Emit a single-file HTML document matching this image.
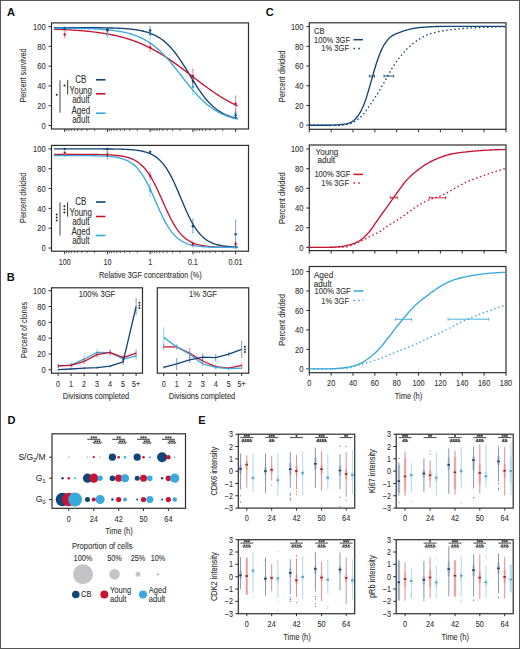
<!DOCTYPE html>
<html><head><meta charset="utf-8"><style>
html,body{margin:0;padding:0;background:#fff;}
svg{display:block;}
</style></head><body>
<svg width="520" height="649" viewBox="0 0 520 649" style="font-family:'Liberation Sans', sans-serif">
<rect width="520" height="649" fill="#fff"/>
<rect x="0.5" y="0.5" width="519" height="648" fill="none" stroke="#555" stroke-width="1"/>
<text transform="translate(11,15.8) scale(0.98,1)" font-size="11.3" text-anchor="middle" fill="#111" font-weight="bold">A</text>
<text transform="translate(10.8,281.2) scale(0.98,1)" font-size="11.3" text-anchor="middle" fill="#111" font-weight="bold">B</text>
<text transform="translate(269.7,15.9) scale(0.98,1)" font-size="11.3" text-anchor="middle" fill="#111" font-weight="bold">C</text>
<text transform="translate(11.4,423.8) scale(0.98,1)" font-size="11.3" text-anchor="middle" fill="#111" font-weight="bold">D</text>
<text transform="translate(202,423.8) scale(0.98,1)" font-size="11.3" text-anchor="middle" fill="#111" font-weight="bold">E</text>
<rect x="51.5" y="22.9" width="197" height="106.1" fill="none" stroke="#2e2e2e" stroke-width="1.2"/>
<line x1="48.5" y1="125.5" x2="51.5" y2="125.5" stroke="#2e2e2e" stroke-width="1" />
<text transform="translate(45.7,128.74) scale(0.84,1)" font-size="9" text-anchor="end" fill="#333333" font-weight="normal" stroke="#333333" stroke-width="0.1">0</text>
<line x1="48.5" y1="105.72" x2="51.5" y2="105.72" stroke="#2e2e2e" stroke-width="1" />
<text transform="translate(45.7,108.96) scale(0.84,1)" font-size="9" text-anchor="end" fill="#333333" font-weight="normal" stroke="#333333" stroke-width="0.1">20</text>
<line x1="48.5" y1="85.94" x2="51.5" y2="85.94" stroke="#2e2e2e" stroke-width="1" />
<text transform="translate(45.7,89.18) scale(0.84,1)" font-size="9" text-anchor="end" fill="#333333" font-weight="normal" stroke="#333333" stroke-width="0.1">40</text>
<line x1="48.5" y1="66.16" x2="51.5" y2="66.16" stroke="#2e2e2e" stroke-width="1" />
<text transform="translate(45.7,69.4) scale(0.84,1)" font-size="9" text-anchor="end" fill="#333333" font-weight="normal" stroke="#333333" stroke-width="0.1">60</text>
<line x1="48.5" y1="46.38" x2="51.5" y2="46.38" stroke="#2e2e2e" stroke-width="1" />
<text transform="translate(45.7,49.62) scale(0.84,1)" font-size="9" text-anchor="end" fill="#333333" font-weight="normal" stroke="#333333" stroke-width="0.1">80</text>
<line x1="48.5" y1="26.6" x2="51.5" y2="26.6" stroke="#2e2e2e" stroke-width="1" />
<text transform="translate(45.7,29.84) scale(0.84,1)" font-size="9" text-anchor="end" fill="#333333" font-weight="normal" stroke="#333333" stroke-width="0.1">100</text>
<line x1="64.7" y1="129" x2="64.7" y2="132" stroke="#2e2e2e" stroke-width="1" />
<line x1="94.56" y1="129" x2="94.56" y2="131" stroke="#2e2e2e" stroke-width="0.7" />
<line x1="87.04" y1="129" x2="87.04" y2="131" stroke="#2e2e2e" stroke-width="0.7" />
<line x1="81.7" y1="129" x2="81.7" y2="131" stroke="#2e2e2e" stroke-width="0.7" />
<line x1="77.56" y1="129" x2="77.56" y2="131" stroke="#2e2e2e" stroke-width="0.7" />
<line x1="74.18" y1="129" x2="74.18" y2="131" stroke="#2e2e2e" stroke-width="0.7" />
<line x1="71.32" y1="129" x2="71.32" y2="131" stroke="#2e2e2e" stroke-width="0.7" />
<line x1="68.84" y1="129" x2="68.84" y2="131" stroke="#2e2e2e" stroke-width="0.7" />
<line x1="66.65" y1="129" x2="66.65" y2="131" stroke="#2e2e2e" stroke-width="0.7" />
<line x1="107.42" y1="129" x2="107.42" y2="132" stroke="#2e2e2e" stroke-width="1" />
<line x1="137.28" y1="129" x2="137.28" y2="131" stroke="#2e2e2e" stroke-width="0.7" />
<line x1="129.76" y1="129" x2="129.76" y2="131" stroke="#2e2e2e" stroke-width="0.7" />
<line x1="124.42" y1="129" x2="124.42" y2="131" stroke="#2e2e2e" stroke-width="0.7" />
<line x1="120.28" y1="129" x2="120.28" y2="131" stroke="#2e2e2e" stroke-width="0.7" />
<line x1="116.9" y1="129" x2="116.9" y2="131" stroke="#2e2e2e" stroke-width="0.7" />
<line x1="114.04" y1="129" x2="114.04" y2="131" stroke="#2e2e2e" stroke-width="0.7" />
<line x1="111.56" y1="129" x2="111.56" y2="131" stroke="#2e2e2e" stroke-width="0.7" />
<line x1="109.37" y1="129" x2="109.37" y2="131" stroke="#2e2e2e" stroke-width="0.7" />
<line x1="150.14" y1="129" x2="150.14" y2="132" stroke="#2e2e2e" stroke-width="1" />
<line x1="180" y1="129" x2="180" y2="131" stroke="#2e2e2e" stroke-width="0.7" />
<line x1="172.48" y1="129" x2="172.48" y2="131" stroke="#2e2e2e" stroke-width="0.7" />
<line x1="167.14" y1="129" x2="167.14" y2="131" stroke="#2e2e2e" stroke-width="0.7" />
<line x1="163" y1="129" x2="163" y2="131" stroke="#2e2e2e" stroke-width="0.7" />
<line x1="159.62" y1="129" x2="159.62" y2="131" stroke="#2e2e2e" stroke-width="0.7" />
<line x1="156.76" y1="129" x2="156.76" y2="131" stroke="#2e2e2e" stroke-width="0.7" />
<line x1="154.28" y1="129" x2="154.28" y2="131" stroke="#2e2e2e" stroke-width="0.7" />
<line x1="152.09" y1="129" x2="152.09" y2="131" stroke="#2e2e2e" stroke-width="0.7" />
<line x1="192.86" y1="129" x2="192.86" y2="132" stroke="#2e2e2e" stroke-width="1" />
<line x1="222.72" y1="129" x2="222.72" y2="131" stroke="#2e2e2e" stroke-width="0.7" />
<line x1="215.2" y1="129" x2="215.2" y2="131" stroke="#2e2e2e" stroke-width="0.7" />
<line x1="209.86" y1="129" x2="209.86" y2="131" stroke="#2e2e2e" stroke-width="0.7" />
<line x1="205.72" y1="129" x2="205.72" y2="131" stroke="#2e2e2e" stroke-width="0.7" />
<line x1="202.34" y1="129" x2="202.34" y2="131" stroke="#2e2e2e" stroke-width="0.7" />
<line x1="199.48" y1="129" x2="199.48" y2="131" stroke="#2e2e2e" stroke-width="0.7" />
<line x1="197" y1="129" x2="197" y2="131" stroke="#2e2e2e" stroke-width="0.7" />
<line x1="194.81" y1="129" x2="194.81" y2="131" stroke="#2e2e2e" stroke-width="0.7" />
<line x1="235.58" y1="129" x2="235.58" y2="132" stroke="#2e2e2e" stroke-width="1" />
<text transform="translate(25.8,75.45) rotate(-90) scale(0.81,1)" font-size="9" text-anchor="middle" fill="#333333" font-weight="normal" stroke="#333333" stroke-width="0.1">Percent survived</text>
<path d="M54.02,27.6 L55.09,27.6 L56.16,27.6 L57.22,27.6 L58.29,27.6 L59.36,27.6 L60.43,27.6 L61.5,27.6 L62.56,27.6 L63.63,27.6 L64.7,27.6 L65.77,27.61 L66.84,27.61 L67.9,27.61 L68.97,27.61 L70.04,27.61 L71.11,27.61 L72.18,27.61 L73.24,27.62 L74.31,27.62 L75.38,27.62 L76.45,27.62 L77.52,27.63 L78.58,27.63 L79.65,27.63 L80.72,27.64 L81.79,27.64 L82.86,27.64 L83.92,27.65 L84.99,27.65 L86.06,27.66 L87.13,27.66 L88.2,27.67 L89.26,27.67 L90.33,27.68 L91.4,27.69 L92.47,27.69 L93.54,27.7 L94.6,27.71 L95.67,27.72 L96.74,27.73 L97.81,27.74 L98.88,27.75 L99.94,27.77 L101.01,27.78 L102.08,27.79 L103.15,27.81 L104.22,27.83 L105.28,27.85 L106.35,27.87 L107.42,27.89 L108.49,27.91 L109.56,27.94 L110.62,27.96 L111.69,27.99 L112.76,28.02 L113.83,28.06 L114.9,28.09 L115.96,28.13 L117.03,28.17 L118.1,28.22 L119.17,28.27 L120.24,28.32 L121.3,28.38 L122.37,28.44 L123.44,28.5 L124.51,28.57 L125.58,28.65 L126.64,28.73 L127.71,28.82 L128.78,28.91 L129.85,29.01 L130.92,29.12 L131.98,29.24 L133.05,29.36 L134.12,29.5 L135.19,29.64 L136.26,29.8 L137.32,29.96 L138.39,30.14 L139.46,30.34 L140.53,30.54 L141.6,30.77 L142.66,31 L143.73,31.26 L144.8,31.53 L145.87,31.82 L146.94,32.14 L148,32.47 L149.07,32.83 L150.14,33.21 L151.21,33.62 L152.28,34.06 L153.34,34.53 L154.41,35.02 L155.48,35.55 L156.55,36.11 L157.62,36.71 L158.68,37.35 L159.75,38.02 L160.82,38.73 L161.89,39.49 L162.96,40.29 L164.02,41.13 L165.09,42.03 L166.16,42.96 L167.23,43.95 L168.3,44.99 L169.36,46.07 L170.43,47.21 L171.5,48.4 L172.57,49.63 L173.64,50.92 L174.7,52.26 L175.77,53.64 L176.84,55.08 L177.91,56.55 L178.98,58.07 L180.04,59.63 L181.11,61.23 L182.18,62.87 L183.25,64.53 L184.32,66.22 L185.38,67.93 L186.45,69.66 L187.52,71.41 L188.59,73.16 L189.66,74.92 L190.72,76.67 L191.79,78.42 L192.86,80.16 L193.93,81.89 L195,83.59 L196.06,85.27 L197.13,86.92 L198.2,88.54 L199.27,90.13 L200.34,91.67 L201.4,93.18 L202.47,94.64 L203.54,96.05 L204.61,97.42 L205.68,98.73 L206.74,100 L207.81,101.22 L208.88,102.38 L209.95,103.5 L211.02,104.57 L212.08,105.58 L213.15,106.55 L214.22,107.47 L215.29,108.34 L216.36,109.17 L217.42,109.95 L218.49,110.69 L219.56,111.39 L220.63,112.05 L221.7,112.67 L222.76,113.25 L223.83,113.8 L224.9,114.31 L225.97,114.8 L227.04,115.25 L228.1,115.68 L229.17,116.08 L230.24,116.45 L231.31,116.8 L232.38,117.12 L233.44,117.43 L234.51,117.71 L235.58,117.98 L236.65,118.23 L237.72,118.46" fill="none" stroke="#114477" stroke-width="1.35" stroke-linejoin="round"/>
<path d="M54.02,29.19 L55.09,29.23 L56.16,29.26 L57.22,29.31 L58.29,29.35 L59.36,29.39 L60.43,29.44 L61.5,29.48 L62.56,29.53 L63.63,29.58 L64.7,29.63 L65.77,29.69 L66.84,29.74 L67.9,29.8 L68.97,29.86 L70.04,29.92 L71.11,29.98 L72.18,30.05 L73.24,30.12 L74.31,30.19 L75.38,30.26 L76.45,30.33 L77.52,30.41 L78.58,30.49 L79.65,30.57 L80.72,30.66 L81.79,30.75 L82.86,30.84 L83.92,30.93 L84.99,31.03 L86.06,31.13 L87.13,31.23 L88.2,31.34 L89.26,31.45 L90.33,31.56 L91.4,31.68 L92.47,31.8 L93.54,31.93 L94.6,32.06 L95.67,32.19 L96.74,32.33 L97.81,32.47 L98.88,32.62 L99.94,32.77 L101.01,32.93 L102.08,33.09 L103.15,33.25 L104.22,33.43 L105.28,33.6 L106.35,33.78 L107.42,33.97 L108.49,34.17 L109.56,34.37 L110.62,34.57 L111.69,34.78 L112.76,35 L113.83,35.23 L114.9,35.46 L115.96,35.7 L117.03,35.94 L118.1,36.2 L119.17,36.46 L120.24,36.72 L121.3,37 L122.37,37.28 L123.44,37.57 L124.51,37.87 L125.58,38.18 L126.64,38.5 L127.71,38.82 L128.78,39.15 L129.85,39.5 L130.92,39.85 L131.98,40.21 L133.05,40.58 L134.12,40.96 L135.19,41.35 L136.26,41.75 L137.32,42.16 L138.39,42.58 L139.46,43.01 L140.53,43.45 L141.6,43.9 L142.66,44.36 L143.73,44.83 L144.8,45.31 L145.87,45.81 L146.94,46.31 L148,46.82 L149.07,47.35 L150.14,47.89 L151.21,48.43 L152.28,48.99 L153.34,49.56 L154.41,50.14 L155.48,50.73 L156.55,51.34 L157.62,51.95 L158.68,52.57 L159.75,53.21 L160.82,53.85 L161.89,54.5 L162.96,55.17 L164.02,55.84 L165.09,56.53 L166.16,57.22 L167.23,57.93 L168.3,58.64 L169.36,59.36 L170.43,60.09 L171.5,60.83 L172.57,61.58 L173.64,62.33 L174.7,63.1 L175.77,63.87 L176.84,64.64 L177.91,65.42 L178.98,66.21 L180.04,67 L181.11,67.8 L182.18,68.61 L183.25,69.41 L184.32,70.22 L185.38,71.04 L186.45,71.86 L187.52,72.68 L188.59,73.5 L189.66,74.32 L190.72,75.14 L191.79,75.97 L192.86,76.79 L193.93,77.61 L195,78.44 L196.06,79.26 L197.13,80.08 L198.2,80.89 L199.27,81.71 L200.34,82.52 L201.4,83.32 L202.47,84.12 L203.54,84.92 L204.61,85.71 L205.68,86.5 L206.74,87.28 L207.81,88.05 L208.88,88.82 L209.95,89.57 L211.02,90.33 L212.08,91.07 L213.15,91.81 L214.22,92.53 L215.29,93.25 L216.36,93.96 L217.42,94.66 L218.49,95.35 L219.56,96.03 L220.63,96.7 L221.7,97.36 L222.76,98.01 L223.83,98.65 L224.9,99.28 L225.97,99.9 L227.04,100.51 L228.1,101.11 L229.17,101.7 L230.24,102.27 L231.31,102.84 L232.38,103.39 L233.44,103.94 L234.51,104.47 L235.58,104.99 L236.65,105.5 L237.72,106" fill="none" stroke="#c81432" stroke-width="1.35" stroke-linejoin="round"/>
<path d="M54.02,28.18 L55.09,28.19 L56.16,28.2 L57.22,28.2 L58.29,28.21 L59.36,28.22 L60.43,28.22 L61.5,28.23 L62.56,28.24 L63.63,28.25 L64.7,28.26 L65.77,28.27 L66.84,28.28 L67.9,28.29 L68.97,28.31 L70.04,28.32 L71.11,28.33 L72.18,28.35 L73.24,28.36 L74.31,28.38 L75.38,28.4 L76.45,28.42 L77.52,28.44 L78.58,28.46 L79.65,28.48 L80.72,28.5 L81.79,28.53 L82.86,28.55 L83.92,28.58 L84.99,28.61 L86.06,28.64 L87.13,28.68 L88.2,28.71 L89.26,28.75 L90.33,28.79 L91.4,28.83 L92.47,28.87 L93.54,28.92 L94.6,28.97 L95.67,29.02 L96.74,29.07 L97.81,29.13 L98.88,29.19 L99.94,29.26 L101.01,29.33 L102.08,29.4 L103.15,29.47 L104.22,29.56 L105.28,29.64 L106.35,29.73 L107.42,29.83 L108.49,29.93 L109.56,30.04 L110.62,30.15 L111.69,30.27 L112.76,30.4 L113.83,30.53 L114.9,30.67 L115.96,30.82 L117.03,30.98 L118.1,31.14 L119.17,31.32 L120.24,31.5 L121.3,31.7 L122.37,31.9 L123.44,32.12 L124.51,32.35 L125.58,32.59 L126.64,32.84 L127.71,33.11 L128.78,33.39 L129.85,33.69 L130.92,34 L131.98,34.33 L133.05,34.67 L134.12,35.03 L135.19,35.41 L136.26,35.81 L137.32,36.23 L138.39,36.67 L139.46,37.13 L140.53,37.61 L141.6,38.12 L142.66,38.65 L143.73,39.2 L144.8,39.78 L145.87,40.38 L146.94,41.01 L148,41.67 L149.07,42.35 L150.14,43.07 L151.21,43.81 L152.28,44.58 L153.34,45.38 L154.41,46.21 L155.48,47.07 L156.55,47.96 L157.62,48.88 L158.68,49.83 L159.75,50.81 L160.82,51.82 L161.89,52.87 L162.96,53.94 L164.02,55.04 L165.09,56.16 L166.16,57.32 L167.23,58.5 L168.3,59.7 L169.36,60.93 L170.43,62.18 L171.5,63.45 L172.57,64.74 L173.64,66.05 L174.7,67.38 L175.77,68.71 L176.84,70.06 L177.91,71.42 L178.98,72.79 L180.04,74.16 L181.11,75.53 L182.18,76.9 L183.25,78.27 L184.32,79.64 L185.38,81 L186.45,82.35 L187.52,83.7 L188.59,85.02 L189.66,86.34 L190.72,87.64 L191.79,88.92 L192.86,90.18 L193.93,91.41 L195,92.63 L196.06,93.82 L197.13,94.98 L198.2,96.12 L199.27,97.23 L200.34,98.31 L201.4,99.37 L202.47,100.39 L203.54,101.39 L204.61,102.35 L205.68,103.28 L206.74,104.18 L207.81,105.06 L208.88,105.9 L209.95,106.71 L211.02,107.49 L212.08,108.25 L213.15,108.97 L214.22,109.67 L215.29,110.34 L216.36,110.98 L217.42,111.59 L218.49,112.18 L219.56,112.74 L220.63,113.28 L221.7,113.79 L222.76,114.29 L223.83,114.75 L224.9,115.2 L225.97,115.63 L227.04,116.04 L228.1,116.42 L229.17,116.79 L230.24,117.14 L231.31,117.48 L232.38,117.8 L233.44,118.1 L234.51,118.39 L235.58,118.66 L236.65,118.92 L237.72,119.16" fill="none" stroke="#38aadd" stroke-width="1.35" stroke-linejoin="round"/>
<line x1="64.7" y1="26.6" x2="64.7" y2="30.56" stroke="#38aadd" stroke-width="1.0" opacity="0.5"/>
<line x1="63.9" y1="26.6" x2="65.5" y2="26.6" stroke="#38aadd" stroke-width="0.6" opacity="0.5"/>
<line x1="63.9" y1="30.56" x2="65.5" y2="30.56" stroke="#38aadd" stroke-width="0.6" opacity="0.5"/>
<circle cx="64.7" cy="28.58" r="1.2" fill="#38aadd"/>
<line x1="107.42" y1="31.55" x2="107.42" y2="37.48" stroke="#38aadd" stroke-width="1.0" opacity="0.5"/>
<line x1="106.62" y1="31.55" x2="108.22" y2="31.55" stroke="#38aadd" stroke-width="0.6" opacity="0.5"/>
<line x1="106.62" y1="37.48" x2="108.22" y2="37.48" stroke="#38aadd" stroke-width="0.6" opacity="0.5"/>
<circle cx="107.42" cy="34.51" r="1.2" fill="#38aadd"/>
<line x1="150.14" y1="29.57" x2="150.14" y2="39.46" stroke="#38aadd" stroke-width="1.0" opacity="0.5"/>
<line x1="149.34" y1="29.57" x2="150.94" y2="29.57" stroke="#38aadd" stroke-width="0.6" opacity="0.5"/>
<line x1="149.34" y1="39.46" x2="150.94" y2="39.46" stroke="#38aadd" stroke-width="0.6" opacity="0.5"/>
<circle cx="150.14" cy="34.51" r="1.2" fill="#38aadd"/>
<line x1="192.86" y1="79.02" x2="192.86" y2="94.84" stroke="#38aadd" stroke-width="1.0" opacity="0.5"/>
<line x1="192.06" y1="79.02" x2="193.66" y2="79.02" stroke="#38aadd" stroke-width="0.6" opacity="0.5"/>
<line x1="192.06" y1="94.84" x2="193.66" y2="94.84" stroke="#38aadd" stroke-width="0.6" opacity="0.5"/>
<circle cx="192.86" cy="86.93" r="1.2" fill="#38aadd"/>
<line x1="235.58" y1="109.68" x2="235.58" y2="117.59" stroke="#38aadd" stroke-width="1.0" opacity="0.5"/>
<line x1="234.78" y1="109.68" x2="236.38" y2="109.68" stroke="#38aadd" stroke-width="0.6" opacity="0.5"/>
<line x1="234.78" y1="117.59" x2="236.38" y2="117.59" stroke="#38aadd" stroke-width="0.6" opacity="0.5"/>
<circle cx="235.58" cy="113.63" r="1.2" fill="#38aadd"/>
<line x1="64.7" y1="31.55" x2="64.7" y2="37.48" stroke="#c81432" stroke-width="1.0" opacity="0.5"/>
<line x1="63.9" y1="31.55" x2="65.5" y2="31.55" stroke="#c81432" stroke-width="0.6" opacity="0.5"/>
<line x1="63.9" y1="37.48" x2="65.5" y2="37.48" stroke="#c81432" stroke-width="0.6" opacity="0.5"/>
<circle cx="64.7" cy="34.51" r="1.2" fill="#c81432"/>
<line x1="107.42" y1="28.58" x2="107.42" y2="32.53" stroke="#c81432" stroke-width="1.0" opacity="0.5"/>
<line x1="106.62" y1="28.58" x2="108.22" y2="28.58" stroke="#c81432" stroke-width="0.6" opacity="0.5"/>
<line x1="106.62" y1="32.53" x2="108.22" y2="32.53" stroke="#c81432" stroke-width="0.6" opacity="0.5"/>
<circle cx="107.42" cy="30.56" r="1.2" fill="#c81432"/>
<line x1="150.14" y1="43.41" x2="150.14" y2="51.33" stroke="#c81432" stroke-width="1.0" opacity="0.5"/>
<line x1="149.34" y1="43.41" x2="150.94" y2="43.41" stroke="#c81432" stroke-width="0.6" opacity="0.5"/>
<line x1="149.34" y1="51.33" x2="150.94" y2="51.33" stroke="#c81432" stroke-width="0.6" opacity="0.5"/>
<circle cx="150.14" cy="47.37" r="1.2" fill="#c81432"/>
<line x1="192.86" y1="69.13" x2="192.86" y2="82.97" stroke="#c81432" stroke-width="1.0" opacity="0.5"/>
<line x1="192.06" y1="69.13" x2="193.66" y2="69.13" stroke="#c81432" stroke-width="0.6" opacity="0.5"/>
<line x1="192.06" y1="82.97" x2="193.66" y2="82.97" stroke="#c81432" stroke-width="0.6" opacity="0.5"/>
<circle cx="192.86" cy="76.05" r="1.2" fill="#c81432"/>
<line x1="235.58" y1="95.83" x2="235.58" y2="111.65" stroke="#c81432" stroke-width="1.0" opacity="0.5"/>
<line x1="234.78" y1="95.83" x2="236.38" y2="95.83" stroke="#c81432" stroke-width="0.6" opacity="0.5"/>
<line x1="234.78" y1="111.65" x2="236.38" y2="111.65" stroke="#c81432" stroke-width="0.6" opacity="0.5"/>
<circle cx="235.58" cy="103.74" r="1.2" fill="#c81432"/>
<line x1="64.7" y1="27.59" x2="64.7" y2="29.57" stroke="#114477" stroke-width="1.0" opacity="0.5"/>
<line x1="63.9" y1="27.59" x2="65.5" y2="27.59" stroke="#114477" stroke-width="0.6" opacity="0.5"/>
<line x1="63.9" y1="29.57" x2="65.5" y2="29.57" stroke="#114477" stroke-width="0.6" opacity="0.5"/>
<circle cx="64.7" cy="28.58" r="1.2" fill="#114477"/>
<line x1="107.42" y1="28.58" x2="107.42" y2="30.56" stroke="#114477" stroke-width="1.0" opacity="0.5"/>
<line x1="106.62" y1="28.58" x2="108.22" y2="28.58" stroke="#114477" stroke-width="0.6" opacity="0.5"/>
<line x1="106.62" y1="30.56" x2="108.22" y2="30.56" stroke="#114477" stroke-width="0.6" opacity="0.5"/>
<circle cx="107.42" cy="29.57" r="1.2" fill="#114477"/>
<line x1="150.14" y1="26.6" x2="150.14" y2="34.51" stroke="#114477" stroke-width="1.0" opacity="0.5"/>
<line x1="149.34" y1="26.6" x2="150.94" y2="26.6" stroke="#114477" stroke-width="0.6" opacity="0.5"/>
<line x1="149.34" y1="34.51" x2="150.94" y2="34.51" stroke="#114477" stroke-width="0.6" opacity="0.5"/>
<circle cx="150.14" cy="30.56" r="1.2" fill="#114477"/>
<line x1="192.86" y1="76.05" x2="192.86" y2="85.94" stroke="#114477" stroke-width="1.0" opacity="0.5"/>
<line x1="192.06" y1="76.05" x2="193.66" y2="76.05" stroke="#114477" stroke-width="0.6" opacity="0.5"/>
<line x1="192.06" y1="85.94" x2="193.66" y2="85.94" stroke="#114477" stroke-width="0.6" opacity="0.5"/>
<circle cx="192.86" cy="81" r="1.2" fill="#114477"/>
<line x1="235.58" y1="112.64" x2="235.58" y2="118.58" stroke="#114477" stroke-width="1.0" opacity="0.5"/>
<line x1="234.78" y1="112.64" x2="236.38" y2="112.64" stroke="#114477" stroke-width="0.6" opacity="0.5"/>
<line x1="234.78" y1="118.58" x2="236.38" y2="118.58" stroke="#114477" stroke-width="0.6" opacity="0.5"/>
<circle cx="235.58" cy="115.61" r="1.2" fill="#114477"/>
<text transform="translate(80.8,82.9) scale(0.8,1)" font-size="10" text-anchor="middle" fill="#333333" font-weight="normal" stroke="#333333" stroke-width="0.1">CB</text>
<text transform="translate(80.8,93.9) scale(0.8,1)" font-size="10" text-anchor="middle" fill="#333333" font-weight="normal" stroke="#333333" stroke-width="0.1">Young</text>
<text transform="translate(80.8,102.9) scale(0.8,1)" font-size="10" text-anchor="middle" fill="#333333" font-weight="normal" stroke="#333333" stroke-width="0.1">adult</text>
<text transform="translate(80.8,113.9) scale(0.8,1)" font-size="10" text-anchor="middle" fill="#333333" font-weight="normal" stroke="#333333" stroke-width="0.1">Aged</text>
<text transform="translate(80.8,122.9) scale(0.8,1)" font-size="10" text-anchor="middle" fill="#333333" font-weight="normal" stroke="#333333" stroke-width="0.1">adult</text>
<line x1="96" y1="79.8" x2="105.5" y2="79.8" stroke="#114477" stroke-width="1.6" />
<line x1="96" y1="93.8" x2="105.5" y2="93.8" stroke="#c81432" stroke-width="1.6" />
<line x1="96" y1="113.2" x2="105.5" y2="113.2" stroke="#38aadd" stroke-width="1.6" />
<line x1="60" y1="80.2" x2="60" y2="112.7" stroke="#8a8a8a" stroke-width="1.6" />
<line x1="67.7" y1="80.2" x2="67.7" y2="94.4" stroke="#333" stroke-width="1.0" />
<circle cx="56.7" cy="94.7" r="1" fill="#222"/>
<circle cx="64.5" cy="85.4" r="1" fill="#222"/>
<rect x="51.5" y="145.4" width="197" height="105.8" fill="none" stroke="#2e2e2e" stroke-width="1.2"/>
<line x1="48.5" y1="248" x2="51.5" y2="248" stroke="#2e2e2e" stroke-width="1" />
<text transform="translate(45.7,251.24) scale(0.84,1)" font-size="9" text-anchor="end" fill="#333333" font-weight="normal" stroke="#333333" stroke-width="0.1">0</text>
<line x1="48.5" y1="228.18" x2="51.5" y2="228.18" stroke="#2e2e2e" stroke-width="1" />
<text transform="translate(45.7,231.42) scale(0.84,1)" font-size="9" text-anchor="end" fill="#333333" font-weight="normal" stroke="#333333" stroke-width="0.1">20</text>
<line x1="48.5" y1="208.36" x2="51.5" y2="208.36" stroke="#2e2e2e" stroke-width="1" />
<text transform="translate(45.7,211.6) scale(0.84,1)" font-size="9" text-anchor="end" fill="#333333" font-weight="normal" stroke="#333333" stroke-width="0.1">40</text>
<line x1="48.5" y1="188.54" x2="51.5" y2="188.54" stroke="#2e2e2e" stroke-width="1" />
<text transform="translate(45.7,191.78) scale(0.84,1)" font-size="9" text-anchor="end" fill="#333333" font-weight="normal" stroke="#333333" stroke-width="0.1">60</text>
<line x1="48.5" y1="168.72" x2="51.5" y2="168.72" stroke="#2e2e2e" stroke-width="1" />
<text transform="translate(45.7,171.96) scale(0.84,1)" font-size="9" text-anchor="end" fill="#333333" font-weight="normal" stroke="#333333" stroke-width="0.1">80</text>
<line x1="48.5" y1="148.9" x2="51.5" y2="148.9" stroke="#2e2e2e" stroke-width="1" />
<text transform="translate(45.7,152.14) scale(0.84,1)" font-size="9" text-anchor="end" fill="#333333" font-weight="normal" stroke="#333333" stroke-width="0.1">100</text>
<line x1="64.7" y1="251.2" x2="64.7" y2="254.2" stroke="#2e2e2e" stroke-width="1" />
<line x1="94.56" y1="251.2" x2="94.56" y2="253.2" stroke="#2e2e2e" stroke-width="0.7" />
<line x1="87.04" y1="251.2" x2="87.04" y2="253.2" stroke="#2e2e2e" stroke-width="0.7" />
<line x1="81.7" y1="251.2" x2="81.7" y2="253.2" stroke="#2e2e2e" stroke-width="0.7" />
<line x1="77.56" y1="251.2" x2="77.56" y2="253.2" stroke="#2e2e2e" stroke-width="0.7" />
<line x1="74.18" y1="251.2" x2="74.18" y2="253.2" stroke="#2e2e2e" stroke-width="0.7" />
<line x1="71.32" y1="251.2" x2="71.32" y2="253.2" stroke="#2e2e2e" stroke-width="0.7" />
<line x1="68.84" y1="251.2" x2="68.84" y2="253.2" stroke="#2e2e2e" stroke-width="0.7" />
<line x1="66.65" y1="251.2" x2="66.65" y2="253.2" stroke="#2e2e2e" stroke-width="0.7" />
<line x1="107.42" y1="251.2" x2="107.42" y2="254.2" stroke="#2e2e2e" stroke-width="1" />
<line x1="137.28" y1="251.2" x2="137.28" y2="253.2" stroke="#2e2e2e" stroke-width="0.7" />
<line x1="129.76" y1="251.2" x2="129.76" y2="253.2" stroke="#2e2e2e" stroke-width="0.7" />
<line x1="124.42" y1="251.2" x2="124.42" y2="253.2" stroke="#2e2e2e" stroke-width="0.7" />
<line x1="120.28" y1="251.2" x2="120.28" y2="253.2" stroke="#2e2e2e" stroke-width="0.7" />
<line x1="116.9" y1="251.2" x2="116.9" y2="253.2" stroke="#2e2e2e" stroke-width="0.7" />
<line x1="114.04" y1="251.2" x2="114.04" y2="253.2" stroke="#2e2e2e" stroke-width="0.7" />
<line x1="111.56" y1="251.2" x2="111.56" y2="253.2" stroke="#2e2e2e" stroke-width="0.7" />
<line x1="109.37" y1="251.2" x2="109.37" y2="253.2" stroke="#2e2e2e" stroke-width="0.7" />
<line x1="150.14" y1="251.2" x2="150.14" y2="254.2" stroke="#2e2e2e" stroke-width="1" />
<line x1="180" y1="251.2" x2="180" y2="253.2" stroke="#2e2e2e" stroke-width="0.7" />
<line x1="172.48" y1="251.2" x2="172.48" y2="253.2" stroke="#2e2e2e" stroke-width="0.7" />
<line x1="167.14" y1="251.2" x2="167.14" y2="253.2" stroke="#2e2e2e" stroke-width="0.7" />
<line x1="163" y1="251.2" x2="163" y2="253.2" stroke="#2e2e2e" stroke-width="0.7" />
<line x1="159.62" y1="251.2" x2="159.62" y2="253.2" stroke="#2e2e2e" stroke-width="0.7" />
<line x1="156.76" y1="251.2" x2="156.76" y2="253.2" stroke="#2e2e2e" stroke-width="0.7" />
<line x1="154.28" y1="251.2" x2="154.28" y2="253.2" stroke="#2e2e2e" stroke-width="0.7" />
<line x1="152.09" y1="251.2" x2="152.09" y2="253.2" stroke="#2e2e2e" stroke-width="0.7" />
<line x1="192.86" y1="251.2" x2="192.86" y2="254.2" stroke="#2e2e2e" stroke-width="1" />
<line x1="222.72" y1="251.2" x2="222.72" y2="253.2" stroke="#2e2e2e" stroke-width="0.7" />
<line x1="215.2" y1="251.2" x2="215.2" y2="253.2" stroke="#2e2e2e" stroke-width="0.7" />
<line x1="209.86" y1="251.2" x2="209.86" y2="253.2" stroke="#2e2e2e" stroke-width="0.7" />
<line x1="205.72" y1="251.2" x2="205.72" y2="253.2" stroke="#2e2e2e" stroke-width="0.7" />
<line x1="202.34" y1="251.2" x2="202.34" y2="253.2" stroke="#2e2e2e" stroke-width="0.7" />
<line x1="199.48" y1="251.2" x2="199.48" y2="253.2" stroke="#2e2e2e" stroke-width="0.7" />
<line x1="197" y1="251.2" x2="197" y2="253.2" stroke="#2e2e2e" stroke-width="0.7" />
<line x1="194.81" y1="251.2" x2="194.81" y2="253.2" stroke="#2e2e2e" stroke-width="0.7" />
<line x1="235.58" y1="251.2" x2="235.58" y2="254.2" stroke="#2e2e2e" stroke-width="1" />
<text transform="translate(25.8,197.8) rotate(-90) scale(0.81,1)" font-size="9" text-anchor="middle" fill="#333333" font-weight="normal" stroke="#333333" stroke-width="0.1">Percent divided</text>
<path d="M54.02,148.9 L55.09,148.9 L56.16,148.9 L57.22,148.9 L58.29,148.9 L59.36,148.9 L60.43,148.9 L61.5,148.9 L62.56,148.9 L63.63,148.9 L64.7,148.9 L65.77,148.9 L66.84,148.9 L67.9,148.9 L68.97,148.9 L70.04,148.9 L71.11,148.9 L72.18,148.9 L73.24,148.9 L74.31,148.9 L75.38,148.9 L76.45,148.9 L77.52,148.9 L78.58,148.9 L79.65,148.91 L80.72,148.91 L81.79,148.91 L82.86,148.91 L83.92,148.91 L84.99,148.91 L86.06,148.91 L87.13,148.91 L88.2,148.91 L89.26,148.91 L90.33,148.92 L91.4,148.92 L92.47,148.92 L93.54,148.92 L94.6,148.92 L95.67,148.93 L96.74,148.93 L97.81,148.93 L98.88,148.93 L99.94,148.94 L101.01,148.94 L102.08,148.95 L103.15,148.95 L104.22,148.96 L105.28,148.96 L106.35,148.97 L107.42,148.98 L108.49,148.99 L109.56,149 L110.62,149.01 L111.69,149.02 L112.76,149.03 L113.83,149.05 L114.9,149.06 L115.96,149.08 L117.03,149.1 L118.1,149.12 L119.17,149.15 L120.24,149.17 L121.3,149.2 L122.37,149.24 L123.44,149.27 L124.51,149.31 L125.58,149.36 L126.64,149.41 L127.71,149.46 L128.78,149.52 L129.85,149.59 L130.92,149.67 L131.98,149.75 L133.05,149.84 L134.12,149.94 L135.19,150.06 L136.26,150.18 L137.32,150.32 L138.39,150.47 L139.46,150.64 L140.53,150.82 L141.6,151.03 L142.66,151.26 L143.73,151.51 L144.8,151.78 L145.87,152.09 L146.94,152.42 L148,152.79 L149.07,153.2 L150.14,153.65 L151.21,154.14 L152.28,154.68 L153.34,155.27 L154.41,155.91 L155.48,156.62 L156.55,157.39 L157.62,158.23 L158.68,159.14 L159.75,160.13 L160.82,161.2 L161.89,162.36 L162.96,163.61 L164.02,164.96 L165.09,166.4 L166.16,167.94 L167.23,169.58 L168.3,171.33 L169.36,173.18 L170.43,175.12 L171.5,177.16 L172.57,179.3 L173.64,181.52 L174.7,183.82 L175.77,186.19 L176.84,188.62 L177.91,191.1 L178.98,193.62 L180.04,196.16 L181.11,198.71 L182.18,201.26 L183.25,203.8 L184.32,206.3 L185.38,208.76 L186.45,211.17 L187.52,213.52 L188.59,215.78 L189.66,217.97 L190.72,220.07 L191.79,222.07 L192.86,223.98 L193.93,225.79 L195,227.49 L196.06,229.09 L197.13,230.59 L198.2,232 L199.27,233.3 L200.34,234.52 L201.4,235.64 L202.47,236.68 L203.54,237.64 L204.61,238.52 L205.68,239.33 L206.74,240.08 L207.81,240.76 L208.88,241.38 L209.95,241.95 L211.02,242.47 L212.08,242.94 L213.15,243.37 L214.22,243.76 L215.29,244.12 L216.36,244.44 L217.42,244.73 L218.49,245 L219.56,245.24 L220.63,245.46 L221.7,245.66 L222.76,245.84 L223.83,246 L224.9,246.14 L225.97,246.28 L227.04,246.4 L228.1,246.5 L229.17,246.6 L230.24,246.69 L231.31,246.77 L232.38,246.84 L233.44,246.91 L234.51,246.96 L235.58,247.02 L236.65,247.07 L237.72,247.11" fill="none" stroke="#114477" stroke-width="1.35" stroke-linejoin="round"/>
<path d="M54.02,154.35 L55.09,154.35 L56.16,154.35 L57.22,154.35 L58.29,154.35 L59.36,154.35 L60.43,154.36 L61.5,154.36 L62.56,154.36 L63.63,154.36 L64.7,154.36 L65.77,154.36 L66.84,154.36 L67.9,154.36 L68.97,154.36 L70.04,154.36 L71.11,154.36 L72.18,154.37 L73.24,154.37 L74.31,154.37 L75.38,154.37 L76.45,154.37 L77.52,154.37 L78.58,154.38 L79.65,154.38 L80.72,154.38 L81.79,154.39 L82.86,154.39 L83.92,154.4 L84.99,154.4 L86.06,154.41 L87.13,154.41 L88.2,154.42 L89.26,154.43 L90.33,154.43 L91.4,154.44 L92.47,154.45 L93.54,154.47 L94.6,154.48 L95.67,154.49 L96.74,154.51 L97.81,154.52 L98.88,154.54 L99.94,154.56 L101.01,154.59 L102.08,154.61 L103.15,154.64 L104.22,154.67 L105.28,154.71 L106.35,154.75 L107.42,154.79 L108.49,154.84 L109.56,154.89 L110.62,154.95 L111.69,155.02 L112.76,155.09 L113.83,155.17 L114.9,155.26 L115.96,155.36 L117.03,155.46 L118.1,155.58 L119.17,155.72 L120.24,155.86 L121.3,156.03 L122.37,156.21 L123.44,156.4 L124.51,156.62 L125.58,156.86 L126.64,157.13 L127.71,157.42 L128.78,157.75 L129.85,158.1 L130.92,158.49 L131.98,158.92 L133.05,159.4 L134.12,159.92 L135.19,160.48 L136.26,161.1 L137.32,161.78 L138.39,162.52 L139.46,163.33 L140.53,164.21 L141.6,165.16 L142.66,166.19 L143.73,167.3 L144.8,168.5 L145.87,169.79 L146.94,171.17 L148,172.64 L149.07,174.21 L150.14,175.88 L151.21,177.64 L152.28,179.5 L153.34,181.45 L154.41,183.48 L155.48,185.59 L156.55,187.78 L157.62,190.03 L158.68,192.34 L159.75,194.69 L160.82,197.08 L161.89,199.48 L162.96,201.89 L164.02,204.3 L165.09,206.69 L166.16,209.05 L167.23,211.36 L168.3,213.63 L169.36,215.83 L170.43,217.96 L171.5,220.01 L172.57,221.97 L173.64,223.85 L174.7,225.63 L175.77,227.32 L176.84,228.91 L177.91,230.4 L178.98,231.8 L180.04,233.11 L181.11,234.32 L182.18,235.45 L183.25,236.5 L184.32,237.47 L185.38,238.36 L186.45,239.18 L187.52,239.93 L188.59,240.62 L189.66,241.25 L190.72,241.83 L191.79,242.36 L192.86,242.84 L193.93,243.28 L195,243.68 L196.06,244.04 L197.13,244.37 L198.2,244.67 L199.27,244.94 L200.34,245.19 L201.4,245.41 L202.47,245.61 L203.54,245.79 L204.61,245.96 L205.68,246.11 L206.74,246.24 L207.81,246.37 L208.88,246.48 L209.95,246.58 L211.02,246.67 L212.08,246.75 L213.15,246.82 L214.22,246.89 L215.29,246.95 L216.36,247 L217.42,247.05 L218.49,247.1 L219.56,247.14 L220.63,247.17 L221.7,247.21 L222.76,247.24 L223.83,247.26 L224.9,247.29 L225.97,247.31 L227.04,247.33 L228.1,247.34 L229.17,247.36 L230.24,247.37 L231.31,247.39 L232.38,247.4 L233.44,247.41 L234.51,247.42 L235.58,247.43 L236.65,247.43 L237.72,247.44" fill="none" stroke="#c81432" stroke-width="1.35" stroke-linejoin="round"/>
<path d="M54.02,155.54 L55.09,155.54 L56.16,155.54 L57.22,155.54 L58.29,155.55 L59.36,155.55 L60.43,155.55 L61.5,155.55 L62.56,155.55 L63.63,155.55 L64.7,155.55 L65.77,155.55 L66.84,155.55 L67.9,155.55 L68.97,155.56 L70.04,155.56 L71.11,155.56 L72.18,155.56 L73.24,155.56 L74.31,155.57 L75.38,155.57 L76.45,155.57 L77.52,155.58 L78.58,155.58 L79.65,155.59 L80.72,155.59 L81.79,155.6 L82.86,155.6 L83.92,155.61 L84.99,155.62 L86.06,155.63 L87.13,155.64 L88.2,155.65 L89.26,155.66 L90.33,155.68 L91.4,155.69 L92.47,155.71 L93.54,155.73 L94.6,155.75 L95.67,155.77 L96.74,155.8 L97.81,155.83 L98.88,155.86 L99.94,155.89 L101.01,155.93 L102.08,155.98 L103.15,156.02 L104.22,156.08 L105.28,156.14 L106.35,156.21 L107.42,156.28 L108.49,156.36 L109.56,156.45 L110.62,156.56 L111.69,156.67 L112.76,156.79 L113.83,156.93 L114.9,157.09 L115.96,157.26 L117.03,157.45 L118.1,157.66 L119.17,157.89 L120.24,158.14 L121.3,158.43 L122.37,158.74 L123.44,159.09 L124.51,159.47 L125.58,159.89 L126.64,160.35 L127.71,160.86 L128.78,161.42 L129.85,162.03 L130.92,162.71 L131.98,163.44 L133.05,164.25 L134.12,165.12 L135.19,166.08 L136.26,167.11 L137.32,168.23 L138.39,169.44 L139.46,170.75 L140.53,172.15 L141.6,173.65 L142.66,175.25 L143.73,176.95 L144.8,178.74 L145.87,180.64 L146.94,182.63 L148,184.71 L149.07,186.87 L150.14,189.11 L151.21,191.41 L152.28,193.76 L153.34,196.16 L154.41,198.59 L155.48,201.03 L156.55,203.48 L157.62,205.92 L158.68,208.33 L159.75,210.7 L160.82,213.03 L161.89,215.29 L162.96,217.48 L164.02,219.59 L165.09,221.62 L166.16,223.55 L167.23,225.39 L168.3,227.13 L169.36,228.77 L170.43,230.31 L171.5,231.75 L172.57,233.09 L173.64,234.34 L174.7,235.49 L175.77,236.56 L176.84,237.55 L177.91,238.45 L178.98,239.29 L180.04,240.05 L181.11,240.75 L182.18,241.38 L183.25,241.97 L184.32,242.49 L185.38,242.98 L186.45,243.41 L187.52,243.81 L188.59,244.17 L189.66,244.5 L190.72,244.79 L191.79,245.06 L192.86,245.3 L193.93,245.52 L195,245.71 L196.06,245.89 L197.13,246.05 L198.2,246.2 L199.27,246.33 L200.34,246.44 L201.4,246.55 L202.47,246.65 L203.54,246.73 L204.61,246.81 L205.68,246.88 L206.74,246.94 L207.81,247 L208.88,247.05 L209.95,247.1 L211.02,247.14 L212.08,247.17 L213.15,247.21 L214.22,247.24 L215.29,247.26 L216.36,247.29 L217.42,247.31 L218.49,247.33 L219.56,247.35 L220.63,247.36 L221.7,247.38 L222.76,247.39 L223.83,247.4 L224.9,247.41 L225.97,247.42 L227.04,247.43 L228.1,247.44 L229.17,247.44 L230.24,247.45 L231.31,247.46 L232.38,247.46 L233.44,247.47 L234.51,247.47 L235.58,247.47 L236.65,247.48 L237.72,247.48" fill="none" stroke="#38aadd" stroke-width="1.35" stroke-linejoin="round"/>
<line x1="64.7" y1="152.86" x2="64.7" y2="156.83" stroke="#38aadd" stroke-width="1.0" opacity="0.5"/>
<line x1="63.9" y1="152.86" x2="65.5" y2="152.86" stroke="#38aadd" stroke-width="0.6" opacity="0.5"/>
<line x1="63.9" y1="156.83" x2="65.5" y2="156.83" stroke="#38aadd" stroke-width="0.6" opacity="0.5"/>
<circle cx="64.7" cy="154.85" r="1.2" fill="#38aadd"/>
<line x1="107.42" y1="150.88" x2="107.42" y2="156.83" stroke="#38aadd" stroke-width="1.0" opacity="0.5"/>
<line x1="106.62" y1="150.88" x2="108.22" y2="150.88" stroke="#38aadd" stroke-width="0.6" opacity="0.5"/>
<line x1="106.62" y1="156.83" x2="108.22" y2="156.83" stroke="#38aadd" stroke-width="0.6" opacity="0.5"/>
<circle cx="107.42" cy="153.86" r="1.2" fill="#38aadd"/>
<line x1="150.14" y1="184.58" x2="150.14" y2="196.47" stroke="#38aadd" stroke-width="1.0" opacity="0.5"/>
<line x1="149.34" y1="184.58" x2="150.94" y2="184.58" stroke="#38aadd" stroke-width="0.6" opacity="0.5"/>
<line x1="149.34" y1="196.47" x2="150.94" y2="196.47" stroke="#38aadd" stroke-width="0.6" opacity="0.5"/>
<circle cx="150.14" cy="190.52" r="1.2" fill="#38aadd"/>
<line x1="192.86" y1="243.04" x2="192.86" y2="247.01" stroke="#38aadd" stroke-width="1.0" opacity="0.5"/>
<line x1="192.06" y1="243.04" x2="193.66" y2="243.04" stroke="#38aadd" stroke-width="0.6" opacity="0.5"/>
<line x1="192.06" y1="247.01" x2="193.66" y2="247.01" stroke="#38aadd" stroke-width="0.6" opacity="0.5"/>
<circle cx="192.86" cy="245.03" r="1.2" fill="#38aadd"/>
<line x1="235.58" y1="246.02" x2="235.58" y2="248" stroke="#38aadd" stroke-width="1.0" opacity="0.5"/>
<line x1="234.78" y1="246.02" x2="236.38" y2="246.02" stroke="#38aadd" stroke-width="0.6" opacity="0.5"/>
<line x1="234.78" y1="248" x2="236.38" y2="248" stroke="#38aadd" stroke-width="0.6" opacity="0.5"/>
<circle cx="235.58" cy="247.01" r="1.2" fill="#38aadd"/>
<line x1="64.7" y1="150.88" x2="64.7" y2="154.85" stroke="#c81432" stroke-width="1.0" opacity="0.5"/>
<line x1="63.9" y1="150.88" x2="65.5" y2="150.88" stroke="#c81432" stroke-width="0.6" opacity="0.5"/>
<line x1="63.9" y1="154.85" x2="65.5" y2="154.85" stroke="#c81432" stroke-width="0.6" opacity="0.5"/>
<circle cx="64.7" cy="152.86" r="1.2" fill="#c81432"/>
<line x1="107.42" y1="150.88" x2="107.42" y2="158.81" stroke="#c81432" stroke-width="1.0" opacity="0.5"/>
<line x1="106.62" y1="150.88" x2="108.22" y2="150.88" stroke="#c81432" stroke-width="0.6" opacity="0.5"/>
<line x1="106.62" y1="158.81" x2="108.22" y2="158.81" stroke="#c81432" stroke-width="0.6" opacity="0.5"/>
<circle cx="107.42" cy="154.85" r="1.2" fill="#c81432"/>
<line x1="150.14" y1="171.69" x2="150.14" y2="179.62" stroke="#c81432" stroke-width="1.0" opacity="0.5"/>
<line x1="149.34" y1="171.69" x2="150.94" y2="171.69" stroke="#c81432" stroke-width="0.6" opacity="0.5"/>
<line x1="149.34" y1="179.62" x2="150.94" y2="179.62" stroke="#c81432" stroke-width="0.6" opacity="0.5"/>
<circle cx="150.14" cy="175.66" r="1.2" fill="#c81432"/>
<line x1="192.86" y1="242.05" x2="192.86" y2="246.02" stroke="#c81432" stroke-width="1.0" opacity="0.5"/>
<line x1="192.06" y1="242.05" x2="193.66" y2="242.05" stroke="#c81432" stroke-width="0.6" opacity="0.5"/>
<line x1="192.06" y1="246.02" x2="193.66" y2="246.02" stroke="#c81432" stroke-width="0.6" opacity="0.5"/>
<circle cx="192.86" cy="244.04" r="1.2" fill="#c81432"/>
<line x1="235.58" y1="242.05" x2="235.58" y2="246.02" stroke="#c81432" stroke-width="1.0" opacity="0.5"/>
<line x1="234.78" y1="242.05" x2="236.38" y2="242.05" stroke="#c81432" stroke-width="0.6" opacity="0.5"/>
<line x1="234.78" y1="246.02" x2="236.38" y2="246.02" stroke="#c81432" stroke-width="0.6" opacity="0.5"/>
<circle cx="235.58" cy="244.04" r="1.2" fill="#c81432"/>
<line x1="64.7" y1="148.4" x2="64.7" y2="149.4" stroke="#114477" stroke-width="1.0" opacity="0.5"/>
<line x1="63.9" y1="148.4" x2="65.5" y2="148.4" stroke="#114477" stroke-width="0.6" opacity="0.5"/>
<line x1="63.9" y1="149.4" x2="65.5" y2="149.4" stroke="#114477" stroke-width="0.6" opacity="0.5"/>
<circle cx="64.7" cy="148.9" r="1.2" fill="#114477"/>
<line x1="107.42" y1="148.4" x2="107.42" y2="149.4" stroke="#114477" stroke-width="1.0" opacity="0.5"/>
<line x1="106.62" y1="148.4" x2="108.22" y2="148.4" stroke="#114477" stroke-width="0.6" opacity="0.5"/>
<line x1="106.62" y1="149.4" x2="108.22" y2="149.4" stroke="#114477" stroke-width="0.6" opacity="0.5"/>
<circle cx="107.42" cy="148.9" r="1.2" fill="#114477"/>
<line x1="150.14" y1="150.88" x2="150.14" y2="152.86" stroke="#114477" stroke-width="1.0" opacity="0.5"/>
<line x1="149.34" y1="150.88" x2="150.94" y2="150.88" stroke="#114477" stroke-width="0.6" opacity="0.5"/>
<line x1="149.34" y1="152.86" x2="150.94" y2="152.86" stroke="#114477" stroke-width="0.6" opacity="0.5"/>
<circle cx="150.14" cy="151.87" r="1.2" fill="#114477"/>
<line x1="192.86" y1="219.26" x2="192.86" y2="233.13" stroke="#114477" stroke-width="1.0" opacity="0.5"/>
<line x1="192.06" y1="219.26" x2="193.66" y2="219.26" stroke="#114477" stroke-width="0.6" opacity="0.5"/>
<line x1="192.06" y1="233.13" x2="193.66" y2="233.13" stroke="#114477" stroke-width="0.6" opacity="0.5"/>
<circle cx="192.86" cy="226.2" r="1.2" fill="#114477"/>
<line x1="235.58" y1="220.25" x2="235.58" y2="248" stroke="#114477" stroke-width="1.0" opacity="0.5"/>
<line x1="234.78" y1="220.25" x2="236.38" y2="220.25" stroke="#114477" stroke-width="0.6" opacity="0.5"/>
<line x1="234.78" y1="248" x2="236.38" y2="248" stroke="#114477" stroke-width="0.6" opacity="0.5"/>
<circle cx="235.58" cy="234.13" r="1.2" fill="#114477"/>
<text transform="translate(80.8,204.9) scale(0.8,1)" font-size="10" text-anchor="middle" fill="#333333" font-weight="normal" stroke="#333333" stroke-width="0.1">CB</text>
<text transform="translate(80.8,216.1) scale(0.8,1)" font-size="10" text-anchor="middle" fill="#333333" font-weight="normal" stroke="#333333" stroke-width="0.1">Young</text>
<text transform="translate(80.8,225.1) scale(0.8,1)" font-size="10" text-anchor="middle" fill="#333333" font-weight="normal" stroke="#333333" stroke-width="0.1">adult</text>
<text transform="translate(80.8,235.4) scale(0.8,1)" font-size="10" text-anchor="middle" fill="#333333" font-weight="normal" stroke="#333333" stroke-width="0.1">Aged</text>
<text transform="translate(80.8,244.4) scale(0.8,1)" font-size="10" text-anchor="middle" fill="#333333" font-weight="normal" stroke="#333333" stroke-width="0.1">adult</text>
<line x1="96" y1="202" x2="105.5" y2="202" stroke="#114477" stroke-width="1.6" />
<line x1="96" y1="216.5" x2="105.5" y2="216.5" stroke="#c81432" stroke-width="1.6" />
<line x1="96" y1="235.5" x2="105.5" y2="235.5" stroke="#38aadd" stroke-width="1.6" />
<line x1="60" y1="202.3" x2="60" y2="235.4" stroke="#8a8a8a" stroke-width="1.6" />
<line x1="67.6" y1="202.3" x2="67.6" y2="216.7" stroke="#333" stroke-width="1.0" />
<circle cx="56.7" cy="214.5" r="0.95" fill="#222"/>
<circle cx="56.7" cy="217.5" r="0.95" fill="#222"/>
<circle cx="56.7" cy="220.5" r="0.95" fill="#222"/>
<circle cx="64.4" cy="206.3" r="0.95" fill="#222"/>
<circle cx="64.4" cy="209.4" r="0.95" fill="#222"/>
<circle cx="64.4" cy="212.5" r="0.95" fill="#222"/>
<text transform="translate(64.7,265) scale(0.8,1)" font-size="9" text-anchor="middle" fill="#333333" font-weight="normal" stroke="#333333" stroke-width="0.1">100</text>
<text transform="translate(107.42,265) scale(0.8,1)" font-size="9" text-anchor="middle" fill="#333333" font-weight="normal" stroke="#333333" stroke-width="0.1">10</text>
<text transform="translate(150.14,265) scale(0.8,1)" font-size="9" text-anchor="middle" fill="#333333" font-weight="normal" stroke="#333333" stroke-width="0.1">1</text>
<text transform="translate(192.86,265) scale(0.8,1)" font-size="9" text-anchor="middle" fill="#333333" font-weight="normal" stroke="#333333" stroke-width="0.1">0.1</text>
<text transform="translate(235.58,265) scale(0.8,1)" font-size="9" text-anchor="middle" fill="#333333" font-weight="normal" stroke="#333333" stroke-width="0.1">0.01</text>
<text transform="translate(150.4,277.8) scale(0.82,1)" font-size="9" text-anchor="middle" fill="#333333" font-weight="normal" stroke="#333333" stroke-width="0.1">Relative 3GF concentration (%)</text>
<rect x="51.5" y="287.8" width="91" height="85.4" fill="none" stroke="#2e2e2e" stroke-width="1.2"/>
<line x1="48.5" y1="369.8" x2="51.5" y2="369.8" stroke="#2e2e2e" stroke-width="1" />
<text transform="translate(45.7,373.04) scale(0.84,1)" font-size="9" text-anchor="end" fill="#333333" font-weight="normal" stroke="#333333" stroke-width="0.1">0</text>
<line x1="48.5" y1="353.98" x2="51.5" y2="353.98" stroke="#2e2e2e" stroke-width="1" />
<text transform="translate(45.7,357.22) scale(0.84,1)" font-size="9" text-anchor="end" fill="#333333" font-weight="normal" stroke="#333333" stroke-width="0.1">20</text>
<line x1="48.5" y1="338.16" x2="51.5" y2="338.16" stroke="#2e2e2e" stroke-width="1" />
<text transform="translate(45.7,341.4) scale(0.84,1)" font-size="9" text-anchor="end" fill="#333333" font-weight="normal" stroke="#333333" stroke-width="0.1">40</text>
<line x1="48.5" y1="322.34" x2="51.5" y2="322.34" stroke="#2e2e2e" stroke-width="1" />
<text transform="translate(45.7,325.58) scale(0.84,1)" font-size="9" text-anchor="end" fill="#333333" font-weight="normal" stroke="#333333" stroke-width="0.1">60</text>
<line x1="48.5" y1="306.52" x2="51.5" y2="306.52" stroke="#2e2e2e" stroke-width="1" />
<text transform="translate(45.7,309.76) scale(0.84,1)" font-size="9" text-anchor="end" fill="#333333" font-weight="normal" stroke="#333333" stroke-width="0.1">80</text>
<line x1="48.5" y1="290.7" x2="51.5" y2="290.7" stroke="#2e2e2e" stroke-width="1" />
<text transform="translate(45.7,293.94) scale(0.84,1)" font-size="9" text-anchor="end" fill="#333333" font-weight="normal" stroke="#333333" stroke-width="0.1">100</text>
<text transform="translate(27,330) rotate(-90) scale(0.81,1)" font-size="9" text-anchor="middle" fill="#333333" font-weight="normal" stroke="#333333" stroke-width="0.1">Percent of clones</text>
<line x1="58.1" y1="373.2" x2="58.1" y2="376" stroke="#2e2e2e" stroke-width="1" />
<text transform="translate(58.1,386.5) scale(0.8,1)" font-size="9" text-anchor="middle" fill="#333333" font-weight="normal" stroke="#333333" stroke-width="0.1">0</text>
<line x1="71.1" y1="373.2" x2="71.1" y2="376" stroke="#2e2e2e" stroke-width="1" />
<text transform="translate(71.1,386.5) scale(0.8,1)" font-size="9" text-anchor="middle" fill="#333333" font-weight="normal" stroke="#333333" stroke-width="0.1">1</text>
<line x1="84.1" y1="373.2" x2="84.1" y2="376" stroke="#2e2e2e" stroke-width="1" />
<text transform="translate(84.1,386.5) scale(0.8,1)" font-size="9" text-anchor="middle" fill="#333333" font-weight="normal" stroke="#333333" stroke-width="0.1">2</text>
<line x1="97.1" y1="373.2" x2="97.1" y2="376" stroke="#2e2e2e" stroke-width="1" />
<text transform="translate(97.1,386.5) scale(0.8,1)" font-size="9" text-anchor="middle" fill="#333333" font-weight="normal" stroke="#333333" stroke-width="0.1">3</text>
<line x1="110.1" y1="373.2" x2="110.1" y2="376" stroke="#2e2e2e" stroke-width="1" />
<text transform="translate(110.1,386.5) scale(0.8,1)" font-size="9" text-anchor="middle" fill="#333333" font-weight="normal" stroke="#333333" stroke-width="0.1">4</text>
<line x1="123.1" y1="373.2" x2="123.1" y2="376" stroke="#2e2e2e" stroke-width="1" />
<text transform="translate(123.1,386.5) scale(0.8,1)" font-size="9" text-anchor="middle" fill="#333333" font-weight="normal" stroke="#333333" stroke-width="0.1">5</text>
<line x1="136.1" y1="373.2" x2="136.1" y2="376" stroke="#2e2e2e" stroke-width="1" />
<text transform="translate(136.1,386.5) scale(0.8,1)" font-size="9" text-anchor="middle" fill="#333333" font-weight="normal" stroke="#333333" stroke-width="0.1">5+</text>
<text transform="translate(96,399) scale(0.83,1)" font-size="9" text-anchor="middle" fill="#333333" font-weight="normal" stroke="#333333" stroke-width="0.1">Divisions completed</text>
<text transform="translate(97,297) scale(0.85,1)" font-size="9" text-anchor="middle" fill="#333333" font-weight="normal" stroke="#333333" stroke-width="0.1">100% 3GF</text>
<path d="M58.1,366.16 L71.1,364.82 L84.1,359.04 L97.1,352.4 L110.1,352.71 L123.1,359.04 L136.1,355.8" fill="none" stroke="#38aadd" stroke-width="1.3" stroke-linejoin="round"/>
<line x1="58.1" y1="364.58" x2="58.1" y2="367.74" stroke="#38aadd" stroke-width="1.0" opacity="0.5"/>
<line x1="57.3" y1="364.58" x2="58.9" y2="364.58" stroke="#38aadd" stroke-width="0.6" opacity="0.5"/>
<line x1="57.3" y1="367.74" x2="58.9" y2="367.74" stroke="#38aadd" stroke-width="0.6" opacity="0.5"/>
<line x1="71.1" y1="363.23" x2="71.1" y2="366.4" stroke="#38aadd" stroke-width="1.0" opacity="0.5"/>
<line x1="70.3" y1="363.23" x2="71.9" y2="363.23" stroke="#38aadd" stroke-width="0.6" opacity="0.5"/>
<line x1="70.3" y1="366.4" x2="71.9" y2="366.4" stroke="#38aadd" stroke-width="0.6" opacity="0.5"/>
<line x1="84.1" y1="356.67" x2="84.1" y2="361.42" stroke="#38aadd" stroke-width="1.0" opacity="0.5"/>
<line x1="83.3" y1="356.67" x2="84.9" y2="356.67" stroke="#38aadd" stroke-width="0.6" opacity="0.5"/>
<line x1="83.3" y1="361.42" x2="84.9" y2="361.42" stroke="#38aadd" stroke-width="0.6" opacity="0.5"/>
<line x1="97.1" y1="349.23" x2="97.1" y2="355.56" stroke="#38aadd" stroke-width="1.0" opacity="0.5"/>
<line x1="96.3" y1="349.23" x2="97.9" y2="349.23" stroke="#38aadd" stroke-width="0.6" opacity="0.5"/>
<line x1="96.3" y1="355.56" x2="97.9" y2="355.56" stroke="#38aadd" stroke-width="0.6" opacity="0.5"/>
<line x1="110.1" y1="350.34" x2="110.1" y2="355.09" stroke="#38aadd" stroke-width="1.0" opacity="0.5"/>
<line x1="109.3" y1="350.34" x2="110.9" y2="350.34" stroke="#38aadd" stroke-width="0.6" opacity="0.5"/>
<line x1="109.3" y1="355.09" x2="110.9" y2="355.09" stroke="#38aadd" stroke-width="0.6" opacity="0.5"/>
<line x1="123.1" y1="356.67" x2="123.1" y2="361.42" stroke="#38aadd" stroke-width="1.0" opacity="0.5"/>
<line x1="122.3" y1="356.67" x2="123.9" y2="356.67" stroke="#38aadd" stroke-width="0.6" opacity="0.5"/>
<line x1="122.3" y1="361.42" x2="123.9" y2="361.42" stroke="#38aadd" stroke-width="0.6" opacity="0.5"/>
<line x1="136.1" y1="352.64" x2="136.1" y2="358.96" stroke="#38aadd" stroke-width="1.0" opacity="0.5"/>
<line x1="135.3" y1="352.64" x2="136.9" y2="352.64" stroke="#38aadd" stroke-width="0.6" opacity="0.5"/>
<line x1="135.3" y1="358.96" x2="136.9" y2="358.96" stroke="#38aadd" stroke-width="0.6" opacity="0.5"/>
<path d="M58.1,365.85 L71.1,365.37 L84.1,361.34 L97.1,354.61 L110.1,352.4 L123.1,357.7 L136.1,353.19" fill="none" stroke="#c81432" stroke-width="1.3" stroke-linejoin="round"/>
<line x1="58.1" y1="364.26" x2="58.1" y2="367.43" stroke="#c81432" stroke-width="1.0" opacity="0.5"/>
<line x1="57.3" y1="364.26" x2="58.9" y2="364.26" stroke="#c81432" stroke-width="0.6" opacity="0.5"/>
<line x1="57.3" y1="367.43" x2="58.9" y2="367.43" stroke="#c81432" stroke-width="0.6" opacity="0.5"/>
<line x1="71.1" y1="363.79" x2="71.1" y2="366.95" stroke="#c81432" stroke-width="1.0" opacity="0.5"/>
<line x1="70.3" y1="363.79" x2="71.9" y2="363.79" stroke="#c81432" stroke-width="0.6" opacity="0.5"/>
<line x1="70.3" y1="366.95" x2="71.9" y2="366.95" stroke="#c81432" stroke-width="0.6" opacity="0.5"/>
<line x1="84.1" y1="358.96" x2="84.1" y2="363.71" stroke="#c81432" stroke-width="1.0" opacity="0.5"/>
<line x1="83.3" y1="358.96" x2="84.9" y2="358.96" stroke="#c81432" stroke-width="0.6" opacity="0.5"/>
<line x1="83.3" y1="363.71" x2="84.9" y2="363.71" stroke="#c81432" stroke-width="0.6" opacity="0.5"/>
<line x1="97.1" y1="352.24" x2="97.1" y2="356.99" stroke="#c81432" stroke-width="1.0" opacity="0.5"/>
<line x1="96.3" y1="352.24" x2="97.9" y2="352.24" stroke="#c81432" stroke-width="0.6" opacity="0.5"/>
<line x1="96.3" y1="356.99" x2="97.9" y2="356.99" stroke="#c81432" stroke-width="0.6" opacity="0.5"/>
<line x1="110.1" y1="350.03" x2="110.1" y2="354.77" stroke="#c81432" stroke-width="1.0" opacity="0.5"/>
<line x1="109.3" y1="350.03" x2="110.9" y2="350.03" stroke="#c81432" stroke-width="0.6" opacity="0.5"/>
<line x1="109.3" y1="354.77" x2="110.9" y2="354.77" stroke="#c81432" stroke-width="0.6" opacity="0.5"/>
<line x1="123.1" y1="355.32" x2="123.1" y2="360.07" stroke="#c81432" stroke-width="1.0" opacity="0.5"/>
<line x1="122.3" y1="355.32" x2="123.9" y2="355.32" stroke="#c81432" stroke-width="0.6" opacity="0.5"/>
<line x1="122.3" y1="360.07" x2="123.9" y2="360.07" stroke="#c81432" stroke-width="0.6" opacity="0.5"/>
<line x1="136.1" y1="350.03" x2="136.1" y2="356.35" stroke="#c81432" stroke-width="1.0" opacity="0.5"/>
<line x1="135.3" y1="350.03" x2="136.9" y2="350.03" stroke="#c81432" stroke-width="0.6" opacity="0.5"/>
<line x1="135.3" y1="356.35" x2="136.9" y2="356.35" stroke="#c81432" stroke-width="0.6" opacity="0.5"/>
<path d="M58.1,369.64 L71.1,369.01 L84.1,368.22 L97.1,367.66 L110.1,366.16 L123.1,361.89 L136.1,306.52" fill="none" stroke="#114477" stroke-width="1.3" stroke-linejoin="round"/>
<line x1="58.1" y1="369.25" x2="58.1" y2="370.04" stroke="#114477" stroke-width="1.0" opacity="0.5"/>
<line x1="57.3" y1="369.25" x2="58.9" y2="369.25" stroke="#114477" stroke-width="0.6" opacity="0.5"/>
<line x1="57.3" y1="370.04" x2="58.9" y2="370.04" stroke="#114477" stroke-width="0.6" opacity="0.5"/>
<line x1="71.1" y1="368.61" x2="71.1" y2="369.4" stroke="#114477" stroke-width="1.0" opacity="0.5"/>
<line x1="70.3" y1="368.61" x2="71.9" y2="368.61" stroke="#114477" stroke-width="0.6" opacity="0.5"/>
<line x1="70.3" y1="369.4" x2="71.9" y2="369.4" stroke="#114477" stroke-width="0.6" opacity="0.5"/>
<line x1="84.1" y1="367.43" x2="84.1" y2="369.01" stroke="#114477" stroke-width="1.0" opacity="0.5"/>
<line x1="83.3" y1="367.43" x2="84.9" y2="367.43" stroke="#114477" stroke-width="0.6" opacity="0.5"/>
<line x1="83.3" y1="369.01" x2="84.9" y2="369.01" stroke="#114477" stroke-width="0.6" opacity="0.5"/>
<line x1="97.1" y1="366.87" x2="97.1" y2="368.46" stroke="#114477" stroke-width="1.0" opacity="0.5"/>
<line x1="96.3" y1="366.87" x2="97.9" y2="366.87" stroke="#114477" stroke-width="0.6" opacity="0.5"/>
<line x1="96.3" y1="368.46" x2="97.9" y2="368.46" stroke="#114477" stroke-width="0.6" opacity="0.5"/>
<line x1="110.1" y1="365.37" x2="110.1" y2="366.95" stroke="#114477" stroke-width="1.0" opacity="0.5"/>
<line x1="109.3" y1="365.37" x2="110.9" y2="365.37" stroke="#114477" stroke-width="0.6" opacity="0.5"/>
<line x1="109.3" y1="366.95" x2="110.9" y2="366.95" stroke="#114477" stroke-width="0.6" opacity="0.5"/>
<line x1="123.1" y1="359.52" x2="123.1" y2="364.26" stroke="#114477" stroke-width="1.0" opacity="0.5"/>
<line x1="122.3" y1="359.52" x2="123.9" y2="359.52" stroke="#114477" stroke-width="0.6" opacity="0.5"/>
<line x1="122.3" y1="364.26" x2="123.9" y2="364.26" stroke="#114477" stroke-width="0.6" opacity="0.5"/>
<line x1="136.1" y1="298.61" x2="136.1" y2="314.43" stroke="#114477" stroke-width="1.0" opacity="0.5"/>
<line x1="135.3" y1="298.61" x2="136.9" y2="298.61" stroke="#114477" stroke-width="0.6" opacity="0.5"/>
<line x1="135.3" y1="314.43" x2="136.9" y2="314.43" stroke="#114477" stroke-width="0.6" opacity="0.5"/>
<circle cx="139.4" cy="302.8" r="0.95" fill="#222"/>
<circle cx="139.4" cy="305.4" r="0.95" fill="#222"/>
<circle cx="139.4" cy="308" r="0.95" fill="#222"/>
<rect x="157.3" y="287.8" width="91.4" height="85.4" fill="none" stroke="#2e2e2e" stroke-width="1.2"/>
<line x1="163.7" y1="373.2" x2="163.7" y2="376" stroke="#2e2e2e" stroke-width="1" />
<text transform="translate(163.7,386.5) scale(0.8,1)" font-size="9" text-anchor="middle" fill="#333333" font-weight="normal" stroke="#333333" stroke-width="0.1">0</text>
<line x1="176.7" y1="373.2" x2="176.7" y2="376" stroke="#2e2e2e" stroke-width="1" />
<text transform="translate(176.7,386.5) scale(0.8,1)" font-size="9" text-anchor="middle" fill="#333333" font-weight="normal" stroke="#333333" stroke-width="0.1">1</text>
<line x1="189.7" y1="373.2" x2="189.7" y2="376" stroke="#2e2e2e" stroke-width="1" />
<text transform="translate(189.7,386.5) scale(0.8,1)" font-size="9" text-anchor="middle" fill="#333333" font-weight="normal" stroke="#333333" stroke-width="0.1">2</text>
<line x1="202.7" y1="373.2" x2="202.7" y2="376" stroke="#2e2e2e" stroke-width="1" />
<text transform="translate(202.7,386.5) scale(0.8,1)" font-size="9" text-anchor="middle" fill="#333333" font-weight="normal" stroke="#333333" stroke-width="0.1">3</text>
<line x1="215.7" y1="373.2" x2="215.7" y2="376" stroke="#2e2e2e" stroke-width="1" />
<text transform="translate(215.7,386.5) scale(0.8,1)" font-size="9" text-anchor="middle" fill="#333333" font-weight="normal" stroke="#333333" stroke-width="0.1">4</text>
<line x1="228.7" y1="373.2" x2="228.7" y2="376" stroke="#2e2e2e" stroke-width="1" />
<text transform="translate(228.7,386.5) scale(0.8,1)" font-size="9" text-anchor="middle" fill="#333333" font-weight="normal" stroke="#333333" stroke-width="0.1">5</text>
<line x1="241.7" y1="373.2" x2="241.7" y2="376" stroke="#2e2e2e" stroke-width="1" />
<text transform="translate(241.7,386.5) scale(0.8,1)" font-size="9" text-anchor="middle" fill="#333333" font-weight="normal" stroke="#333333" stroke-width="0.1">5+</text>
<text transform="translate(202,399) scale(0.83,1)" font-size="9" text-anchor="middle" fill="#333333" font-weight="normal" stroke="#333333" stroke-width="0.1">Divisions completed</text>
<text transform="translate(203,297) scale(0.85,1)" font-size="9" text-anchor="middle" fill="#333333" font-weight="normal" stroke="#333333" stroke-width="0.1">1% 3GF</text>
<path d="M163.7,346.94 L176.7,346.94 L189.7,353.35 L202.7,361.02 L215.7,366.72 L228.7,368.06 L241.7,365.37" fill="none" stroke="#c81432" stroke-width="1.3" stroke-linejoin="round"/>
<line x1="163.7" y1="344.57" x2="163.7" y2="349.31" stroke="#c81432" stroke-width="1.0" opacity="0.5"/>
<line x1="162.9" y1="344.57" x2="164.5" y2="344.57" stroke="#c81432" stroke-width="0.6" opacity="0.5"/>
<line x1="162.9" y1="349.31" x2="164.5" y2="349.31" stroke="#c81432" stroke-width="0.6" opacity="0.5"/>
<line x1="176.7" y1="345.36" x2="176.7" y2="348.52" stroke="#c81432" stroke-width="1.0" opacity="0.5"/>
<line x1="175.9" y1="345.36" x2="177.5" y2="345.36" stroke="#c81432" stroke-width="0.6" opacity="0.5"/>
<line x1="175.9" y1="348.52" x2="177.5" y2="348.52" stroke="#c81432" stroke-width="0.6" opacity="0.5"/>
<line x1="189.7" y1="348.6" x2="189.7" y2="358.09" stroke="#c81432" stroke-width="1.0" opacity="0.5"/>
<line x1="188.9" y1="348.6" x2="190.5" y2="348.6" stroke="#c81432" stroke-width="0.6" opacity="0.5"/>
<line x1="188.9" y1="358.09" x2="190.5" y2="358.09" stroke="#c81432" stroke-width="0.6" opacity="0.5"/>
<line x1="202.7" y1="358.65" x2="202.7" y2="363.39" stroke="#c81432" stroke-width="1.0" opacity="0.5"/>
<line x1="201.9" y1="358.65" x2="203.5" y2="358.65" stroke="#c81432" stroke-width="0.6" opacity="0.5"/>
<line x1="201.9" y1="363.39" x2="203.5" y2="363.39" stroke="#c81432" stroke-width="0.6" opacity="0.5"/>
<line x1="215.7" y1="365.13" x2="215.7" y2="368.3" stroke="#c81432" stroke-width="1.0" opacity="0.5"/>
<line x1="214.9" y1="365.13" x2="216.5" y2="365.13" stroke="#c81432" stroke-width="0.6" opacity="0.5"/>
<line x1="214.9" y1="368.3" x2="216.5" y2="368.3" stroke="#c81432" stroke-width="0.6" opacity="0.5"/>
<line x1="228.7" y1="367.27" x2="228.7" y2="368.85" stroke="#c81432" stroke-width="1.0" opacity="0.5"/>
<line x1="227.9" y1="367.27" x2="229.5" y2="367.27" stroke="#c81432" stroke-width="0.6" opacity="0.5"/>
<line x1="227.9" y1="368.85" x2="229.5" y2="368.85" stroke="#c81432" stroke-width="0.6" opacity="0.5"/>
<line x1="241.7" y1="363.79" x2="241.7" y2="366.95" stroke="#c81432" stroke-width="1.0" opacity="0.5"/>
<line x1="240.9" y1="363.79" x2="242.5" y2="363.79" stroke="#c81432" stroke-width="0.6" opacity="0.5"/>
<line x1="240.9" y1="366.95" x2="242.5" y2="366.95" stroke="#c81432" stroke-width="0.6" opacity="0.5"/>
<path d="M163.7,337.37 L176.7,346.94 L189.7,354.22 L202.7,363.87 L215.7,367.35 L228.7,368.61 L241.7,368.22" fill="none" stroke="#38aadd" stroke-width="1.3" stroke-linejoin="round"/>
<line x1="163.7" y1="327.88" x2="163.7" y2="346.86" stroke="#38aadd" stroke-width="1.0" opacity="0.5"/>
<line x1="162.9" y1="327.88" x2="164.5" y2="327.88" stroke="#38aadd" stroke-width="0.6" opacity="0.5"/>
<line x1="162.9" y1="346.86" x2="164.5" y2="346.86" stroke="#38aadd" stroke-width="0.6" opacity="0.5"/>
<line x1="176.7" y1="344.57" x2="176.7" y2="349.31" stroke="#38aadd" stroke-width="1.0" opacity="0.5"/>
<line x1="175.9" y1="344.57" x2="177.5" y2="344.57" stroke="#38aadd" stroke-width="0.6" opacity="0.5"/>
<line x1="175.9" y1="349.31" x2="177.5" y2="349.31" stroke="#38aadd" stroke-width="0.6" opacity="0.5"/>
<line x1="189.7" y1="351.05" x2="189.7" y2="357.38" stroke="#38aadd" stroke-width="1.0" opacity="0.5"/>
<line x1="188.9" y1="351.05" x2="190.5" y2="351.05" stroke="#38aadd" stroke-width="0.6" opacity="0.5"/>
<line x1="188.9" y1="357.38" x2="190.5" y2="357.38" stroke="#38aadd" stroke-width="0.6" opacity="0.5"/>
<line x1="202.7" y1="361.49" x2="202.7" y2="366.24" stroke="#38aadd" stroke-width="1.0" opacity="0.5"/>
<line x1="201.9" y1="361.49" x2="203.5" y2="361.49" stroke="#38aadd" stroke-width="0.6" opacity="0.5"/>
<line x1="201.9" y1="366.24" x2="203.5" y2="366.24" stroke="#38aadd" stroke-width="0.6" opacity="0.5"/>
<line x1="215.7" y1="365.77" x2="215.7" y2="368.93" stroke="#38aadd" stroke-width="1.0" opacity="0.5"/>
<line x1="214.9" y1="365.77" x2="216.5" y2="365.77" stroke="#38aadd" stroke-width="0.6" opacity="0.5"/>
<line x1="214.9" y1="368.93" x2="216.5" y2="368.93" stroke="#38aadd" stroke-width="0.6" opacity="0.5"/>
<line x1="228.7" y1="367.82" x2="228.7" y2="369.4" stroke="#38aadd" stroke-width="1.0" opacity="0.5"/>
<line x1="227.9" y1="367.82" x2="229.5" y2="367.82" stroke="#38aadd" stroke-width="0.6" opacity="0.5"/>
<line x1="227.9" y1="369.4" x2="229.5" y2="369.4" stroke="#38aadd" stroke-width="0.6" opacity="0.5"/>
<line x1="241.7" y1="367.43" x2="241.7" y2="369.01" stroke="#38aadd" stroke-width="1.0" opacity="0.5"/>
<line x1="240.9" y1="367.43" x2="242.5" y2="367.43" stroke="#38aadd" stroke-width="0.6" opacity="0.5"/>
<line x1="240.9" y1="369.01" x2="242.5" y2="369.01" stroke="#38aadd" stroke-width="0.6" opacity="0.5"/>
<path d="M163.7,367.35 L176.7,363.87 L189.7,359.99 L202.7,357.14 L215.7,357.7 L228.7,354.22 L241.7,349.39" fill="none" stroke="#114477" stroke-width="1.3" stroke-linejoin="round"/>
<line x1="163.7" y1="366.56" x2="163.7" y2="368.14" stroke="#114477" stroke-width="1.0" opacity="0.5"/>
<line x1="162.9" y1="366.56" x2="164.5" y2="366.56" stroke="#114477" stroke-width="0.6" opacity="0.5"/>
<line x1="162.9" y1="368.14" x2="164.5" y2="368.14" stroke="#114477" stroke-width="0.6" opacity="0.5"/>
<line x1="176.7" y1="358.33" x2="176.7" y2="369.4" stroke="#114477" stroke-width="1.0" opacity="0.5"/>
<line x1="175.9" y1="358.33" x2="177.5" y2="358.33" stroke="#114477" stroke-width="0.6" opacity="0.5"/>
<line x1="175.9" y1="369.4" x2="177.5" y2="369.4" stroke="#114477" stroke-width="0.6" opacity="0.5"/>
<line x1="189.7" y1="357.62" x2="189.7" y2="362.36" stroke="#114477" stroke-width="1.0" opacity="0.5"/>
<line x1="188.9" y1="357.62" x2="190.5" y2="357.62" stroke="#114477" stroke-width="0.6" opacity="0.5"/>
<line x1="188.9" y1="362.36" x2="190.5" y2="362.36" stroke="#114477" stroke-width="0.6" opacity="0.5"/>
<line x1="202.7" y1="353.98" x2="202.7" y2="360.31" stroke="#114477" stroke-width="1.0" opacity="0.5"/>
<line x1="201.9" y1="353.98" x2="203.5" y2="353.98" stroke="#114477" stroke-width="0.6" opacity="0.5"/>
<line x1="201.9" y1="360.31" x2="203.5" y2="360.31" stroke="#114477" stroke-width="0.6" opacity="0.5"/>
<line x1="215.7" y1="354.53" x2="215.7" y2="360.86" stroke="#114477" stroke-width="1.0" opacity="0.5"/>
<line x1="214.9" y1="354.53" x2="216.5" y2="354.53" stroke="#114477" stroke-width="0.6" opacity="0.5"/>
<line x1="214.9" y1="360.86" x2="216.5" y2="360.86" stroke="#114477" stroke-width="0.6" opacity="0.5"/>
<line x1="228.7" y1="352.64" x2="228.7" y2="355.8" stroke="#114477" stroke-width="1.0" opacity="0.5"/>
<line x1="227.9" y1="352.64" x2="229.5" y2="352.64" stroke="#114477" stroke-width="0.6" opacity="0.5"/>
<line x1="227.9" y1="355.8" x2="229.5" y2="355.8" stroke="#114477" stroke-width="0.6" opacity="0.5"/>
<line x1="241.7" y1="341.48" x2="241.7" y2="357.3" stroke="#114477" stroke-width="1.0" opacity="0.5"/>
<line x1="240.9" y1="341.48" x2="242.5" y2="341.48" stroke="#114477" stroke-width="0.6" opacity="0.5"/>
<line x1="240.9" y1="357.3" x2="242.5" y2="357.3" stroke="#114477" stroke-width="0.6" opacity="0.5"/>
<circle cx="244.9" cy="346.8" r="0.95" fill="#222"/>
<circle cx="244.9" cy="349.4" r="0.95" fill="#222"/>
<circle cx="244.9" cy="352" r="0.95" fill="#222"/>
<rect x="309.3" y="22.8" width="196.7" height="106.5" fill="none" stroke="#2e2e2e" stroke-width="1.2"/>
<line x1="306.3" y1="125.2" x2="309.3" y2="125.2" stroke="#2e2e2e" stroke-width="1" />
<text transform="translate(303.5,128.44) scale(0.84,1)" font-size="9" text-anchor="end" fill="#333333" font-weight="normal" stroke="#333333" stroke-width="0.1">0</text>
<line x1="306.3" y1="105.48" x2="309.3" y2="105.48" stroke="#2e2e2e" stroke-width="1" />
<text transform="translate(303.5,108.72) scale(0.84,1)" font-size="9" text-anchor="end" fill="#333333" font-weight="normal" stroke="#333333" stroke-width="0.1">20</text>
<line x1="306.3" y1="85.76" x2="309.3" y2="85.76" stroke="#2e2e2e" stroke-width="1" />
<text transform="translate(303.5,89) scale(0.84,1)" font-size="9" text-anchor="end" fill="#333333" font-weight="normal" stroke="#333333" stroke-width="0.1">40</text>
<line x1="306.3" y1="66.04" x2="309.3" y2="66.04" stroke="#2e2e2e" stroke-width="1" />
<text transform="translate(303.5,69.28) scale(0.84,1)" font-size="9" text-anchor="end" fill="#333333" font-weight="normal" stroke="#333333" stroke-width="0.1">60</text>
<line x1="306.3" y1="46.32" x2="309.3" y2="46.32" stroke="#2e2e2e" stroke-width="1" />
<text transform="translate(303.5,49.56) scale(0.84,1)" font-size="9" text-anchor="end" fill="#333333" font-weight="normal" stroke="#333333" stroke-width="0.1">80</text>
<line x1="306.3" y1="26.6" x2="309.3" y2="26.6" stroke="#2e2e2e" stroke-width="1" />
<text transform="translate(303.5,29.84) scale(0.84,1)" font-size="9" text-anchor="end" fill="#333333" font-weight="normal" stroke="#333333" stroke-width="0.1">100</text>
<line x1="309.3" y1="129.3" x2="309.3" y2="132.3" stroke="#2e2e2e" stroke-width="1" />
<line x1="331.15" y1="129.3" x2="331.15" y2="132.3" stroke="#2e2e2e" stroke-width="1" />
<line x1="353" y1="129.3" x2="353" y2="132.3" stroke="#2e2e2e" stroke-width="1" />
<line x1="374.85" y1="129.3" x2="374.85" y2="132.3" stroke="#2e2e2e" stroke-width="1" />
<line x1="396.7" y1="129.3" x2="396.7" y2="132.3" stroke="#2e2e2e" stroke-width="1" />
<line x1="418.55" y1="129.3" x2="418.55" y2="132.3" stroke="#2e2e2e" stroke-width="1" />
<line x1="440.4" y1="129.3" x2="440.4" y2="132.3" stroke="#2e2e2e" stroke-width="1" />
<line x1="462.25" y1="129.3" x2="462.25" y2="132.3" stroke="#2e2e2e" stroke-width="1" />
<line x1="484.1" y1="129.3" x2="484.1" y2="132.3" stroke="#2e2e2e" stroke-width="1" />
<line x1="505.95" y1="129.3" x2="505.95" y2="132.3" stroke="#2e2e2e" stroke-width="1" />
<text transform="translate(284.8,76.35) rotate(-90) scale(0.79,1)" font-size="9.5" text-anchor="middle" fill="#333333" font-weight="normal" stroke="#333333" stroke-width="0.1">Percent divided</text>
<path d="M309.3,125.2 L310.3,125.2 L311.3,125.2 L312.3,125.2 L313.3,125.2 L314.3,125.2 L315.3,125.2 L316.3,125.2 L317.3,125.2 L318.3,125.2 L319.3,125.2 L320.3,125.2 L321.3,125.2 L322.3,125.2 L323.3,125.2 L324.3,125.2 L325.3,125.2 L326.3,125.2 L327.3,125.2 L328.3,125.2 L329.3,125.2 L330.3,125.2 L331.3,125.19 L332.3,125.17 L333.3,125.13 L334.3,125.08 L335.3,125.03 L336.3,124.96 L337.3,124.89 L338.3,124.8 L339.3,124.72 L340.3,124.62 L341.3,124.52 L342.3,124.41 L343.3,124.3 L344.3,124.17 L345.3,124 L346.3,123.79 L347.3,123.55 L348.3,123.26 L349.3,122.94 L350.3,122.58 L351.3,122.1 L352.3,121.47 L353.3,120.74 L354.3,119.92 L355.3,119.02 L356.3,117.97 L357.3,116.74 L358.3,115.35 L359.3,113.83 L360.3,112.19 L361.3,110.32 L362.3,108.22 L363.3,105.92 L364.3,103.45 L365.3,100.82 L366.3,97.87 L367.3,94.65 L368.3,91.3 L369.3,87.92 L370.3,84.42 L371.3,80.81 L372.3,77.25 L373.3,73.75 L374.3,70.25 L375.3,66.89 L376.3,63.75 L377.3,60.69 L378.3,57.78 L379.3,55.08 L380.3,52.66 L381.3,50.38 L382.3,48.24 L383.3,46.27 L384.3,44.52 L385.3,43.02 L386.3,41.63 L387.3,40.33 L388.3,39.12 L389.3,38.04 L390.3,37.09 L391.3,36.3 L392.3,35.66 L393.3,35.09 L394.3,34.59 L395.3,34.13 L396.3,33.71 L397.3,33.31 L398.3,32.94 L399.3,32.56 L400.3,32.19 L401.3,31.81 L402.3,31.43 L403.3,31.07 L404.3,30.72 L405.3,30.39 L406.3,30.08 L407.3,29.8 L408.3,29.55 L409.3,29.32 L410.3,29.1 L411.3,28.89 L412.3,28.69 L413.3,28.5 L414.3,28.31 L415.3,28.14 L416.3,27.98 L417.3,27.83 L418.3,27.7 L419.3,27.58 L420.3,27.48 L421.3,27.39 L422.3,27.32 L423.3,27.24 L424.3,27.17 L425.3,27.1 L426.3,27.03 L427.3,26.96 L428.3,26.9 L429.3,26.84 L430.3,26.78 L431.3,26.73 L432.3,26.68 L433.3,26.63 L434.3,26.59 L435.3,26.55 L436.3,26.51 L437.3,26.48 L438.3,26.46 L439.3,26.43 L440.3,26.42 L441.3,26.41 L442.3,26.4 L443.3,26.4 L444.3,26.39 L445.3,26.39 L446.3,26.39 L447.3,26.38 L448.3,26.38 L449.3,26.38 L450.3,26.37 L451.3,26.37 L452.3,26.37 L453.3,26.36 L454.3,26.36 L455.3,26.36 L456.3,26.36 L457.3,26.35 L458.3,26.35 L459.3,26.35 L460.3,26.35 L461.3,26.34 L462.3,26.34 L463.3,26.34 L464.3,26.34 L465.3,26.34 L466.3,26.33 L467.3,26.33 L468.3,26.33 L469.3,26.33 L470.3,26.33 L471.3,26.33 L472.3,26.32 L473.3,26.32 L474.3,26.32 L475.3,26.32 L476.3,26.32 L477.3,26.32 L478.3,26.32 L479.3,26.31 L480.3,26.31 L481.3,26.31 L482.3,26.31 L483.3,26.31 L484.3,26.31 L485.3,26.31 L486.3,26.31 L487.3,26.31 L488.3,26.31 L489.3,26.31 L490.3,26.3 L491.3,26.3 L492.3,26.3 L493.3,26.3 L494.3,26.3 L495.3,26.3 L496.3,26.3 L497.3,26.3 L498.3,26.3 L499.3,26.3 L500.3,26.3 L501.3,26.3 L502.3,26.3 L503.3,26.3 L504.3,26.3 L505.3,26.3" fill="none" stroke="#114477" stroke-width="1.35" stroke-linejoin="round"/>
<path d="M309.3,125.2 L310.3,125.2 L311.3,125.2 L312.3,125.2 L313.3,125.2 L314.3,125.2 L315.3,125.2 L316.3,125.2 L317.3,125.2 L318.3,125.2 L319.3,125.2 L320.3,125.2 L321.3,125.2 L322.3,125.2 L323.3,125.2 L324.3,125.2 L325.3,125.2 L326.3,125.2 L327.3,125.2 L328.3,125.2 L329.3,125.2 L330.3,125.2 L331.3,125.2 L332.3,125.2 L333.3,125.2 L334.3,125.2 L335.3,125.2 L336.3,125.2 L337.3,125.2 L338.3,125.2 L339.3,125.2 L340.3,125.2 L341.3,125.17 L342.3,125.11 L343.3,125.03 L344.3,124.92 L345.3,124.79 L346.3,124.64 L347.3,124.47 L348.3,124.3 L349.3,124.07 L350.3,123.73 L351.3,123.31 L352.3,122.81 L353.3,122.25 L354.3,121.66 L355.3,121.03 L356.3,120.39 L357.3,119.73 L358.3,118.99 L359.3,118.18 L360.3,117.3 L361.3,116.35 L362.3,115.35 L363.3,114.3 L364.3,113.15 L365.3,111.86 L366.3,110.47 L367.3,109.03 L368.3,107.55 L369.3,106.07 L370.3,104.63 L371.3,103.18 L372.3,101.72 L373.3,100.25 L374.3,98.75 L375.3,97.22 L376.3,95.67 L377.3,94.09 L378.3,92.46 L379.3,90.8 L380.3,89.12 L381.3,87.41 L382.3,85.69 L383.3,83.92 L384.3,82.14 L385.3,80.34 L386.3,78.54 L387.3,76.73 L388.3,74.89 L389.3,73.04 L390.3,71.23 L391.3,69.5 L392.3,67.87 L393.3,66.31 L394.3,64.81 L395.3,63.35 L396.3,61.92 L397.3,60.53 L398.3,59.18 L399.3,57.87 L400.3,56.63 L401.3,55.41 L402.3,54.2 L403.3,53.01 L404.3,51.85 L405.3,50.73 L406.3,49.66 L407.3,48.64 L408.3,47.68 L409.3,46.78 L410.3,45.9 L411.3,45.03 L412.3,44.19 L413.3,43.38 L414.3,42.59 L415.3,41.82 L416.3,41.09 L417.3,40.39 L418.3,39.73 L419.3,39.09 L420.3,38.5 L421.3,37.95 L422.3,37.41 L423.3,36.89 L424.3,36.39 L425.3,35.9 L426.3,35.43 L427.3,34.98 L428.3,34.55 L429.3,34.15 L430.3,33.77 L431.3,33.43 L432.3,33.11 L433.3,32.83 L434.3,32.58 L435.3,32.34 L436.3,32.11 L437.3,31.9 L438.3,31.69 L439.3,31.49 L440.3,31.3 L441.3,31.12 L442.3,30.95 L443.3,30.78 L444.3,30.62 L445.3,30.47 L446.3,30.32 L447.3,30.18 L448.3,30.05 L449.3,29.92 L450.3,29.8 L451.3,29.68 L452.3,29.57 L453.3,29.46 L454.3,29.35 L455.3,29.24 L456.3,29.14 L457.3,29.04 L458.3,28.94 L459.3,28.85 L460.3,28.76 L461.3,28.67 L462.3,28.58 L463.3,28.5 L464.3,28.42 L465.3,28.34 L466.3,28.26 L467.3,28.19 L468.3,28.12 L469.3,28.06 L470.3,28 L471.3,27.94 L472.3,27.88 L473.3,27.83 L474.3,27.79 L475.3,27.74 L476.3,27.69 L477.3,27.65 L478.3,27.6 L479.3,27.56 L480.3,27.51 L481.3,27.47 L482.3,27.42 L483.3,27.38 L484.3,27.34 L485.3,27.3 L486.3,27.26 L487.3,27.22 L488.3,27.18 L489.3,27.15 L490.3,27.11 L491.3,27.08 L492.3,27.04 L493.3,27.01 L494.3,26.98 L495.3,26.96 L496.3,26.93 L497.3,26.91 L498.3,26.89 L499.3,26.87 L500.3,26.85 L501.3,26.84 L502.3,26.82 L503.3,26.81 L504.3,26.81 L505.3,26.8" fill="none" stroke="#114477" stroke-width="1.35" stroke-dasharray="1.5,2.6" stroke-linejoin="round"/>
<line x1="369.4" y1="76.1" x2="374.6" y2="76.1" stroke="#114477" stroke-width="0.9" />
<line x1="369.4" y1="74.6" x2="369.4" y2="77.6" stroke="#114477" stroke-width="0.8" />
<line x1="374.6" y1="74.6" x2="374.6" y2="77.6" stroke="#114477" stroke-width="0.8" />
<line x1="384" y1="76.1" x2="393.7" y2="76.1" stroke="#114477" stroke-width="0.9" />
<line x1="384" y1="74.6" x2="384" y2="77.6" stroke="#114477" stroke-width="0.8" />
<line x1="393.7" y1="74.6" x2="393.7" y2="77.6" stroke="#114477" stroke-width="0.8" />
<text transform="translate(314,33.5) scale(0.84,1)" font-size="9" text-anchor="start" fill="#333333" font-weight="normal" stroke="#333333" stroke-width="0.1">CB</text>
<text transform="translate(314,42.5) scale(0.84,1)" font-size="9" text-anchor="start" fill="#333333" font-weight="normal" stroke="#333333" stroke-width="0.1">100% 3GF</text>
<text transform="translate(349,51.3) scale(0.84,1)" font-size="9" text-anchor="end" fill="#333333" font-weight="normal" stroke="#333333" stroke-width="0.1">1% 3GF</text>
<line x1="353.5" y1="39.7" x2="363" y2="39.7" stroke="#114477" stroke-width="1.5" />
<line x1="353.5" y1="48.5" x2="363" y2="48.5" stroke="#114477" stroke-width="1.5" stroke-dasharray="1.6,3.1"/>
<rect x="309.3" y="145" width="196.7" height="105.6" fill="none" stroke="#2e2e2e" stroke-width="1.2"/>
<line x1="306.3" y1="247.4" x2="309.3" y2="247.4" stroke="#2e2e2e" stroke-width="1" />
<text transform="translate(303.5,250.64) scale(0.84,1)" font-size="9" text-anchor="end" fill="#333333" font-weight="normal" stroke="#333333" stroke-width="0.1">0</text>
<line x1="306.3" y1="227.72" x2="309.3" y2="227.72" stroke="#2e2e2e" stroke-width="1" />
<text transform="translate(303.5,230.96) scale(0.84,1)" font-size="9" text-anchor="end" fill="#333333" font-weight="normal" stroke="#333333" stroke-width="0.1">20</text>
<line x1="306.3" y1="208.04" x2="309.3" y2="208.04" stroke="#2e2e2e" stroke-width="1" />
<text transform="translate(303.5,211.28) scale(0.84,1)" font-size="9" text-anchor="end" fill="#333333" font-weight="normal" stroke="#333333" stroke-width="0.1">40</text>
<line x1="306.3" y1="188.36" x2="309.3" y2="188.36" stroke="#2e2e2e" stroke-width="1" />
<text transform="translate(303.5,191.6) scale(0.84,1)" font-size="9" text-anchor="end" fill="#333333" font-weight="normal" stroke="#333333" stroke-width="0.1">60</text>
<line x1="306.3" y1="168.68" x2="309.3" y2="168.68" stroke="#2e2e2e" stroke-width="1" />
<text transform="translate(303.5,171.92) scale(0.84,1)" font-size="9" text-anchor="end" fill="#333333" font-weight="normal" stroke="#333333" stroke-width="0.1">80</text>
<line x1="306.3" y1="149" x2="309.3" y2="149" stroke="#2e2e2e" stroke-width="1" />
<text transform="translate(303.5,152.24) scale(0.84,1)" font-size="9" text-anchor="end" fill="#333333" font-weight="normal" stroke="#333333" stroke-width="0.1">100</text>
<line x1="309.3" y1="250.6" x2="309.3" y2="253.6" stroke="#2e2e2e" stroke-width="1" />
<line x1="331.15" y1="250.6" x2="331.15" y2="253.6" stroke="#2e2e2e" stroke-width="1" />
<line x1="353" y1="250.6" x2="353" y2="253.6" stroke="#2e2e2e" stroke-width="1" />
<line x1="374.85" y1="250.6" x2="374.85" y2="253.6" stroke="#2e2e2e" stroke-width="1" />
<line x1="396.7" y1="250.6" x2="396.7" y2="253.6" stroke="#2e2e2e" stroke-width="1" />
<line x1="418.55" y1="250.6" x2="418.55" y2="253.6" stroke="#2e2e2e" stroke-width="1" />
<line x1="440.4" y1="250.6" x2="440.4" y2="253.6" stroke="#2e2e2e" stroke-width="1" />
<line x1="462.25" y1="250.6" x2="462.25" y2="253.6" stroke="#2e2e2e" stroke-width="1" />
<line x1="484.1" y1="250.6" x2="484.1" y2="253.6" stroke="#2e2e2e" stroke-width="1" />
<line x1="505.95" y1="250.6" x2="505.95" y2="253.6" stroke="#2e2e2e" stroke-width="1" />
<text transform="translate(284.8,198.1) rotate(-90) scale(0.79,1)" font-size="9.5" text-anchor="middle" fill="#333333" font-weight="normal" stroke="#333333" stroke-width="0.1">Percent divided</text>
<path d="M309.3,247.4 L310.3,247.4 L311.3,247.4 L312.3,247.4 L313.3,247.4 L314.3,247.39 L315.3,247.39 L316.3,247.39 L317.3,247.39 L318.3,247.38 L319.3,247.38 L320.3,247.37 L321.3,247.37 L322.3,247.36 L323.3,247.36 L324.3,247.35 L325.3,247.34 L326.3,247.33 L327.3,247.32 L328.3,247.32 L329.3,247.31 L330.3,247.3 L331.3,247.28 L332.3,247.24 L333.3,247.2 L334.3,247.15 L335.3,247.08 L336.3,247.01 L337.3,246.94 L338.3,246.85 L339.3,246.76 L340.3,246.67 L341.3,246.56 L342.3,246.41 L343.3,246.25 L344.3,246.06 L345.3,245.85 L346.3,245.63 L347.3,245.39 L348.3,245.14 L349.3,244.88 L350.3,244.61 L351.3,244.32 L352.3,244 L353.3,243.66 L354.3,243.28 L355.3,242.88 L356.3,242.45 L357.3,241.98 L358.3,241.48 L359.3,240.94 L360.3,240.33 L361.3,239.62 L362.3,238.82 L363.3,237.95 L364.3,237.02 L365.3,236.03 L366.3,235 L367.3,233.93 L368.3,232.85 L369.3,231.74 L370.3,230.53 L371.3,229.23 L372.3,227.85 L373.3,226.42 L374.3,224.95 L375.3,223.46 L376.3,221.98 L377.3,220.51 L378.3,219.08 L379.3,217.69 L380.3,216.29 L381.3,214.9 L382.3,213.5 L383.3,212.11 L384.3,210.71 L385.3,209.32 L386.3,207.92 L387.3,206.52 L388.3,205.12 L389.3,203.71 L390.3,202.29 L391.3,200.87 L392.3,199.44 L393.3,198.02 L394.3,196.61 L395.3,195.2 L396.3,193.81 L397.3,192.44 L398.3,191.08 L399.3,189.71 L400.3,188.32 L401.3,186.94 L402.3,185.57 L403.3,184.23 L404.3,182.93 L405.3,181.69 L406.3,180.5 L407.3,179.4 L408.3,178.36 L409.3,177.37 L410.3,176.41 L411.3,175.49 L412.3,174.6 L413.3,173.74 L414.3,172.9 L415.3,172.08 L416.3,171.28 L417.3,170.48 L418.3,169.7 L419.3,168.93 L420.3,168.18 L421.3,167.44 L422.3,166.72 L423.3,166.03 L424.3,165.36 L425.3,164.72 L426.3,164.12 L427.3,163.54 L428.3,162.98 L429.3,162.43 L430.3,161.89 L431.3,161.37 L432.3,160.87 L433.3,160.38 L434.3,159.92 L435.3,159.46 L436.3,159.03 L437.3,158.61 L438.3,158.22 L439.3,157.83 L440.3,157.45 L441.3,157.08 L442.3,156.71 L443.3,156.36 L444.3,156.01 L445.3,155.67 L446.3,155.35 L447.3,155.05 L448.3,154.76 L449.3,154.49 L450.3,154.24 L451.3,154.02 L452.3,153.82 L453.3,153.64 L454.3,153.46 L455.3,153.3 L456.3,153.14 L457.3,152.98 L458.3,152.84 L459.3,152.7 L460.3,152.56 L461.3,152.43 L462.3,152.31 L463.3,152.19 L464.3,152.07 L465.3,151.96 L466.3,151.85 L467.3,151.75 L468.3,151.65 L469.3,151.55 L470.3,151.46 L471.3,151.36 L472.3,151.27 L473.3,151.18 L474.3,151.09 L475.3,151.01 L476.3,150.92 L477.3,150.84 L478.3,150.76 L479.3,150.68 L480.3,150.6 L481.3,150.53 L482.3,150.46 L483.3,150.39 L484.3,150.33 L485.3,150.26 L486.3,150.2 L487.3,150.15 L488.3,150.09 L489.3,150.05 L490.3,150 L491.3,149.96 L492.3,149.91 L493.3,149.87 L494.3,149.83 L495.3,149.79 L496.3,149.76 L497.3,149.72 L498.3,149.69 L499.3,149.65 L500.3,149.62 L501.3,149.6 L502.3,149.57 L503.3,149.55 L504.3,149.53 L505.3,149.51" fill="none" stroke="#c81432" stroke-width="1.35" stroke-linejoin="round"/>
<path d="M309.3,247.4 L310.3,247.4 L311.3,247.4 L312.3,247.4 L313.3,247.4 L314.3,247.39 L315.3,247.39 L316.3,247.39 L317.3,247.38 L318.3,247.38 L319.3,247.37 L320.3,247.37 L321.3,247.36 L322.3,247.36 L323.3,247.35 L324.3,247.34 L325.3,247.33 L326.3,247.32 L327.3,247.31 L328.3,247.3 L329.3,247.29 L330.3,247.28 L331.3,247.26 L332.3,247.25 L333.3,247.23 L334.3,247.22 L335.3,247.2 L336.3,247.18 L337.3,247.17 L338.3,247.15 L339.3,247.13 L340.3,247.11 L341.3,247.09 L342.3,247.06 L343.3,247.04 L344.3,247.02 L345.3,246.99 L346.3,246.9 L347.3,246.73 L348.3,246.5 L349.3,246.21 L350.3,245.87 L351.3,245.49 L352.3,245.07 L353.3,244.63 L354.3,244.16 L355.3,243.69 L356.3,243.22 L357.3,242.75 L358.3,242.29 L359.3,241.86 L360.3,241.42 L361.3,240.95 L362.3,240.46 L363.3,239.95 L364.3,239.43 L365.3,238.91 L366.3,238.38 L367.3,237.86 L368.3,237.35 L369.3,236.85 L370.3,236.37 L371.3,235.9 L372.3,235.43 L373.3,234.96 L374.3,234.49 L375.3,234 L376.3,233.5 L377.3,232.97 L378.3,232.42 L379.3,231.82 L380.3,231.17 L381.3,230.48 L382.3,229.77 L383.3,229.03 L384.3,228.29 L385.3,227.55 L386.3,226.83 L387.3,226.13 L388.3,225.47 L389.3,224.84 L390.3,224.23 L391.3,223.64 L392.3,223.05 L393.3,222.47 L394.3,221.88 L395.3,221.29 L396.3,220.68 L397.3,220.06 L398.3,219.41 L399.3,218.74 L400.3,218.06 L401.3,217.36 L402.3,216.66 L403.3,215.95 L404.3,215.23 L405.3,214.52 L406.3,213.81 L407.3,213.1 L408.3,212.39 L409.3,211.66 L410.3,210.92 L411.3,210.17 L412.3,209.43 L413.3,208.71 L414.3,208 L415.3,207.32 L416.3,206.67 L417.3,206.06 L418.3,205.46 L419.3,204.88 L420.3,204.31 L421.3,203.75 L422.3,203.2 L423.3,202.67 L424.3,202.15 L425.3,201.65 L426.3,201.16 L427.3,200.69 L428.3,200.23 L429.3,199.79 L430.3,199.38 L431.3,198.99 L432.3,198.63 L433.3,198.29 L434.3,197.96 L435.3,197.64 L436.3,197.32 L437.3,196.99 L438.3,196.64 L439.3,196.28 L440.3,195.88 L441.3,195.45 L442.3,195 L443.3,194.53 L444.3,194.05 L445.3,193.55 L446.3,193.05 L447.3,192.55 L448.3,192.04 L449.3,191.5 L450.3,190.96 L451.3,190.4 L452.3,189.83 L453.3,189.25 L454.3,188.67 L455.3,188.09 L456.3,187.5 L457.3,186.93 L458.3,186.35 L459.3,185.79 L460.3,185.24 L461.3,184.7 L462.3,184.18 L463.3,183.67 L464.3,183.19 L465.3,182.73 L466.3,182.28 L467.3,181.84 L468.3,181.4 L469.3,180.98 L470.3,180.56 L471.3,180.15 L472.3,179.74 L473.3,179.35 L474.3,178.95 L475.3,178.57 L476.3,178.19 L477.3,177.81 L478.3,177.44 L479.3,177.07 L480.3,176.71 L481.3,176.34 L482.3,175.99 L483.3,175.63 L484.3,175.28 L485.3,174.92 L486.3,174.58 L487.3,174.23 L488.3,173.89 L489.3,173.55 L490.3,173.21 L491.3,172.88 L492.3,172.55 L493.3,172.22 L494.3,171.9 L495.3,171.58 L496.3,171.26 L497.3,170.95 L498.3,170.64 L499.3,170.33 L500.3,170.03 L501.3,169.74 L502.3,169.44 L503.3,169.16 L504.3,168.87 L505.3,168.59" fill="none" stroke="#c81432" stroke-width="1.35" stroke-dasharray="1.5,2.6" stroke-linejoin="round"/>
<line x1="390.4" y1="197.7" x2="397.3" y2="197.7" stroke="#c81432" stroke-width="0.9" />
<line x1="390.4" y1="196.2" x2="390.4" y2="199.2" stroke="#c81432" stroke-width="0.8" />
<line x1="397.3" y1="196.2" x2="397.3" y2="199.2" stroke="#c81432" stroke-width="0.8" />
<line x1="429.4" y1="197.8" x2="445.5" y2="197.8" stroke="#c81432" stroke-width="0.9" />
<line x1="429.4" y1="196.3" x2="429.4" y2="199.3" stroke="#c81432" stroke-width="0.8" />
<line x1="445.5" y1="196.3" x2="445.5" y2="199.3" stroke="#c81432" stroke-width="0.8" />
<text transform="translate(315.5,155) scale(0.86,1)" font-size="9.5" text-anchor="start" fill="#333333" font-weight="normal" stroke="#333333" stroke-width="0.1">Young</text>
<text transform="translate(326.3,163) scale(0.86,1)" font-size="9.5" text-anchor="middle" fill="#333333" font-weight="normal" stroke="#333333" stroke-width="0.1">adult</text>
<text transform="translate(314.4,177.3) scale(0.84,1)" font-size="9" text-anchor="start" fill="#333333" font-weight="normal" stroke="#333333" stroke-width="0.1">100% 3GF</text>
<text transform="translate(349,186) scale(0.84,1)" font-size="9" text-anchor="end" fill="#333333" font-weight="normal" stroke="#333333" stroke-width="0.1">1% 3GF</text>
<line x1="353.5" y1="174.4" x2="363" y2="174.4" stroke="#c81432" stroke-width="1.5" />
<line x1="353.5" y1="183" x2="363" y2="183" stroke="#c81432" stroke-width="1.5" stroke-dasharray="1.6,3.1"/>
<rect x="309.3" y="266.5" width="196.7" height="106.2" fill="none" stroke="#2e2e2e" stroke-width="1.2"/>
<line x1="306.3" y1="368.8" x2="309.3" y2="368.8" stroke="#2e2e2e" stroke-width="1" />
<text transform="translate(303.5,372.04) scale(0.84,1)" font-size="9" text-anchor="end" fill="#333333" font-weight="normal" stroke="#333333" stroke-width="0.1">0</text>
<line x1="306.3" y1="349.36" x2="309.3" y2="349.36" stroke="#2e2e2e" stroke-width="1" />
<text transform="translate(303.5,352.6) scale(0.84,1)" font-size="9" text-anchor="end" fill="#333333" font-weight="normal" stroke="#333333" stroke-width="0.1">20</text>
<line x1="306.3" y1="329.92" x2="309.3" y2="329.92" stroke="#2e2e2e" stroke-width="1" />
<text transform="translate(303.5,333.16) scale(0.84,1)" font-size="9" text-anchor="end" fill="#333333" font-weight="normal" stroke="#333333" stroke-width="0.1">40</text>
<line x1="306.3" y1="310.48" x2="309.3" y2="310.48" stroke="#2e2e2e" stroke-width="1" />
<text transform="translate(303.5,313.72) scale(0.84,1)" font-size="9" text-anchor="end" fill="#333333" font-weight="normal" stroke="#333333" stroke-width="0.1">60</text>
<line x1="306.3" y1="291.04" x2="309.3" y2="291.04" stroke="#2e2e2e" stroke-width="1" />
<text transform="translate(303.5,294.28) scale(0.84,1)" font-size="9" text-anchor="end" fill="#333333" font-weight="normal" stroke="#333333" stroke-width="0.1">80</text>
<line x1="306.3" y1="271.6" x2="309.3" y2="271.6" stroke="#2e2e2e" stroke-width="1" />
<text transform="translate(303.5,274.84) scale(0.84,1)" font-size="9" text-anchor="end" fill="#333333" font-weight="normal" stroke="#333333" stroke-width="0.1">100</text>
<line x1="309.3" y1="372.7" x2="309.3" y2="375.7" stroke="#2e2e2e" stroke-width="1" />
<text transform="translate(309.3,385.8) scale(0.82,1)" font-size="9" text-anchor="middle" fill="#333333" font-weight="normal" stroke="#333333" stroke-width="0.1">0</text>
<line x1="331.15" y1="372.7" x2="331.15" y2="375.7" stroke="#2e2e2e" stroke-width="1" />
<text transform="translate(331.15,385.8) scale(0.82,1)" font-size="9" text-anchor="middle" fill="#333333" font-weight="normal" stroke="#333333" stroke-width="0.1">20</text>
<line x1="353" y1="372.7" x2="353" y2="375.7" stroke="#2e2e2e" stroke-width="1" />
<text transform="translate(353,385.8) scale(0.82,1)" font-size="9" text-anchor="middle" fill="#333333" font-weight="normal" stroke="#333333" stroke-width="0.1">40</text>
<line x1="374.85" y1="372.7" x2="374.85" y2="375.7" stroke="#2e2e2e" stroke-width="1" />
<text transform="translate(374.85,385.8) scale(0.82,1)" font-size="9" text-anchor="middle" fill="#333333" font-weight="normal" stroke="#333333" stroke-width="0.1">60</text>
<line x1="396.7" y1="372.7" x2="396.7" y2="375.7" stroke="#2e2e2e" stroke-width="1" />
<text transform="translate(396.7,385.8) scale(0.82,1)" font-size="9" text-anchor="middle" fill="#333333" font-weight="normal" stroke="#333333" stroke-width="0.1">80</text>
<line x1="418.55" y1="372.7" x2="418.55" y2="375.7" stroke="#2e2e2e" stroke-width="1" />
<text transform="translate(418.55,385.8) scale(0.82,1)" font-size="9" text-anchor="middle" fill="#333333" font-weight="normal" stroke="#333333" stroke-width="0.1">100</text>
<line x1="440.4" y1="372.7" x2="440.4" y2="375.7" stroke="#2e2e2e" stroke-width="1" />
<text transform="translate(440.4,385.8) scale(0.82,1)" font-size="9" text-anchor="middle" fill="#333333" font-weight="normal" stroke="#333333" stroke-width="0.1">120</text>
<line x1="462.25" y1="372.7" x2="462.25" y2="375.7" stroke="#2e2e2e" stroke-width="1" />
<text transform="translate(462.25,385.8) scale(0.82,1)" font-size="9" text-anchor="middle" fill="#333333" font-weight="normal" stroke="#333333" stroke-width="0.1">140</text>
<line x1="484.1" y1="372.7" x2="484.1" y2="375.7" stroke="#2e2e2e" stroke-width="1" />
<text transform="translate(484.1,385.8) scale(0.82,1)" font-size="9" text-anchor="middle" fill="#333333" font-weight="normal" stroke="#333333" stroke-width="0.1">160</text>
<line x1="505.95" y1="372.7" x2="505.95" y2="375.7" stroke="#2e2e2e" stroke-width="1" />
<text transform="translate(505.95,385.8) scale(0.82,1)" font-size="9" text-anchor="middle" fill="#333333" font-weight="normal" stroke="#333333" stroke-width="0.1">180</text>
<text transform="translate(284.8,319.9) rotate(-90) scale(0.79,1)" font-size="9.5" text-anchor="middle" fill="#333333" font-weight="normal" stroke="#333333" stroke-width="0.1">Percent divided</text>
<path d="M309.3,368.8 L310.3,368.8 L311.3,368.8 L312.3,368.8 L313.3,368.8 L314.3,368.8 L315.3,368.8 L316.3,368.8 L317.3,368.8 L318.3,368.8 L319.3,368.8 L320.3,368.8 L321.3,368.8 L322.3,368.8 L323.3,368.8 L324.3,368.8 L325.3,368.8 L326.3,368.8 L327.3,368.8 L328.3,368.8 L329.3,368.8 L330.3,368.8 L331.3,368.78 L332.3,368.75 L333.3,368.71 L334.3,368.65 L335.3,368.59 L336.3,368.51 L337.3,368.43 L338.3,368.35 L339.3,368.26 L340.3,368.17 L341.3,368.08 L342.3,367.97 L343.3,367.84 L344.3,367.71 L345.3,367.56 L346.3,367.4 L347.3,367.23 L348.3,367.05 L349.3,366.86 L350.3,366.66 L351.3,366.43 L352.3,366.19 L353.3,365.92 L354.3,365.62 L355.3,365.31 L356.3,364.98 L357.3,364.63 L358.3,364.25 L359.3,363.86 L360.3,363.43 L361.3,362.94 L362.3,362.42 L363.3,361.85 L364.3,361.24 L365.3,360.61 L366.3,359.94 L367.3,359.26 L368.3,358.56 L369.3,357.84 L370.3,357.08 L371.3,356.27 L372.3,355.43 L373.3,354.54 L374.3,353.63 L375.3,352.68 L376.3,351.71 L377.3,350.72 L378.3,349.7 L379.3,348.66 L380.3,347.56 L381.3,346.42 L382.3,345.23 L383.3,344.02 L384.3,342.78 L385.3,341.52 L386.3,340.26 L387.3,339 L388.3,337.75 L389.3,336.48 L390.3,335.19 L391.3,333.88 L392.3,332.55 L393.3,331.23 L394.3,329.9 L395.3,328.58 L396.3,327.28 L397.3,326 L398.3,324.75 L399.3,323.5 L400.3,322.25 L401.3,321.02 L402.3,319.79 L403.3,318.58 L404.3,317.38 L405.3,316.2 L406.3,315.04 L407.3,313.9 L408.3,312.78 L409.3,311.66 L410.3,310.54 L411.3,309.45 L412.3,308.37 L413.3,307.32 L414.3,306.29 L415.3,305.3 L416.3,304.35 L417.3,303.44 L418.3,302.57 L419.3,301.73 L420.3,300.92 L421.3,300.13 L422.3,299.36 L423.3,298.6 L424.3,297.85 L425.3,297.1 L426.3,296.35 L427.3,295.59 L428.3,294.84 L429.3,294.08 L430.3,293.33 L431.3,292.58 L432.3,291.84 L433.3,291.1 L434.3,290.39 L435.3,289.68 L436.3,289 L437.3,288.33 L438.3,287.69 L439.3,287.07 L440.3,286.45 L441.3,285.86 L442.3,285.27 L443.3,284.71 L444.3,284.16 L445.3,283.63 L446.3,283.13 L447.3,282.65 L448.3,282.19 L449.3,281.73 L450.3,281.29 L451.3,280.87 L452.3,280.46 L453.3,280.07 L454.3,279.71 L455.3,279.38 L456.3,279.08 L457.3,278.8 L458.3,278.52 L459.3,278.26 L460.3,278 L461.3,277.75 L462.3,277.51 L463.3,277.28 L464.3,277.06 L465.3,276.84 L466.3,276.64 L467.3,276.44 L468.3,276.24 L469.3,276.06 L470.3,275.87 L471.3,275.7 L472.3,275.53 L473.3,275.37 L474.3,275.21 L475.3,275.05 L476.3,274.89 L477.3,274.74 L478.3,274.59 L479.3,274.45 L480.3,274.31 L481.3,274.17 L482.3,274.04 L483.3,273.92 L484.3,273.8 L485.3,273.68 L486.3,273.57 L487.3,273.47 L488.3,273.37 L489.3,273.28 L490.3,273.2 L491.3,273.12 L492.3,273.05 L493.3,272.97 L494.3,272.9 L495.3,272.83 L496.3,272.76 L497.3,272.69 L498.3,272.63 L499.3,272.57 L500.3,272.52 L501.3,272.47 L502.3,272.43 L503.3,272.38 L504.3,272.35 L505.3,272.32" fill="none" stroke="#38aadd" stroke-width="1.35" stroke-linejoin="round"/>
<path d="M309.3,368.8 L310.3,368.8 L311.3,368.8 L312.3,368.8 L313.3,368.8 L314.3,368.8 L315.3,368.79 L316.3,368.79 L317.3,368.79 L318.3,368.78 L319.3,368.78 L320.3,368.78 L321.3,368.77 L322.3,368.77 L323.3,368.76 L324.3,368.75 L325.3,368.75 L326.3,368.74 L327.3,368.73 L328.3,368.72 L329.3,368.72 L330.3,368.71 L331.3,368.7 L332.3,368.69 L333.3,368.67 L334.3,368.66 L335.3,368.65 L336.3,368.64 L337.3,368.62 L338.3,368.61 L339.3,368.6 L340.3,368.58 L341.3,368.56 L342.3,368.55 L343.3,368.53 L344.3,368.51 L345.3,368.49 L346.3,368.42 L347.3,368.3 L348.3,368.13 L349.3,367.92 L350.3,367.67 L351.3,367.4 L352.3,367.1 L353.3,366.78 L354.3,366.45 L355.3,366.12 L356.3,365.79 L357.3,365.47 L358.3,365.16 L359.3,364.87 L360.3,364.59 L361.3,364.3 L362.3,364 L363.3,363.69 L364.3,363.39 L365.3,363.08 L366.3,362.77 L367.3,362.46 L368.3,362.15 L369.3,361.85 L370.3,361.56 L371.3,361.27 L372.3,360.99 L373.3,360.7 L374.3,360.41 L375.3,360.12 L376.3,359.81 L377.3,359.5 L378.3,359.17 L379.3,358.82 L380.3,358.45 L381.3,358.07 L382.3,357.68 L383.3,357.27 L384.3,356.86 L385.3,356.45 L386.3,356.03 L387.3,355.62 L388.3,355.22 L389.3,354.82 L390.3,354.41 L391.3,354 L392.3,353.6 L393.3,353.19 L394.3,352.78 L395.3,352.37 L396.3,351.96 L397.3,351.56 L398.3,351.16 L399.3,350.76 L400.3,350.37 L401.3,349.97 L402.3,349.58 L403.3,349.19 L404.3,348.79 L405.3,348.4 L406.3,348 L407.3,347.6 L408.3,347.2 L409.3,346.81 L410.3,346.42 L411.3,346.02 L412.3,345.63 L413.3,345.23 L414.3,344.82 L415.3,344.4 L416.3,343.97 L417.3,343.52 L418.3,343.05 L419.3,342.56 L420.3,342.05 L421.3,341.54 L422.3,341.02 L423.3,340.5 L424.3,339.99 L425.3,339.48 L426.3,339 L427.3,338.52 L428.3,338.06 L429.3,337.61 L430.3,337.16 L431.3,336.72 L432.3,336.28 L433.3,335.84 L434.3,335.4 L435.3,334.96 L436.3,334.52 L437.3,334.08 L438.3,333.63 L439.3,333.17 L440.3,332.7 L441.3,332.22 L442.3,331.74 L443.3,331.26 L444.3,330.76 L445.3,330.27 L446.3,329.77 L447.3,329.27 L448.3,328.76 L449.3,328.26 L450.3,327.75 L451.3,327.25 L452.3,326.75 L453.3,326.25 L454.3,325.74 L455.3,325.22 L456.3,324.71 L457.3,324.19 L458.3,323.67 L459.3,323.16 L460.3,322.65 L461.3,322.15 L462.3,321.65 L463.3,321.17 L464.3,320.69 L465.3,320.23 L466.3,319.77 L467.3,319.32 L468.3,318.87 L469.3,318.43 L470.3,318 L471.3,317.57 L472.3,317.14 L473.3,316.73 L474.3,316.32 L475.3,315.91 L476.3,315.52 L477.3,315.13 L478.3,314.75 L479.3,314.38 L480.3,314.02 L481.3,313.67 L482.3,313.31 L483.3,312.97 L484.3,312.62 L485.3,312.27 L486.3,311.92 L487.3,311.57 L488.3,311.21 L489.3,310.84 L490.3,310.47 L491.3,310.09 L492.3,309.7 L493.3,309.31 L494.3,308.92 L495.3,308.53 L496.3,308.15 L497.3,307.77 L498.3,307.4 L499.3,307.04 L500.3,306.69 L501.3,306.35 L502.3,306.03 L503.3,305.73 L504.3,305.45 L505.3,305.18" fill="none" stroke="#38aadd" stroke-width="1.35" stroke-dasharray="1.5,2.6" stroke-linejoin="round"/>
<line x1="395.4" y1="319.3" x2="411.5" y2="319.3" stroke="#38aadd" stroke-width="0.9" />
<line x1="395.4" y1="317.8" x2="395.4" y2="320.8" stroke="#38aadd" stroke-width="0.8" />
<line x1="411.5" y1="317.8" x2="411.5" y2="320.8" stroke="#38aadd" stroke-width="0.8" />
<line x1="448.1" y1="319.2" x2="488.6" y2="319.2" stroke="#38aadd" stroke-width="0.9" />
<line x1="448.1" y1="317.7" x2="448.1" y2="320.7" stroke="#38aadd" stroke-width="0.8" />
<line x1="488.6" y1="317.7" x2="488.6" y2="320.7" stroke="#38aadd" stroke-width="0.8" />
<text transform="translate(313.8,277.5) scale(0.88,1)" font-size="9.5" text-anchor="start" fill="#333333" font-weight="normal" stroke="#333333" stroke-width="0.1">Aged</text>
<text transform="translate(313.8,286.7) scale(0.86,1)" font-size="9.5" text-anchor="start" fill="#333333" font-weight="normal" stroke="#333333" stroke-width="0.1">adult</text>
<text transform="translate(314.6,294.4) scale(0.84,1)" font-size="9" text-anchor="start" fill="#333333" font-weight="normal" stroke="#333333" stroke-width="0.1">100% 3GF</text>
<text transform="translate(349,303.5) scale(0.84,1)" font-size="9" text-anchor="end" fill="#333333" font-weight="normal" stroke="#333333" stroke-width="0.1">1% 3GF</text>
<line x1="353.5" y1="291" x2="363.5" y2="291" stroke="#38aadd" stroke-width="1.5" />
<line x1="353.5" y1="300.4" x2="363.5" y2="300.4" stroke="#38aadd" stroke-width="1.5" stroke-dasharray="1.6,3.1"/>
<text transform="translate(408.5,399.2) scale(0.83,1)" font-size="9" text-anchor="middle" fill="#333333" font-weight="normal" stroke="#333333" stroke-width="0.1">Time (h)</text>
<rect x="52" y="433.8" width="133.5" height="74.5" fill="none" stroke="#2e2e2e" stroke-width="1.2"/>
<line x1="49" y1="457.2" x2="52" y2="457.2" stroke="#2e2e2e" stroke-width="1" />
<line x1="49" y1="478.2" x2="52" y2="478.2" stroke="#2e2e2e" stroke-width="1" />
<line x1="49" y1="499.5" x2="52" y2="499.5" stroke="#2e2e2e" stroke-width="1" />
<text transform="translate(45.6,460) scale(0.9,1)" font-size="9.5" text-anchor="end" fill="#333333" font-weight="normal" stroke="#333333" stroke-width="0.1">S/G<tspan font-size="6" dy="1.8">2</tspan><tspan dy="-1.8">/M</tspan></text>
<text transform="translate(45.4,481) scale(0.9,1)" font-size="9.5" text-anchor="end" fill="#333333" font-weight="normal" stroke="#333333" stroke-width="0.1">G<tspan font-size="6" dy="1.8">1</tspan></text>
<text transform="translate(45.4,502) scale(0.9,1)" font-size="9.5" text-anchor="end" fill="#333333" font-weight="normal" stroke="#333333" stroke-width="0.1">G<tspan font-size="6" dy="1.8">0</tspan></text>
<line x1="68.8" y1="508.3" x2="68.8" y2="511" stroke="#2e2e2e" stroke-width="1" />
<text transform="translate(68.8,521.7) scale(0.82,1)" font-size="9" text-anchor="middle" fill="#333333" font-weight="normal" stroke="#333333" stroke-width="0.1">0</text>
<line x1="93.8" y1="508.3" x2="93.8" y2="511" stroke="#2e2e2e" stroke-width="1" />
<text transform="translate(93.8,521.7) scale(0.82,1)" font-size="9" text-anchor="middle" fill="#333333" font-weight="normal" stroke="#333333" stroke-width="0.1">24</text>
<line x1="118.7" y1="508.3" x2="118.7" y2="511" stroke="#2e2e2e" stroke-width="1" />
<text transform="translate(118.7,521.7) scale(0.82,1)" font-size="9" text-anchor="middle" fill="#333333" font-weight="normal" stroke="#333333" stroke-width="0.1">42</text>
<line x1="143.5" y1="508.3" x2="143.5" y2="511" stroke="#2e2e2e" stroke-width="1" />
<text transform="translate(143.5,521.7) scale(0.82,1)" font-size="9" text-anchor="middle" fill="#333333" font-weight="normal" stroke="#333333" stroke-width="0.1">50</text>
<line x1="168.4" y1="508.3" x2="168.4" y2="511" stroke="#2e2e2e" stroke-width="1" />
<text transform="translate(168.4,521.7) scale(0.82,1)" font-size="9" text-anchor="middle" fill="#333333" font-weight="normal" stroke="#333333" stroke-width="0.1">64</text>
<text transform="translate(119,534.2) scale(0.83,1)" font-size="9" text-anchor="middle" fill="#333333" font-weight="normal" stroke="#333333" stroke-width="0.1">Time (h)</text>
<circle cx="68.8" cy="457.2" r="1" fill="#c8c8cc"/>
<circle cx="62.5" cy="478.2" r="1.2" fill="#114477"/>
<circle cx="68.8" cy="478.2" r="1.3" fill="#c81432"/>
<circle cx="75.1" cy="478.2" r="1" fill="#38aadd"/>
<circle cx="62.5" cy="499.5" r="6.8" fill="#114477"/>
<circle cx="68.8" cy="499.5" r="6.8" fill="#c81432"/>
<circle cx="75.1" cy="499.5" r="6.9" fill="#38aadd"/>
<circle cx="87.5" cy="457.2" r="0.9" fill="#c8c8cc"/>
<circle cx="93.8" cy="457.2" r="1.1" fill="#c81432"/>
<circle cx="100.1" cy="457.2" r="0.9" fill="#c8c8cc"/>
<circle cx="87.5" cy="478.2" r="4.6" fill="#114477"/>
<circle cx="93.8" cy="478.2" r="4.6" fill="#c81432"/>
<circle cx="100.1" cy="478.2" r="2.6" fill="#38aadd"/>
<circle cx="87.5" cy="499.5" r="2.5" fill="#114477"/>
<circle cx="93.8" cy="499.5" r="2.1" fill="#c81432"/>
<circle cx="100.1" cy="499.5" r="4.5" fill="#38aadd"/>
<circle cx="112.4" cy="457.2" r="3.6" fill="#114477"/>
<circle cx="118.7" cy="457.2" r="1.3" fill="#c81432"/>
<circle cx="125" cy="457.2" r="1.3" fill="#38aadd"/>
<circle cx="112.4" cy="478.2" r="2.8" fill="#114477"/>
<circle cx="118.7" cy="478.2" r="3.6" fill="#c81432"/>
<circle cx="125" cy="478.2" r="4" fill="#38aadd"/>
<circle cx="112.4" cy="499.5" r="1.2" fill="#114477"/>
<circle cx="118.7" cy="499.5" r="2.6" fill="#c81432"/>
<circle cx="125" cy="499.5" r="2" fill="#38aadd"/>
<circle cx="137.2" cy="457.2" r="3.6" fill="#114477"/>
<circle cx="143.5" cy="457.2" r="1.3" fill="#c81432"/>
<circle cx="149.8" cy="457.2" r="1" fill="#38aadd"/>
<circle cx="137.2" cy="478.2" r="2.5" fill="#114477"/>
<circle cx="143.5" cy="478.2" r="3.5" fill="#c81432"/>
<circle cx="149.8" cy="478.2" r="2.8" fill="#38aadd"/>
<circle cx="137.2" cy="499.5" r="1" fill="#114477"/>
<circle cx="143.5" cy="499.5" r="2.6" fill="#c81432"/>
<circle cx="149.8" cy="499.5" r="3.5" fill="#38aadd"/>
<circle cx="162.1" cy="457.2" r="5" fill="#114477"/>
<circle cx="168.4" cy="457.2" r="2.2" fill="#c81432"/>
<circle cx="174.7" cy="457.2" r="0.8" fill="#38aadd"/>
<circle cx="162.1" cy="478.2" r="1.2" fill="#114477"/>
<circle cx="168.4" cy="478.2" r="2.8" fill="#c81432"/>
<circle cx="174.7" cy="478.2" r="4.6" fill="#38aadd"/>
<circle cx="162.1" cy="499.5" r="1" fill="#114477"/>
<circle cx="168.4" cy="499.5" r="2.6" fill="#c81432"/>
<circle cx="174.7" cy="499.5" r="2.3" fill="#38aadd"/>
<path d="M91.6,436.3 V438.5 M90.6,436.85 L92.6,437.95 M90.6,437.95 L92.6,436.85" stroke="#2a2a2a" stroke-width="0.7" fill="none"/>
<path d="M93.8,436.3 V438.5 M92.8,436.85 L94.8,437.95 M92.8,437.95 L94.8,436.85" stroke="#2a2a2a" stroke-width="0.7" fill="none"/>
<path d="M96,436.3 V438.5 M95,436.85 L97,437.95 M95,437.95 L97,436.85" stroke="#2a2a2a" stroke-width="0.7" fill="none"/>
<line x1="87.3" y1="439.3" x2="100.3" y2="439.3" stroke="#2a2a2a" stroke-width="0.9" />
<path d="M95.1,440.3 V442.5 M94.1,440.85 L96.1,441.95 M94.1,441.95 L96.1,440.85" stroke="#2a2a2a" stroke-width="0.7" fill="none"/>
<path d="M97.3,440.3 V442.5 M96.3,440.85 L98.3,441.95 M96.3,441.95 L98.3,440.85" stroke="#2a2a2a" stroke-width="0.7" fill="none"/>
<path d="M99.5,440.3 V442.5 M98.5,440.85 L100.5,441.95 M98.5,441.95 L100.5,440.85" stroke="#2a2a2a" stroke-width="0.7" fill="none"/>
<path d="M93.5,442 V443.2 H101.1 V442" stroke="#2a2a2a" stroke-width="0.8" fill="none"/>
<path d="M117.6,436.3 V438.5 M116.6,436.85 L118.6,437.95 M116.6,437.95 L118.6,436.85" stroke="#2a2a2a" stroke-width="0.7" fill="none"/>
<path d="M119.8,436.3 V438.5 M118.8,436.85 L120.8,437.95 M118.8,437.95 L120.8,436.85" stroke="#2a2a2a" stroke-width="0.7" fill="none"/>
<line x1="112.2" y1="439.3" x2="125.2" y2="439.3" stroke="#2a2a2a" stroke-width="0.9" />
<path d="M120,440.3 V442.5 M119,440.85 L121,441.95 M119,441.95 L121,440.85" stroke="#2a2a2a" stroke-width="0.7" fill="none"/>
<path d="M122.2,440.3 V442.5 M121.2,440.85 L123.2,441.95 M121.2,441.95 L123.2,440.85" stroke="#2a2a2a" stroke-width="0.7" fill="none"/>
<path d="M124.4,440.3 V442.5 M123.4,440.85 L125.4,441.95 M123.4,441.95 L125.4,440.85" stroke="#2a2a2a" stroke-width="0.7" fill="none"/>
<path d="M118.4,442 V443.2 H126 V442" stroke="#2a2a2a" stroke-width="0.8" fill="none"/>
<path d="M141.3,436.3 V438.5 M140.3,436.85 L142.3,437.95 M140.3,437.95 L142.3,436.85" stroke="#2a2a2a" stroke-width="0.7" fill="none"/>
<path d="M143.5,436.3 V438.5 M142.5,436.85 L144.5,437.95 M142.5,437.95 L144.5,436.85" stroke="#2a2a2a" stroke-width="0.7" fill="none"/>
<path d="M145.7,436.3 V438.5 M144.7,436.85 L146.7,437.95 M144.7,437.95 L146.7,436.85" stroke="#2a2a2a" stroke-width="0.7" fill="none"/>
<line x1="137" y1="439.3" x2="150" y2="439.3" stroke="#2a2a2a" stroke-width="0.9" />
<path d="M144.8,440.3 V442.5 M143.8,440.85 L145.8,441.95 M143.8,441.95 L145.8,440.85" stroke="#2a2a2a" stroke-width="0.7" fill="none"/>
<path d="M147,440.3 V442.5 M146,440.85 L148,441.95 M146,441.95 L148,440.85" stroke="#2a2a2a" stroke-width="0.7" fill="none"/>
<path d="M149.2,440.3 V442.5 M148.2,440.85 L150.2,441.95 M148.2,441.95 L150.2,440.85" stroke="#2a2a2a" stroke-width="0.7" fill="none"/>
<path d="M143.2,442 V443.2 H150.8 V442" stroke="#2a2a2a" stroke-width="0.8" fill="none"/>
<path d="M166.2,436.3 V438.5 M165.2,436.85 L167.2,437.95 M165.2,437.95 L167.2,436.85" stroke="#2a2a2a" stroke-width="0.7" fill="none"/>
<path d="M168.4,436.3 V438.5 M167.4,436.85 L169.4,437.95 M167.4,437.95 L169.4,436.85" stroke="#2a2a2a" stroke-width="0.7" fill="none"/>
<path d="M170.6,436.3 V438.5 M169.6,436.85 L171.6,437.95 M169.6,437.95 L171.6,436.85" stroke="#2a2a2a" stroke-width="0.7" fill="none"/>
<line x1="161.9" y1="439.3" x2="174.9" y2="439.3" stroke="#2a2a2a" stroke-width="0.9" />
<path d="M169.7,440.3 V442.5 M168.7,440.85 L170.7,441.95 M168.7,441.95 L170.7,440.85" stroke="#2a2a2a" stroke-width="0.7" fill="none"/>
<path d="M171.9,440.3 V442.5 M170.9,440.85 L172.9,441.95 M170.9,441.95 L172.9,440.85" stroke="#2a2a2a" stroke-width="0.7" fill="none"/>
<path d="M174.1,440.3 V442.5 M173.1,440.85 L175.1,441.95 M173.1,441.95 L175.1,440.85" stroke="#2a2a2a" stroke-width="0.7" fill="none"/>
<path d="M168.1,442 V443.2 H175.7 V442" stroke="#2a2a2a" stroke-width="0.8" fill="none"/>
<text transform="translate(72,548.5) scale(0.84,1)" font-size="9" text-anchor="start" fill="#333333" font-weight="normal" stroke="#333333" stroke-width="0.1">Proportion of cells</text>
<text transform="translate(83,561) scale(0.82,1)" font-size="9" text-anchor="middle" fill="#333333" font-weight="normal" stroke="#333333" stroke-width="0.1">100%</text>
<circle cx="83" cy="574.3" r="10" fill="#c4c4c8"/>
<text transform="translate(114.5,561) scale(0.82,1)" font-size="9" text-anchor="middle" fill="#333333" font-weight="normal" stroke="#333333" stroke-width="0.1">50%</text>
<circle cx="114.5" cy="574.3" r="5.3" fill="#c4c4c8"/>
<text transform="translate(138,561) scale(0.82,1)" font-size="9" text-anchor="middle" fill="#333333" font-weight="normal" stroke="#333333" stroke-width="0.1">25%</text>
<circle cx="138" cy="574.3" r="2.5" fill="#c4c4c8"/>
<text transform="translate(158,561) scale(0.82,1)" font-size="9" text-anchor="middle" fill="#333333" font-weight="normal" stroke="#333333" stroke-width="0.1">10%</text>
<circle cx="158" cy="574.3" r="1.2" fill="#c4c4c8"/>
<circle cx="75.8" cy="594.5" r="3.8" fill="#114477"/>
<text transform="translate(81,597.3) scale(0.84,1)" font-size="9" text-anchor="start" fill="#333333" font-weight="normal" stroke="#333333" stroke-width="0.1">CB</text>
<circle cx="104.3" cy="594.5" r="4" fill="#c81432"/>
<text transform="translate(110,592.8) scale(0.84,1)" font-size="9" text-anchor="start" fill="#333333" font-weight="normal" stroke="#333333" stroke-width="0.1">Young</text>
<text transform="translate(110,602) scale(0.84,1)" font-size="9" text-anchor="start" fill="#333333" font-weight="normal" stroke="#333333" stroke-width="0.1">adult</text>
<circle cx="143" cy="594.5" r="4" fill="#38aadd"/>
<text transform="translate(148.8,592.8) scale(0.84,1)" font-size="9" text-anchor="start" fill="#333333" font-weight="normal" stroke="#333333" stroke-width="0.1">Aged</text>
<text transform="translate(148.8,602) scale(0.84,1)" font-size="9" text-anchor="start" fill="#333333" font-weight="normal" stroke="#333333" stroke-width="0.1">adult</text>
<rect x="238.3" y="434.2" width="116.4" height="73.9" fill="none" stroke="#2e2e2e" stroke-width="1.2"/>
<line x1="235.3" y1="434.2" x2="238.3" y2="434.2" stroke="#2e2e2e" stroke-width="1" />
<text transform="translate(233,437.26) scale(0.85,1)" font-size="8.5" text-anchor="end" fill="#333333" font-weight="normal" stroke="#333333" stroke-width="0.1">3</text>
<line x1="235.3" y1="446.52" x2="238.3" y2="446.52" stroke="#2e2e2e" stroke-width="1" />
<text transform="translate(233,449.58) scale(0.85,1)" font-size="8.5" text-anchor="end" fill="#333333" font-weight="normal" stroke="#333333" stroke-width="0.1">2</text>
<line x1="235.3" y1="458.83" x2="238.3" y2="458.83" stroke="#2e2e2e" stroke-width="1" />
<text transform="translate(233,461.89) scale(0.85,1)" font-size="8.5" text-anchor="end" fill="#333333" font-weight="normal" stroke="#333333" stroke-width="0.1">1</text>
<line x1="235.3" y1="471.15" x2="238.3" y2="471.15" stroke="#2e2e2e" stroke-width="1" />
<text transform="translate(233,474.21) scale(0.85,1)" font-size="8.5" text-anchor="end" fill="#333333" font-weight="normal" stroke="#333333" stroke-width="0.1">0</text>
<line x1="235.3" y1="483.47" x2="238.3" y2="483.47" stroke="#2e2e2e" stroke-width="1" />
<text transform="translate(233,486.53) scale(0.85,1)" font-size="8.5" text-anchor="end" fill="#333333" font-weight="normal" stroke="#333333" stroke-width="0.1">−1</text>
<line x1="235.3" y1="495.78" x2="238.3" y2="495.78" stroke="#2e2e2e" stroke-width="1" />
<text transform="translate(233,498.84) scale(0.85,1)" font-size="8.5" text-anchor="end" fill="#333333" font-weight="normal" stroke="#333333" stroke-width="0.1">−2</text>
<line x1="235.3" y1="508.1" x2="238.3" y2="508.1" stroke="#2e2e2e" stroke-width="1" />
<text transform="translate(233,511.16) scale(0.85,1)" font-size="8.5" text-anchor="end" fill="#333333" font-weight="normal" stroke="#333333" stroke-width="0.1">−3</text>
<text transform="translate(216.7,471.15) rotate(-90) scale(0.82,1)" font-size="9" text-anchor="middle" fill="#333333" font-weight="normal" stroke="#333333" stroke-width="0.1">CDK6 intensity</text>
<line x1="246.8" y1="508.1" x2="246.8" y2="510.6" stroke="#2e2e2e" stroke-width="1" />
<text transform="translate(246.8,521.3) scale(0.82,1)" font-size="9" text-anchor="middle" fill="#333333" font-weight="normal" stroke="#333333" stroke-width="0.1">0</text>
<line x1="271.7" y1="508.1" x2="271.7" y2="510.6" stroke="#2e2e2e" stroke-width="1" />
<text transform="translate(271.7,521.3) scale(0.82,1)" font-size="9" text-anchor="middle" fill="#333333" font-weight="normal" stroke="#333333" stroke-width="0.1">24</text>
<line x1="296.5" y1="508.1" x2="296.5" y2="510.6" stroke="#2e2e2e" stroke-width="1" />
<text transform="translate(296.5,521.3) scale(0.82,1)" font-size="9" text-anchor="middle" fill="#333333" font-weight="normal" stroke="#333333" stroke-width="0.1">42</text>
<line x1="321.6" y1="508.1" x2="321.6" y2="510.6" stroke="#2e2e2e" stroke-width="1" />
<text transform="translate(321.6,521.3) scale(0.82,1)" font-size="9" text-anchor="middle" fill="#333333" font-weight="normal" stroke="#333333" stroke-width="0.1">50</text>
<line x1="346.2" y1="508.1" x2="346.2" y2="510.6" stroke="#2e2e2e" stroke-width="1" />
<text transform="translate(346.2,521.3) scale(0.82,1)" font-size="9" text-anchor="middle" fill="#333333" font-weight="normal" stroke="#333333" stroke-width="0.1">64</text>
<path d="M240.6,464.13 L241.9,465.33 L241.9,473.03 L240.6,474.23 L239.3,473.03 L239.3,465.33 Z" fill="#c9d0e4"/>
<line x1="240.6" y1="453.41" x2="240.6" y2="489.62" stroke="#61769a" stroke-width="0.75" />
<rect x="239.2" y="468.03" width="2.6" height="1.6" fill="#1d3b66"/>
<circle cx="240.6" cy="495.78" r="0.65" fill="#61769a"/>
<circle cx="240.6" cy="501.94" r="0.65" fill="#61769a"/>
<path d="M246.8,460.31 L248.1,461.51 L248.1,469.33 L246.8,470.53 L245.5,469.33 L245.5,461.51 Z" fill="#f8cfc2"/>
<line x1="246.8" y1="455.26" x2="246.8" y2="487.53" stroke="#cc6a74" stroke-width="0.75" />
<rect x="245.4" y="463.85" width="2.6" height="1.6" fill="#9c1f2c"/>
<path d="M253,474.84 L254.3,476.04 L254.3,479.8 L253,481 L251.7,479.8 L251.7,476.04 Z" fill="#d2eaf6"/>
<line x1="253" y1="454.03" x2="253" y2="491.97" stroke="#92cdea" stroke-width="0.75" />
<rect x="251.6" y="477.15" width="2.6" height="1.6" fill="#4f9cc8"/>
<path d="M265.5,466.1 L266.8,467.3 L266.8,474.26 L265.5,475.46 L264.2,474.26 L264.2,467.3 Z" fill="#c9d0e4"/>
<line x1="265.5" y1="453.41" x2="265.5" y2="493.2" stroke="#61769a" stroke-width="0.75" />
<rect x="264.1" y="470.25" width="2.6" height="1.6" fill="#1d3b66"/>
<path d="M271.7,466.22 L273,467.42 L273,472.41 L271.7,473.61 L270.4,472.41 L270.4,467.42 Z" fill="#f8cfc2"/>
<line x1="271.7" y1="455.88" x2="271.7" y2="480.51" stroke="#cc6a74" stroke-width="0.75" />
<rect x="270.3" y="469.02" width="2.6" height="1.6" fill="#9c1f2c"/>
<circle cx="271.7" cy="484.94" r="0.65" fill="#cc6a74"/>
<path d="M277.9,476.08 L279.2,477.28 L279.2,483.5 L277.9,484.7 L276.6,483.5 L276.6,477.28 Z" fill="#d2eaf6"/>
<line x1="277.9" y1="453.41" x2="277.9" y2="495.66" stroke="#92cdea" stroke-width="0.75" />
<rect x="276.5" y="479.36" width="2.6" height="1.6" fill="#4f9cc8"/>
<path d="M290.3,462.28 L291.6,463.48 L291.6,474.51 L290.3,475.71 L289,474.51 L289,463.48 Z" fill="#c9d0e4"/>
<line x1="290.3" y1="451.57" x2="290.3" y2="487.9" stroke="#61769a" stroke-width="0.75" />
<rect x="288.9" y="468.4" width="2.6" height="1.6" fill="#1d3b66"/>
<circle cx="290.3" cy="493.32" r="0.65" fill="#61769a"/>
<circle cx="290.3" cy="495.17" r="0.65" fill="#61769a"/>
<circle cx="290.3" cy="498.25" r="0.65" fill="#61769a"/>
<circle cx="290.3" cy="500.09" r="0.65" fill="#61769a"/>
<path d="M296.5,466.35 L297.8,467.55 L297.8,474.51 L296.5,475.71 L295.2,474.51 L295.2,467.55 Z" fill="#f8cfc2"/>
<line x1="296.5" y1="454.89" x2="296.5" y2="489.26" stroke="#cc6a74" stroke-width="0.75" />
<rect x="295.1" y="470.25" width="2.6" height="1.6" fill="#9c1f2c"/>
<circle cx="296.5" cy="491.97" r="0.65" fill="#cc6a74"/>
<circle cx="296.5" cy="494.55" r="0.65" fill="#cc6a74"/>
<path d="M302.7,469.92 L304,471.12 L304,474.88 L302.7,476.08 L301.4,474.88 L301.4,471.12 Z" fill="#d2eaf6"/>
<line x1="302.7" y1="451.57" x2="302.7" y2="495.29" stroke="#92cdea" stroke-width="0.75" />
<rect x="301.3" y="472.22" width="2.6" height="1.6" fill="#4f9cc8"/>
<path d="M315.4,456.99 L316.7,458.19 L316.7,469.21 L315.4,470.41 L314.1,469.21 L314.1,458.19 Z" fill="#c9d0e4"/>
<line x1="315.4" y1="447.5" x2="315.4" y2="487.9" stroke="#61769a" stroke-width="0.75" />
<rect x="314" y="462.98" width="2.6" height="1.6" fill="#1d3b66"/>
<path d="M321.6,464.38 L322.9,465.58 L322.9,473.28 L321.6,474.48 L320.3,473.28 L320.3,465.58 Z" fill="#f8cfc2"/>
<line x1="321.6" y1="450.95" x2="321.6" y2="490.61" stroke="#cc6a74" stroke-width="0.75" />
<rect x="320.2" y="468.4" width="2.6" height="1.6" fill="#9c1f2c"/>
<path d="M327.8,474.23 L329.1,475.43 L329.1,479.8 L327.8,481 L326.5,479.8 L326.5,475.43 Z" fill="#d2eaf6"/>
<line x1="327.8" y1="454.28" x2="327.8" y2="489.26" stroke="#92cdea" stroke-width="0.75" />
<rect x="326.4" y="476.9" width="2.6" height="1.6" fill="#4f9cc8"/>
<path d="M340,464.99 L341.3,466.19 L341.3,474.88 L340,476.08 L338.7,474.88 L338.7,466.19 Z" fill="#c9d0e4"/>
<line x1="340" y1="454.28" x2="340" y2="489.26" stroke="#61769a" stroke-width="0.75" />
<rect x="338.6" y="469.76" width="2.6" height="1.6" fill="#1d3b66"/>
<circle cx="340" cy="446.15" r="0.65" fill="#61769a"/>
<circle cx="340" cy="497.26" r="0.65" fill="#61769a"/>
<circle cx="340" cy="506.62" r="0.65" fill="#61769a"/>
<path d="M346.2,468.69 L347.5,469.89 L347.5,478.57 L346.2,479.77 L344.9,478.57 L344.9,469.89 Z" fill="#f8cfc2"/>
<line x1="346.2" y1="452.31" x2="346.2" y2="496.65" stroke="#cc6a74" stroke-width="0.75" />
<rect x="344.8" y="473.21" width="2.6" height="1.6" fill="#9c1f2c"/>
<circle cx="346.2" cy="446.76" r="0.65" fill="#cc6a74"/>
<circle cx="346.2" cy="500.09" r="0.65" fill="#cc6a74"/>
<path d="M352.4,471.15 L353.7,472.35 L353.7,477.34 L352.4,478.54 L351.1,477.34 L351.1,472.35 Z" fill="#d2eaf6"/>
<line x1="352.4" y1="450.21" x2="352.4" y2="494.55" stroke="#92cdea" stroke-width="0.75" />
<rect x="351" y="474.19" width="2.6" height="1.6" fill="#4f9cc8"/>
<line x1="240.3" y1="437.6" x2="253.3" y2="437.6" stroke="#333" stroke-width="0.9" />
<path d="M244.7,434.7 V436.9 M243.7,435.25 L245.7,436.35 M243.7,436.35 L245.7,435.25" stroke="#2a2a2a" stroke-width="0.7" fill="none"/>
<path d="M246.8,434.7 V436.9 M245.8,435.25 L247.8,436.35 M245.8,436.35 L247.8,435.25" stroke="#2a2a2a" stroke-width="0.7" fill="none"/>
<path d="M248.9,434.7 V436.9 M247.9,435.25 L249.9,436.35 M247.9,436.35 L249.9,435.25" stroke="#2a2a2a" stroke-width="0.7" fill="none"/>
<path d="M243.2,438.9 V441.1 M242.2,439.45 L244.2,440.55 M242.2,440.55 L244.2,439.45" stroke="#2a2a2a" stroke-width="0.7" fill="none"/>
<path d="M245.6,438.9 V441.1 M244.6,439.45 L246.6,440.55 M244.6,440.55 L246.6,439.45" stroke="#2a2a2a" stroke-width="0.7" fill="none"/>
<path d="M248,438.9 V441.1 M247,439.45 L249,440.55 M247,440.55 L249,439.45" stroke="#2a2a2a" stroke-width="0.7" fill="none"/>
<path d="M250.4,438.9 V441.1 M249.4,439.45 L251.4,440.55 M249.4,440.55 L251.4,439.45" stroke="#2a2a2a" stroke-width="0.7" fill="none"/>
<path d="M241.8,440.4 V441.6 H251.8 V440.4" stroke="#2a2a2a" stroke-width="0.8" fill="none"/>
<line x1="265.2" y1="437.6" x2="278.2" y2="437.6" stroke="#333" stroke-width="0.9" />
<path d="M269.6,434.7 V436.9 M268.6,435.25 L270.6,436.35 M268.6,436.35 L270.6,435.25" stroke="#2a2a2a" stroke-width="0.7" fill="none"/>
<path d="M271.7,434.7 V436.9 M270.7,435.25 L272.7,436.35 M270.7,436.35 L272.7,435.25" stroke="#2a2a2a" stroke-width="0.7" fill="none"/>
<path d="M273.8,434.7 V436.9 M272.8,435.25 L274.8,436.35 M272.8,436.35 L274.8,435.25" stroke="#2a2a2a" stroke-width="0.7" fill="none"/>
<path d="M270.5,438.9 V441.1 M269.5,439.45 L271.5,440.55 M269.5,440.55 L271.5,439.45" stroke="#2a2a2a" stroke-width="0.7" fill="none"/>
<path d="M272.9,438.9 V441.1 M271.9,439.45 L273.9,440.55 M271.9,440.55 L273.9,439.45" stroke="#2a2a2a" stroke-width="0.7" fill="none"/>
<path d="M269.2,440.4 V441.6 H274.2 V440.4" stroke="#2a2a2a" stroke-width="0.8" fill="none"/>
<line x1="290" y1="437.6" x2="303" y2="437.6" stroke="#333" stroke-width="0.9" />
<path d="M296.5,434.7 V436.9 M295.5,435.25 L297.5,436.35 M295.5,436.35 L297.5,435.25" stroke="#2a2a2a" stroke-width="0.7" fill="none"/>
<line x1="315.1" y1="437.6" x2="328.1" y2="437.6" stroke="#333" stroke-width="0.9" />
<path d="M319.5,434.7 V436.9 M318.5,435.25 L320.5,436.35 M318.5,436.35 L320.5,435.25" stroke="#2a2a2a" stroke-width="0.7" fill="none"/>
<path d="M321.6,434.7 V436.9 M320.6,435.25 L322.6,436.35 M320.6,436.35 L322.6,435.25" stroke="#2a2a2a" stroke-width="0.7" fill="none"/>
<path d="M323.7,434.7 V436.9 M322.7,435.25 L324.7,436.35 M322.7,436.35 L324.7,435.25" stroke="#2a2a2a" stroke-width="0.7" fill="none"/>
<path d="M318,438.9 V441.1 M317,439.45 L319,440.55 M317,440.55 L319,439.45" stroke="#2a2a2a" stroke-width="0.7" fill="none"/>
<path d="M320.4,438.9 V441.1 M319.4,439.45 L321.4,440.55 M319.4,440.55 L321.4,439.45" stroke="#2a2a2a" stroke-width="0.7" fill="none"/>
<path d="M322.8,438.9 V441.1 M321.8,439.45 L323.8,440.55 M321.8,440.55 L323.8,439.45" stroke="#2a2a2a" stroke-width="0.7" fill="none"/>
<path d="M325.2,438.9 V441.1 M324.2,439.45 L326.2,440.55 M324.2,440.55 L326.2,439.45" stroke="#2a2a2a" stroke-width="0.7" fill="none"/>
<path d="M316.6,440.4 V441.6 H326.6 V440.4" stroke="#2a2a2a" stroke-width="0.8" fill="none"/>
<line x1="339.7" y1="437.6" x2="352.7" y2="437.6" stroke="#333" stroke-width="0.9" />
<path d="M345.15,434.7 V436.9 M344.15,435.25 L346.15,436.35 M344.15,436.35 L346.15,435.25" stroke="#2a2a2a" stroke-width="0.7" fill="none"/>
<path d="M347.25,434.7 V436.9 M346.25,435.25 L348.25,436.35 M346.25,436.35 L348.25,435.25" stroke="#2a2a2a" stroke-width="0.7" fill="none"/>
<rect x="396.2" y="434.2" width="117" height="73.9" fill="none" stroke="#2e2e2e" stroke-width="1.2"/>
<line x1="393.2" y1="434.2" x2="396.2" y2="434.2" stroke="#2e2e2e" stroke-width="1" />
<text transform="translate(390.9,437.26) scale(0.85,1)" font-size="8.5" text-anchor="end" fill="#333333" font-weight="normal" stroke="#333333" stroke-width="0.1">3</text>
<line x1="393.2" y1="446.52" x2="396.2" y2="446.52" stroke="#2e2e2e" stroke-width="1" />
<text transform="translate(390.9,449.58) scale(0.85,1)" font-size="8.5" text-anchor="end" fill="#333333" font-weight="normal" stroke="#333333" stroke-width="0.1">2</text>
<line x1="393.2" y1="458.83" x2="396.2" y2="458.83" stroke="#2e2e2e" stroke-width="1" />
<text transform="translate(390.9,461.89) scale(0.85,1)" font-size="8.5" text-anchor="end" fill="#333333" font-weight="normal" stroke="#333333" stroke-width="0.1">1</text>
<line x1="393.2" y1="471.15" x2="396.2" y2="471.15" stroke="#2e2e2e" stroke-width="1" />
<text transform="translate(390.9,474.21) scale(0.85,1)" font-size="8.5" text-anchor="end" fill="#333333" font-weight="normal" stroke="#333333" stroke-width="0.1">0</text>
<line x1="393.2" y1="483.47" x2="396.2" y2="483.47" stroke="#2e2e2e" stroke-width="1" />
<text transform="translate(390.9,486.53) scale(0.85,1)" font-size="8.5" text-anchor="end" fill="#333333" font-weight="normal" stroke="#333333" stroke-width="0.1">−1</text>
<line x1="393.2" y1="495.78" x2="396.2" y2="495.78" stroke="#2e2e2e" stroke-width="1" />
<text transform="translate(390.9,498.84) scale(0.85,1)" font-size="8.5" text-anchor="end" fill="#333333" font-weight="normal" stroke="#333333" stroke-width="0.1">−2</text>
<line x1="393.2" y1="508.1" x2="396.2" y2="508.1" stroke="#2e2e2e" stroke-width="1" />
<text transform="translate(390.9,511.16) scale(0.85,1)" font-size="8.5" text-anchor="end" fill="#333333" font-weight="normal" stroke="#333333" stroke-width="0.1">−3</text>
<text transform="translate(374.6,471.15) rotate(-90) scale(0.82,1)" font-size="9" text-anchor="middle" fill="#333333" font-weight="normal" stroke="#333333" stroke-width="0.1">Ki67 intensity</text>
<line x1="405.1" y1="508.1" x2="405.1" y2="510.6" stroke="#2e2e2e" stroke-width="1" />
<text transform="translate(405.1,521.3) scale(0.82,1)" font-size="9" text-anchor="middle" fill="#333333" font-weight="normal" stroke="#333333" stroke-width="0.1">0</text>
<line x1="430.1" y1="508.1" x2="430.1" y2="510.6" stroke="#2e2e2e" stroke-width="1" />
<text transform="translate(430.1,521.3) scale(0.82,1)" font-size="9" text-anchor="middle" fill="#333333" font-weight="normal" stroke="#333333" stroke-width="0.1">24</text>
<line x1="455" y1="508.1" x2="455" y2="510.6" stroke="#2e2e2e" stroke-width="1" />
<text transform="translate(455,521.3) scale(0.82,1)" font-size="9" text-anchor="middle" fill="#333333" font-weight="normal" stroke="#333333" stroke-width="0.1">42</text>
<line x1="479.8" y1="508.1" x2="479.8" y2="510.6" stroke="#2e2e2e" stroke-width="1" />
<text transform="translate(479.8,521.3) scale(0.82,1)" font-size="9" text-anchor="middle" fill="#333333" font-weight="normal" stroke="#333333" stroke-width="0.1">50</text>
<line x1="504.7" y1="508.1" x2="504.7" y2="510.6" stroke="#2e2e2e" stroke-width="1" />
<text transform="translate(504.7,521.3) scale(0.82,1)" font-size="9" text-anchor="middle" fill="#333333" font-weight="normal" stroke="#333333" stroke-width="0.1">64</text>
<path d="M398.9,464.13 L400.2,465.33 L400.2,492 L398.9,493.2 L397.6,492 L397.6,465.33 Z" fill="#c9d0e4"/>
<line x1="398.9" y1="462.28" x2="398.9" y2="495.78" stroke="#61769a" stroke-width="0.75" />
<rect x="397.5" y="480.35" width="2.6" height="1.6" fill="#1d3b66"/>
<circle cx="398.9" cy="458.46" r="0.65" fill="#61769a"/>
<circle cx="398.9" cy="502.68" r="0.65" fill="#61769a"/>
<path d="M405.1,457.85 L406.4,459.05 L406.4,490.77 L405.1,491.97 L403.8,490.77 L403.8,459.05 Z" fill="#f8cfc2"/>
<line x1="405.1" y1="451.44" x2="405.1" y2="495.78" stroke="#cc6a74" stroke-width="0.75" />
<rect x="403.7" y="475.67" width="2.6" height="1.6" fill="#9c1f2c"/>
<path d="M411.3,472.38 L412.6,473.58 L412.6,477.34 L411.3,478.54 L410,477.34 L410,473.58 Z" fill="#d2eaf6"/>
<line x1="411.3" y1="462.9" x2="411.3" y2="491.97" stroke="#92cdea" stroke-width="0.75" />
<rect x="409.9" y="474.31" width="2.6" height="1.6" fill="#4f9cc8"/>
<circle cx="411.3" cy="501.94" r="0.65" fill="#92cdea"/>
<path d="M423.9,469.18 L425.2,470.38 L425.2,476.85 L423.9,478.05 L422.6,476.85 L422.6,470.38 Z" fill="#c9d0e4"/>
<line x1="423.9" y1="458.46" x2="423.9" y2="491.97" stroke="#61769a" stroke-width="0.75" />
<rect x="422.5" y="472.71" width="2.6" height="1.6" fill="#1d3b66"/>
<path d="M430.1,469.92 L431.4,471.12 L431.4,479.8 L430.1,481 L428.8,479.8 L428.8,471.12 Z" fill="#f8cfc2"/>
<line x1="430.1" y1="460.31" x2="430.1" y2="487.53" stroke="#cc6a74" stroke-width="0.75" />
<rect x="428.7" y="474.31" width="2.6" height="1.6" fill="#9c1f2c"/>
<circle cx="430.1" cy="450.83" r="0.65" fill="#cc6a74"/>
<circle cx="430.1" cy="454.03" r="0.65" fill="#cc6a74"/>
<path d="M436.3,473.61 L437.6,474.81 L437.6,481.03 L436.3,482.23 L435,481.03 L435,474.81 Z" fill="#d2eaf6"/>
<line x1="436.3" y1="452.8" x2="436.3" y2="495.78" stroke="#92cdea" stroke-width="0.75" />
<rect x="434.9" y="476.9" width="2.6" height="1.6" fill="#4f9cc8"/>
<path d="M448.8,457.85 L450.1,459.05 L450.1,469.33 L448.8,470.53 L447.5,469.33 L447.5,459.05 Z" fill="#c9d0e4"/>
<line x1="448.8" y1="448.36" x2="448.8" y2="493.81" stroke="#61769a" stroke-width="0.75" />
<rect x="447.4" y="463.97" width="2.6" height="1.6" fill="#1d3b66"/>
<path d="M455,456.37 L456.3,457.57 L456.3,488.43 L455,489.62 L453.7,488.43 L453.7,457.57 Z" fill="#f8cfc2"/>
<line x1="455" y1="450.58" x2="455" y2="494.8" stroke="#cc6a74" stroke-width="0.75" />
<rect x="453.6" y="471.48" width="2.6" height="1.6" fill="#9c1f2c"/>
<path d="M461.2,467.45 L462.5,468.65 L462.5,473.64 L461.2,474.84 L459.9,473.64 L459.9,468.65 Z" fill="#d2eaf6"/>
<line x1="461.2" y1="447.13" x2="461.2" y2="488.39" stroke="#92cdea" stroke-width="0.75" />
<rect x="459.8" y="470.25" width="2.6" height="1.6" fill="#4f9cc8"/>
<circle cx="461.2" cy="503.17" r="0.65" fill="#92cdea"/>
<path d="M473.6,455.63 L474.9,456.83 L474.9,469.95 L473.6,471.15 L472.3,469.95 L472.3,456.83 Z" fill="#c9d0e4"/>
<line x1="473.6" y1="446.52" x2="473.6" y2="488.39" stroke="#61769a" stroke-width="0.75" />
<rect x="472.2" y="459.29" width="2.6" height="1.6" fill="#1d3b66"/>
<circle cx="473.6" cy="497.63" r="0.65" fill="#61769a"/>
<path d="M479.8,463.76 L481.1,464.96 L481.1,483.5 L479.8,484.7 L478.5,483.5 L478.5,464.96 Z" fill="#f8cfc2"/>
<line x1="479.8" y1="444.18" x2="479.8" y2="493.32" stroke="#cc6a74" stroke-width="0.75" />
<rect x="478.4" y="472.22" width="2.6" height="1.6" fill="#9c1f2c"/>
<path d="M486,471.15 L487.3,472.35 L487.3,479.8 L486,481 L484.7,479.8 L484.7,472.35 Z" fill="#d2eaf6"/>
<line x1="486" y1="444.18" x2="486" y2="487.65" stroke="#92cdea" stroke-width="0.75" />
<rect x="484.6" y="475.42" width="2.6" height="1.6" fill="#4f9cc8"/>
<path d="M498.5,455.63 L499.8,456.83 L499.8,465.02 L498.5,466.22 L497.2,465.02 L497.2,456.83 Z" fill="#c9d0e4"/>
<line x1="498.5" y1="446.52" x2="498.5" y2="481.25" stroke="#61769a" stroke-width="0.75" />
<rect x="497.1" y="460.64" width="2.6" height="1.6" fill="#1d3b66"/>
<circle cx="498.5" cy="483.47" r="0.65" fill="#61769a"/>
<circle cx="498.5" cy="488.15" r="0.65" fill="#61769a"/>
<circle cx="498.5" cy="489.62" r="0.65" fill="#61769a"/>
<path d="M504.7,463.76 L506,464.96 L506,477.34 L504.7,478.54 L503.4,477.34 L503.4,464.96 Z" fill="#f8cfc2"/>
<line x1="504.7" y1="447.13" x2="504.7" y2="495.41" stroke="#cc6a74" stroke-width="0.75" />
<rect x="503.3" y="470" width="2.6" height="1.6" fill="#9c1f2c"/>
<path d="M510.9,456.37 L512.2,457.57 L512.2,482.27 L510.9,483.47 L509.6,482.27 L509.6,457.57 Z" fill="#d2eaf6"/>
<line x1="510.9" y1="442.82" x2="510.9" y2="495.41" stroke="#92cdea" stroke-width="0.75" />
<rect x="509.5" y="470.25" width="2.6" height="1.6" fill="#4f9cc8"/>
<line x1="398.6" y1="437.6" x2="411.6" y2="437.6" stroke="#333" stroke-width="0.9" />
<path d="M403,434.7 V436.9 M402,435.25 L404,436.35 M402,436.35 L404,435.25" stroke="#2a2a2a" stroke-width="0.7" fill="none"/>
<path d="M405.1,434.7 V436.9 M404.1,435.25 L406.1,436.35 M404.1,436.35 L406.1,435.25" stroke="#2a2a2a" stroke-width="0.7" fill="none"/>
<path d="M407.2,434.7 V436.9 M406.2,435.25 L408.2,436.35 M406.2,436.35 L408.2,435.25" stroke="#2a2a2a" stroke-width="0.7" fill="none"/>
<path d="M403.9,438.9 V441.1 M402.9,439.45 L404.9,440.55 M402.9,440.55 L404.9,439.45" stroke="#2a2a2a" stroke-width="0.7" fill="none"/>
<path d="M406.3,438.9 V441.1 M405.3,439.45 L407.3,440.55 M405.3,440.55 L407.3,439.45" stroke="#2a2a2a" stroke-width="0.7" fill="none"/>
<path d="M402.6,440.4 V441.6 H407.6 V440.4" stroke="#2a2a2a" stroke-width="0.8" fill="none"/>
<line x1="423.6" y1="437.6" x2="436.6" y2="437.6" stroke="#333" stroke-width="0.9" />
<path d="M429.05,434.7 V436.9 M428.05,435.25 L430.05,436.35 M428.05,436.35 L430.05,435.25" stroke="#2a2a2a" stroke-width="0.7" fill="none"/>
<path d="M431.15,434.7 V436.9 M430.15,435.25 L432.15,436.35 M430.15,436.35 L432.15,435.25" stroke="#2a2a2a" stroke-width="0.7" fill="none"/>
<line x1="448.5" y1="437.6" x2="461.5" y2="437.6" stroke="#333" stroke-width="0.9" />
<path d="M455,434.7 V436.9 M454,435.25 L456,436.35 M454,436.35 L456,435.25" stroke="#2a2a2a" stroke-width="0.7" fill="none"/>
<path d="M451.4,438.9 V441.1 M450.4,439.45 L452.4,440.55 M450.4,440.55 L452.4,439.45" stroke="#2a2a2a" stroke-width="0.7" fill="none"/>
<path d="M453.8,438.9 V441.1 M452.8,439.45 L454.8,440.55 M452.8,440.55 L454.8,439.45" stroke="#2a2a2a" stroke-width="0.7" fill="none"/>
<path d="M456.2,438.9 V441.1 M455.2,439.45 L457.2,440.55 M455.2,440.55 L457.2,439.45" stroke="#2a2a2a" stroke-width="0.7" fill="none"/>
<path d="M458.6,438.9 V441.1 M457.6,439.45 L459.6,440.55 M457.6,440.55 L459.6,439.45" stroke="#2a2a2a" stroke-width="0.7" fill="none"/>
<path d="M450,440.4 V441.6 H460 V440.4" stroke="#2a2a2a" stroke-width="0.8" fill="none"/>
<line x1="473.3" y1="437.6" x2="486.3" y2="437.6" stroke="#333" stroke-width="0.9" />
<path d="M477.7,434.7 V436.9 M476.7,435.25 L478.7,436.35 M476.7,436.35 L478.7,435.25" stroke="#2a2a2a" stroke-width="0.7" fill="none"/>
<path d="M479.8,434.7 V436.9 M478.8,435.25 L480.8,436.35 M478.8,436.35 L480.8,435.25" stroke="#2a2a2a" stroke-width="0.7" fill="none"/>
<path d="M481.9,434.7 V436.9 M480.9,435.25 L482.9,436.35 M480.9,436.35 L482.9,435.25" stroke="#2a2a2a" stroke-width="0.7" fill="none"/>
<path d="M477.4,438.9 V441.1 M476.4,439.45 L478.4,440.55 M476.4,440.55 L478.4,439.45" stroke="#2a2a2a" stroke-width="0.7" fill="none"/>
<path d="M479.8,438.9 V441.1 M478.8,439.45 L480.8,440.55 M478.8,440.55 L480.8,439.45" stroke="#2a2a2a" stroke-width="0.7" fill="none"/>
<path d="M482.2,438.9 V441.1 M481.2,439.45 L483.2,440.55 M481.2,440.55 L483.2,439.45" stroke="#2a2a2a" stroke-width="0.7" fill="none"/>
<path d="M476.05,440.4 V441.6 H483.55 V440.4" stroke="#2a2a2a" stroke-width="0.8" fill="none"/>
<line x1="498.2" y1="437.6" x2="511.2" y2="437.6" stroke="#333" stroke-width="0.9" />
<path d="M502.6,434.7 V436.9 M501.6,435.25 L503.6,436.35 M501.6,436.35 L503.6,435.25" stroke="#2a2a2a" stroke-width="0.7" fill="none"/>
<path d="M504.7,434.7 V436.9 M503.7,435.25 L505.7,436.35 M503.7,436.35 L505.7,435.25" stroke="#2a2a2a" stroke-width="0.7" fill="none"/>
<path d="M506.8,434.7 V436.9 M505.8,435.25 L507.8,436.35 M505.8,436.35 L507.8,435.25" stroke="#2a2a2a" stroke-width="0.7" fill="none"/>
<path d="M503.5,438.9 V441.1 M502.5,439.45 L504.5,440.55 M502.5,440.55 L504.5,439.45" stroke="#2a2a2a" stroke-width="0.7" fill="none"/>
<path d="M505.9,438.9 V441.1 M504.9,439.45 L506.9,440.55 M504.9,440.55 L506.9,439.45" stroke="#2a2a2a" stroke-width="0.7" fill="none"/>
<path d="M502.2,440.4 V441.6 H507.2 V440.4" stroke="#2a2a2a" stroke-width="0.8" fill="none"/>
<rect x="238.3" y="539.7" width="116.4" height="74" fill="none" stroke="#2e2e2e" stroke-width="1.2"/>
<line x1="235.3" y1="539.7" x2="238.3" y2="539.7" stroke="#2e2e2e" stroke-width="1" />
<text transform="translate(233,542.76) scale(0.85,1)" font-size="8.5" text-anchor="end" fill="#333333" font-weight="normal" stroke="#333333" stroke-width="0.1">3</text>
<line x1="235.3" y1="552.03" x2="238.3" y2="552.03" stroke="#2e2e2e" stroke-width="1" />
<text transform="translate(233,555.09) scale(0.85,1)" font-size="8.5" text-anchor="end" fill="#333333" font-weight="normal" stroke="#333333" stroke-width="0.1">2</text>
<line x1="235.3" y1="564.37" x2="238.3" y2="564.37" stroke="#2e2e2e" stroke-width="1" />
<text transform="translate(233,567.43) scale(0.85,1)" font-size="8.5" text-anchor="end" fill="#333333" font-weight="normal" stroke="#333333" stroke-width="0.1">1</text>
<line x1="235.3" y1="576.7" x2="238.3" y2="576.7" stroke="#2e2e2e" stroke-width="1" />
<text transform="translate(233,579.76) scale(0.85,1)" font-size="8.5" text-anchor="end" fill="#333333" font-weight="normal" stroke="#333333" stroke-width="0.1">0</text>
<line x1="235.3" y1="589.03" x2="238.3" y2="589.03" stroke="#2e2e2e" stroke-width="1" />
<text transform="translate(233,592.09) scale(0.85,1)" font-size="8.5" text-anchor="end" fill="#333333" font-weight="normal" stroke="#333333" stroke-width="0.1">−1</text>
<line x1="235.3" y1="601.37" x2="238.3" y2="601.37" stroke="#2e2e2e" stroke-width="1" />
<text transform="translate(233,604.43) scale(0.85,1)" font-size="8.5" text-anchor="end" fill="#333333" font-weight="normal" stroke="#333333" stroke-width="0.1">−2</text>
<line x1="235.3" y1="613.7" x2="238.3" y2="613.7" stroke="#2e2e2e" stroke-width="1" />
<text transform="translate(233,616.76) scale(0.85,1)" font-size="8.5" text-anchor="end" fill="#333333" font-weight="normal" stroke="#333333" stroke-width="0.1">−3</text>
<text transform="translate(216.7,576.7) rotate(-90) scale(0.82,1)" font-size="9" text-anchor="middle" fill="#333333" font-weight="normal" stroke="#333333" stroke-width="0.1">CDK2 intensity</text>
<line x1="246.8" y1="613.7" x2="246.8" y2="616.2" stroke="#2e2e2e" stroke-width="1" />
<text transform="translate(246.8,626.9) scale(0.82,1)" font-size="9" text-anchor="middle" fill="#333333" font-weight="normal" stroke="#333333" stroke-width="0.1">0</text>
<line x1="271.7" y1="613.7" x2="271.7" y2="616.2" stroke="#2e2e2e" stroke-width="1" />
<text transform="translate(271.7,626.9) scale(0.82,1)" font-size="9" text-anchor="middle" fill="#333333" font-weight="normal" stroke="#333333" stroke-width="0.1">24</text>
<line x1="296.5" y1="613.7" x2="296.5" y2="616.2" stroke="#2e2e2e" stroke-width="1" />
<text transform="translate(296.5,626.9) scale(0.82,1)" font-size="9" text-anchor="middle" fill="#333333" font-weight="normal" stroke="#333333" stroke-width="0.1">42</text>
<line x1="321.6" y1="613.7" x2="321.6" y2="616.2" stroke="#2e2e2e" stroke-width="1" />
<text transform="translate(321.6,626.9) scale(0.82,1)" font-size="9" text-anchor="middle" fill="#333333" font-weight="normal" stroke="#333333" stroke-width="0.1">50</text>
<line x1="346.2" y1="613.7" x2="346.2" y2="616.2" stroke="#2e2e2e" stroke-width="1" />
<text transform="translate(346.2,626.9) scale(0.82,1)" font-size="9" text-anchor="middle" fill="#333333" font-weight="normal" stroke="#333333" stroke-width="0.1">64</text>
<text transform="translate(297,639.9) scale(0.83,1)" font-size="9" text-anchor="middle" fill="#333333" font-weight="normal" stroke="#333333" stroke-width="0.1">Time (h)</text>
<path d="M240.6,570.41 L241.9,571.61 L241.9,577.97 L240.6,579.17 L239.3,577.97 L239.3,571.61 Z" fill="#c9d0e4"/>
<line x1="240.6" y1="557.09" x2="240.6" y2="589.28" stroke="#61769a" stroke-width="0.75" />
<rect x="239.2" y="574.57" width="2.6" height="1.6" fill="#1d3b66"/>
<path d="M246.8,558.2 L248.1,559.4 L248.1,594 L246.8,595.2 L245.5,594 L245.5,559.4 Z" fill="#f8cfc2"/>
<line x1="246.8" y1="557.09" x2="246.8" y2="594.95" stroke="#cc6a74" stroke-width="0.75" />
<rect x="245.4" y="575.18" width="2.6" height="1.6" fill="#9c1f2c"/>
<path d="M253,568.07 L254.3,569.27 L254.3,573.03 L253,574.23 L251.7,573.03 L251.7,569.27 Z" fill="#d2eaf6"/>
<line x1="253" y1="552.03" x2="253" y2="592.49" stroke="#92cdea" stroke-width="0.75" />
<rect x="251.6" y="569.88" width="2.6" height="1.6" fill="#4f9cc8"/>
<circle cx="253" cy="596.93" r="0.65" fill="#92cdea"/>
<path d="M265.5,575.47 L266.8,576.67 L266.8,580.43 L265.5,581.63 L264.2,580.43 L264.2,576.67 Z" fill="#c9d0e4"/>
<line x1="265.5" y1="559.06" x2="265.5" y2="595.69" stroke="#61769a" stroke-width="0.75" />
<rect x="264.1" y="577.9" width="2.6" height="1.6" fill="#1d3b66"/>
<circle cx="265.5" cy="558.2" r="0.65" fill="#61769a"/>
<circle cx="265.5" cy="560.67" r="0.65" fill="#61769a"/>
<path d="M271.7,575.47 L273,576.67 L273,579.2 L271.7,580.4 L270.4,579.2 L270.4,576.67 Z" fill="#f8cfc2"/>
<line x1="271.7" y1="564.12" x2="271.7" y2="591.25" stroke="#cc6a74" stroke-width="0.75" />
<rect x="270.3" y="577.03" width="2.6" height="1.6" fill="#9c1f2c"/>
<path d="M277.9,575.47 L279.2,576.67 L279.2,581.67 L277.9,582.87 L276.6,581.67 L276.6,576.67 Z" fill="#d2eaf6"/>
<line x1="277.9" y1="559.68" x2="277.9" y2="598.16" stroke="#92cdea" stroke-width="0.75" />
<rect x="276.5" y="577.65" width="2.6" height="1.6" fill="#4f9cc8"/>
<circle cx="277.9" cy="551.42" r="0.65" fill="#92cdea"/>
<circle cx="277.9" cy="601.37" r="0.65" fill="#92cdea"/>
<circle cx="277.9" cy="610.49" r="0.65" fill="#92cdea"/>
<path d="M290.3,568.07 L291.6,569.27 L291.6,576.73 L290.3,577.93 L289,576.73 L289,569.27 Z" fill="#c9d0e4"/>
<line x1="290.3" y1="559.19" x2="290.3" y2="594.21" stroke="#61769a" stroke-width="0.75" />
<rect x="288.9" y="572.1" width="2.6" height="1.6" fill="#1d3b66"/>
<circle cx="290.3" cy="597.67" r="0.65" fill="#61769a"/>
<circle cx="290.3" cy="599.52" r="0.65" fill="#61769a"/>
<circle cx="290.3" cy="601.37" r="0.65" fill="#61769a"/>
<path d="M296.5,574.23 L297.8,575.43 L297.8,583.52 L296.5,584.72 L295.2,583.52 L295.2,575.43 Z" fill="#f8cfc2"/>
<line x1="296.5" y1="558.57" x2="296.5" y2="596.93" stroke="#cc6a74" stroke-width="0.75" />
<rect x="295.1" y="579.5" width="2.6" height="1.6" fill="#9c1f2c"/>
<circle cx="296.5" cy="555.73" r="0.65" fill="#cc6a74"/>
<circle cx="296.5" cy="602.6" r="0.65" fill="#cc6a74"/>
<path d="M302.7,574.23 L304,575.43 L304,579.2 L302.7,580.4 L301.4,579.2 L301.4,575.43 Z" fill="#d2eaf6"/>
<line x1="302.7" y1="556.47" x2="302.7" y2="599.64" stroke="#92cdea" stroke-width="0.75" />
<rect x="301.3" y="576.05" width="2.6" height="1.6" fill="#4f9cc8"/>
<path d="M315.4,565.6 L316.7,566.8 L316.7,573.03 L315.4,574.23 L314.1,573.03 L314.1,566.8 Z" fill="#c9d0e4"/>
<line x1="315.4" y1="552.03" x2="315.4" y2="591.5" stroke="#61769a" stroke-width="0.75" />
<rect x="314" y="568.15" width="2.6" height="1.6" fill="#1d3b66"/>
<circle cx="315.4" cy="596.43" r="0.65" fill="#61769a"/>
<circle cx="315.4" cy="598.9" r="0.65" fill="#61769a"/>
<circle cx="315.4" cy="603.83" r="0.65" fill="#61769a"/>
<circle cx="315.4" cy="606.3" r="0.65" fill="#61769a"/>
<path d="M321.6,574.23 L322.9,575.43 L322.9,581.05 L321.6,582.25 L320.3,581.05 L320.3,575.43 Z" fill="#f8cfc2"/>
<line x1="321.6" y1="561.9" x2="321.6" y2="601" stroke="#cc6a74" stroke-width="0.75" />
<rect x="320.2" y="576.79" width="2.6" height="1.6" fill="#9c1f2c"/>
<path d="M327.8,577.32 L329.1,578.52 L329.1,581.05 L327.8,582.25 L326.5,581.05 L326.5,578.52 Z" fill="#d2eaf6"/>
<line x1="327.8" y1="559.93" x2="327.8" y2="593.6" stroke="#92cdea" stroke-width="0.75" />
<rect x="326.4" y="578.88" width="2.6" height="1.6" fill="#4f9cc8"/>
<circle cx="327.8" cy="606.3" r="0.65" fill="#92cdea"/>
<circle cx="327.8" cy="608.15" r="0.65" fill="#92cdea"/>
<path d="M340,565.6 L341.3,566.8 L341.3,573.03 L340,574.23 L338.7,573.03 L338.7,566.8 Z" fill="#c9d0e4"/>
<line x1="340" y1="552.53" x2="340" y2="590.27" stroke="#61769a" stroke-width="0.75" />
<rect x="338.6" y="568.77" width="2.6" height="1.6" fill="#1d3b66"/>
<path d="M346.2,574.23 L347.5,575.43 L347.5,581.05 L346.2,582.25 L344.9,581.05 L344.9,575.43 Z" fill="#f8cfc2"/>
<line x1="346.2" y1="557.21" x2="346.2" y2="603.83" stroke="#cc6a74" stroke-width="0.75" />
<rect x="344.8" y="577.16" width="2.6" height="1.6" fill="#9c1f2c"/>
<path d="M352.4,576.7 L353.7,577.9 L353.7,582.9 L352.4,584.1 L351.1,582.9 L351.1,577.9 Z" fill="#d2eaf6"/>
<line x1="352.4" y1="559.19" x2="352.4" y2="599.64" stroke="#92cdea" stroke-width="0.75" />
<rect x="351" y="579.5" width="2.6" height="1.6" fill="#4f9cc8"/>
<circle cx="352.4" cy="548.46" r="0.65" fill="#92cdea"/>
<line x1="240.3" y1="543.1" x2="253.3" y2="543.1" stroke="#333" stroke-width="0.9" />
<path d="M244.7,540.2 V542.4 M243.7,540.75 L245.7,541.85 M243.7,541.85 L245.7,540.75" stroke="#2a2a2a" stroke-width="0.7" fill="none"/>
<path d="M246.8,540.2 V542.4 M245.8,540.75 L247.8,541.85 M245.8,541.85 L247.8,540.75" stroke="#2a2a2a" stroke-width="0.7" fill="none"/>
<path d="M248.9,540.2 V542.4 M247.9,540.75 L249.9,541.85 M247.9,541.85 L249.9,540.75" stroke="#2a2a2a" stroke-width="0.7" fill="none"/>
<path d="M244.4,544.4 V546.6 M243.4,544.95 L245.4,546.05 M243.4,546.05 L245.4,544.95" stroke="#2a2a2a" stroke-width="0.7" fill="none"/>
<path d="M246.8,544.4 V546.6 M245.8,544.95 L247.8,546.05 M245.8,546.05 L247.8,544.95" stroke="#2a2a2a" stroke-width="0.7" fill="none"/>
<path d="M249.2,544.4 V546.6 M248.2,544.95 L250.2,546.05 M248.2,546.05 L250.2,544.95" stroke="#2a2a2a" stroke-width="0.7" fill="none"/>
<path d="M243.05,545.9 V547.1 H250.55 V545.9" stroke="#2a2a2a" stroke-width="0.8" fill="none"/>
<line x1="290" y1="543.1" x2="303" y2="543.1" stroke="#333" stroke-width="0.9" />
<path d="M296.5,540.2 V542.4 M295.5,540.75 L297.5,541.85 M295.5,541.85 L297.5,540.75" stroke="#2a2a2a" stroke-width="0.7" fill="none"/>
<path d="M292.9,544.4 V546.6 M291.9,544.95 L293.9,546.05 M291.9,546.05 L293.9,544.95" stroke="#2a2a2a" stroke-width="0.7" fill="none"/>
<path d="M295.3,544.4 V546.6 M294.3,544.95 L296.3,546.05 M294.3,546.05 L296.3,544.95" stroke="#2a2a2a" stroke-width="0.7" fill="none"/>
<path d="M297.7,544.4 V546.6 M296.7,544.95 L298.7,546.05 M296.7,546.05 L298.7,544.95" stroke="#2a2a2a" stroke-width="0.7" fill="none"/>
<path d="M300.1,544.4 V546.6 M299.1,544.95 L301.1,546.05 M299.1,546.05 L301.1,544.95" stroke="#2a2a2a" stroke-width="0.7" fill="none"/>
<path d="M291.5,545.9 V547.1 H301.5 V545.9" stroke="#2a2a2a" stroke-width="0.8" fill="none"/>
<line x1="315.1" y1="543.1" x2="328.1" y2="543.1" stroke="#333" stroke-width="0.9" />
<path d="M319.5,540.2 V542.4 M318.5,540.75 L320.5,541.85 M318.5,541.85 L320.5,540.75" stroke="#2a2a2a" stroke-width="0.7" fill="none"/>
<path d="M321.6,540.2 V542.4 M320.6,540.75 L322.6,541.85 M320.6,541.85 L322.6,540.75" stroke="#2a2a2a" stroke-width="0.7" fill="none"/>
<path d="M323.7,540.2 V542.4 M322.7,540.75 L324.7,541.85 M322.7,541.85 L324.7,540.75" stroke="#2a2a2a" stroke-width="0.7" fill="none"/>
<path d="M319.2,544.4 V546.6 M318.2,544.95 L320.2,546.05 M318.2,546.05 L320.2,544.95" stroke="#2a2a2a" stroke-width="0.7" fill="none"/>
<path d="M321.6,544.4 V546.6 M320.6,544.95 L322.6,546.05 M320.6,546.05 L322.6,544.95" stroke="#2a2a2a" stroke-width="0.7" fill="none"/>
<path d="M324,544.4 V546.6 M323,544.95 L325,546.05 M323,546.05 L325,544.95" stroke="#2a2a2a" stroke-width="0.7" fill="none"/>
<path d="M317.85,545.9 V547.1 H325.35 V545.9" stroke="#2a2a2a" stroke-width="0.8" fill="none"/>
<line x1="339.7" y1="543.1" x2="352.7" y2="543.1" stroke="#333" stroke-width="0.9" />
<path d="M344.1,540.2 V542.4 M343.1,540.75 L345.1,541.85 M343.1,541.85 L345.1,540.75" stroke="#2a2a2a" stroke-width="0.7" fill="none"/>
<path d="M346.2,540.2 V542.4 M345.2,540.75 L347.2,541.85 M345.2,541.85 L347.2,540.75" stroke="#2a2a2a" stroke-width="0.7" fill="none"/>
<path d="M348.3,540.2 V542.4 M347.3,540.75 L349.3,541.85 M347.3,541.85 L349.3,540.75" stroke="#2a2a2a" stroke-width="0.7" fill="none"/>
<path d="M343.8,544.4 V546.6 M342.8,544.95 L344.8,546.05 M342.8,546.05 L344.8,544.95" stroke="#2a2a2a" stroke-width="0.7" fill="none"/>
<path d="M346.2,544.4 V546.6 M345.2,544.95 L347.2,546.05 M345.2,546.05 L347.2,544.95" stroke="#2a2a2a" stroke-width="0.7" fill="none"/>
<path d="M348.6,544.4 V546.6 M347.6,544.95 L349.6,546.05 M347.6,546.05 L349.6,544.95" stroke="#2a2a2a" stroke-width="0.7" fill="none"/>
<path d="M342.45,545.9 V547.1 H349.95 V545.9" stroke="#2a2a2a" stroke-width="0.8" fill="none"/>
<rect x="396.2" y="539.7" width="117" height="74" fill="none" stroke="#2e2e2e" stroke-width="1.2"/>
<line x1="393.2" y1="539.7" x2="396.2" y2="539.7" stroke="#2e2e2e" stroke-width="1" />
<text transform="translate(390.9,542.76) scale(0.85,1)" font-size="8.5" text-anchor="end" fill="#333333" font-weight="normal" stroke="#333333" stroke-width="0.1">3</text>
<line x1="393.2" y1="552.03" x2="396.2" y2="552.03" stroke="#2e2e2e" stroke-width="1" />
<text transform="translate(390.9,555.09) scale(0.85,1)" font-size="8.5" text-anchor="end" fill="#333333" font-weight="normal" stroke="#333333" stroke-width="0.1">2</text>
<line x1="393.2" y1="564.37" x2="396.2" y2="564.37" stroke="#2e2e2e" stroke-width="1" />
<text transform="translate(390.9,567.43) scale(0.85,1)" font-size="8.5" text-anchor="end" fill="#333333" font-weight="normal" stroke="#333333" stroke-width="0.1">1</text>
<line x1="393.2" y1="576.7" x2="396.2" y2="576.7" stroke="#2e2e2e" stroke-width="1" />
<text transform="translate(390.9,579.76) scale(0.85,1)" font-size="8.5" text-anchor="end" fill="#333333" font-weight="normal" stroke="#333333" stroke-width="0.1">0</text>
<line x1="393.2" y1="589.03" x2="396.2" y2="589.03" stroke="#2e2e2e" stroke-width="1" />
<text transform="translate(390.9,592.09) scale(0.85,1)" font-size="8.5" text-anchor="end" fill="#333333" font-weight="normal" stroke="#333333" stroke-width="0.1">−1</text>
<line x1="393.2" y1="601.37" x2="396.2" y2="601.37" stroke="#2e2e2e" stroke-width="1" />
<text transform="translate(390.9,604.43) scale(0.85,1)" font-size="8.5" text-anchor="end" fill="#333333" font-weight="normal" stroke="#333333" stroke-width="0.1">−2</text>
<line x1="393.2" y1="613.7" x2="396.2" y2="613.7" stroke="#2e2e2e" stroke-width="1" />
<text transform="translate(390.9,616.76) scale(0.85,1)" font-size="8.5" text-anchor="end" fill="#333333" font-weight="normal" stroke="#333333" stroke-width="0.1">−3</text>
<text transform="translate(374.6,576.7) rotate(-90) scale(0.82,1)" font-size="9" text-anchor="middle" fill="#333333" font-weight="normal" stroke="#333333" stroke-width="0.1">pRb intensity</text>
<line x1="405.1" y1="613.7" x2="405.1" y2="616.2" stroke="#2e2e2e" stroke-width="1" />
<text transform="translate(405.1,626.9) scale(0.82,1)" font-size="9" text-anchor="middle" fill="#333333" font-weight="normal" stroke="#333333" stroke-width="0.1">0</text>
<line x1="430.1" y1="613.7" x2="430.1" y2="616.2" stroke="#2e2e2e" stroke-width="1" />
<text transform="translate(430.1,626.9) scale(0.82,1)" font-size="9" text-anchor="middle" fill="#333333" font-weight="normal" stroke="#333333" stroke-width="0.1">24</text>
<line x1="455" y1="613.7" x2="455" y2="616.2" stroke="#2e2e2e" stroke-width="1" />
<text transform="translate(455,626.9) scale(0.82,1)" font-size="9" text-anchor="middle" fill="#333333" font-weight="normal" stroke="#333333" stroke-width="0.1">42</text>
<line x1="479.8" y1="613.7" x2="479.8" y2="616.2" stroke="#2e2e2e" stroke-width="1" />
<text transform="translate(479.8,626.9) scale(0.82,1)" font-size="9" text-anchor="middle" fill="#333333" font-weight="normal" stroke="#333333" stroke-width="0.1">50</text>
<line x1="504.7" y1="613.7" x2="504.7" y2="616.2" stroke="#2e2e2e" stroke-width="1" />
<text transform="translate(504.7,626.9) scale(0.82,1)" font-size="9" text-anchor="middle" fill="#333333" font-weight="normal" stroke="#333333" stroke-width="0.1">64</text>
<text transform="translate(455.2,639.9) scale(0.83,1)" font-size="9" text-anchor="middle" fill="#333333" font-weight="normal" stroke="#333333" stroke-width="0.1">Time (h)</text>
<path d="M398.9,560.67 L400.2,561.87 L400.2,599.55 L398.9,600.75 L397.6,599.55 L397.6,561.87 Z" fill="#c9d0e4"/>
<line x1="398.9" y1="559.68" x2="398.9" y2="600.75" stroke="#61769a" stroke-width="0.75" />
<rect x="397.5" y="581.47" width="2.6" height="1.6" fill="#1d3b66"/>
<path d="M405.1,571.77 L406.4,572.97 L406.4,586.6 L405.1,587.8 L403.8,586.6 L403.8,572.97 Z" fill="#f8cfc2"/>
<line x1="405.1" y1="562.15" x2="405.1" y2="600.75" stroke="#cc6a74" stroke-width="0.75" />
<rect x="403.7" y="578.27" width="2.6" height="1.6" fill="#9c1f2c"/>
<path d="M411.3,577.93 L412.6,579.13 L412.6,581.67 L411.3,582.87 L410,581.67 L410,579.13 Z" fill="#d2eaf6"/>
<line x1="411.3" y1="567.82" x2="411.3" y2="598.16" stroke="#92cdea" stroke-width="0.75" />
<rect x="409.9" y="580.24" width="2.6" height="1.6" fill="#4f9cc8"/>
<circle cx="411.3" cy="593.97" r="0.65" fill="#92cdea"/>
<circle cx="411.3" cy="596.43" r="0.65" fill="#92cdea"/>
<path d="M423.9,575.47 L425.2,576.67 L425.2,584.13 L423.9,585.33 L422.6,584.13 L422.6,576.67 Z" fill="#c9d0e4"/>
<line x1="423.9" y1="560.91" x2="423.9" y2="598.9" stroke="#61769a" stroke-width="0.75" />
<rect x="422.5" y="579.01" width="2.6" height="1.6" fill="#1d3b66"/>
<circle cx="423.9" cy="600.13" r="0.65" fill="#61769a"/>
<path d="M430.1,569.3 L431.4,570.5 L431.4,586.6 L430.1,587.8 L428.8,586.6 L428.8,570.5 Z" fill="#f8cfc2"/>
<line x1="430.1" y1="557.09" x2="430.1" y2="597.54" stroke="#cc6a74" stroke-width="0.75" />
<rect x="428.7" y="576.66" width="2.6" height="1.6" fill="#9c1f2c"/>
<path d="M436.3,579.17 L437.6,580.37 L437.6,586.6 L436.3,587.8 L435,586.6 L435,580.37 Z" fill="#d2eaf6"/>
<line x1="436.3" y1="565.35" x2="436.3" y2="598.16" stroke="#92cdea" stroke-width="0.75" />
<rect x="434.9" y="581.72" width="2.6" height="1.6" fill="#4f9cc8"/>
<circle cx="436.3" cy="550.8" r="0.65" fill="#92cdea"/>
<circle cx="436.3" cy="558.2" r="0.65" fill="#92cdea"/>
<path d="M448.8,561.9 L450.1,563.1 L450.1,575.5 L448.8,576.7 L447.5,575.5 L447.5,563.1 Z" fill="#c9d0e4"/>
<line x1="448.8" y1="546.36" x2="448.8" y2="596.19" stroke="#61769a" stroke-width="0.75" />
<rect x="447.4" y="568.28" width="2.6" height="1.6" fill="#1d3b66"/>
<path d="M455,560.05 L456.3,561.25 L456.3,595.73 L455,596.93 L453.7,595.73 L453.7,561.25 Z" fill="#f8cfc2"/>
<line x1="455" y1="560.05" x2="455" y2="596.93" stroke="#cc6a74" stroke-width="0.75" />
<rect x="453.6" y="574.94" width="2.6" height="1.6" fill="#9c1f2c"/>
<path d="M461.2,571.77 L462.5,572.97 L462.5,579.2 L461.2,580.4 L459.9,579.2 L459.9,572.97 Z" fill="#d2eaf6"/>
<line x1="461.2" y1="555.73" x2="461.2" y2="596.19" stroke="#92cdea" stroke-width="0.75" />
<rect x="459.8" y="574.94" width="2.6" height="1.6" fill="#4f9cc8"/>
<circle cx="461.2" cy="600.13" r="0.65" fill="#92cdea"/>
<circle cx="461.2" cy="601.98" r="0.65" fill="#92cdea"/>
<path d="M473.6,564.37 L474.9,565.57 L474.9,575.5 L473.6,576.7 L472.3,575.5 L472.3,565.57 Z" fill="#c9d0e4"/>
<line x1="473.6" y1="554.25" x2="473.6" y2="596.19" stroke="#61769a" stroke-width="0.75" />
<rect x="472.2" y="569.39" width="2.6" height="1.6" fill="#1d3b66"/>
<circle cx="473.6" cy="600.13" r="0.65" fill="#61769a"/>
<path d="M479.8,570.53 L481.1,571.73 L481.1,582.9 L479.8,584.1 L478.5,582.9 L478.5,571.73 Z" fill="#f8cfc2"/>
<line x1="479.8" y1="554.25" x2="479.8" y2="599.02" stroke="#cc6a74" stroke-width="0.75" />
<rect x="478.4" y="576.79" width="2.6" height="1.6" fill="#9c1f2c"/>
<path d="M486,579.17 L487.3,580.37 L487.3,585.37 L486,586.57 L484.7,585.37 L484.7,580.37 Z" fill="#d2eaf6"/>
<line x1="486" y1="565.6" x2="486" y2="597.67" stroke="#92cdea" stroke-width="0.75" />
<rect x="484.6" y="581.47" width="2.6" height="1.6" fill="#4f9cc8"/>
<circle cx="486" cy="548.33" r="0.65" fill="#92cdea"/>
<circle cx="486" cy="550.8" r="0.65" fill="#92cdea"/>
<circle cx="486" cy="555.73" r="0.65" fill="#92cdea"/>
<circle cx="486" cy="558.2" r="0.65" fill="#92cdea"/>
<path d="M498.5,561.9 L499.8,563.1 L499.8,573.03 L498.5,574.23 L497.2,573.03 L497.2,563.1 Z" fill="#c9d0e4"/>
<line x1="498.5" y1="553.51" x2="498.5" y2="593.35" stroke="#61769a" stroke-width="0.75" />
<rect x="497.1" y="567.54" width="2.6" height="1.6" fill="#1d3b66"/>
<circle cx="498.5" cy="597.67" r="0.65" fill="#61769a"/>
<path d="M504.7,569.3 L506,570.5 L506,582.28 L504.7,583.48 L503.4,582.28 L503.4,570.5 Z" fill="#f8cfc2"/>
<line x1="504.7" y1="557.09" x2="504.7" y2="598.28" stroke="#cc6a74" stroke-width="0.75" />
<rect x="503.3" y="576.05" width="2.6" height="1.6" fill="#9c1f2c"/>
<path d="M510.9,564.37 L512.2,565.57 L512.2,591.41 L510.9,592.61 L509.6,591.41 L509.6,565.57 Z" fill="#d2eaf6"/>
<line x1="510.9" y1="564.24" x2="510.9" y2="592.61" stroke="#92cdea" stroke-width="0.75" />
<rect x="509.5" y="578.64" width="2.6" height="1.6" fill="#4f9cc8"/>
<line x1="423.6" y1="543.1" x2="436.6" y2="543.1" stroke="#333" stroke-width="0.9" />
<path d="M430.1,540.2 V542.4 M429.1,540.75 L431.1,541.85 M429.1,541.85 L431.1,540.75" stroke="#2a2a2a" stroke-width="0.7" fill="none"/>
<path d="M426.5,544.4 V546.6 M425.5,544.95 L427.5,546.05 M425.5,546.05 L427.5,544.95" stroke="#2a2a2a" stroke-width="0.7" fill="none"/>
<path d="M428.9,544.4 V546.6 M427.9,544.95 L429.9,546.05 M427.9,546.05 L429.9,544.95" stroke="#2a2a2a" stroke-width="0.7" fill="none"/>
<path d="M431.3,544.4 V546.6 M430.3,544.95 L432.3,546.05 M430.3,546.05 L432.3,544.95" stroke="#2a2a2a" stroke-width="0.7" fill="none"/>
<path d="M433.7,544.4 V546.6 M432.7,544.95 L434.7,546.05 M432.7,546.05 L434.7,544.95" stroke="#2a2a2a" stroke-width="0.7" fill="none"/>
<path d="M425.1,545.9 V547.1 H435.1 V545.9" stroke="#2a2a2a" stroke-width="0.8" fill="none"/>
<line x1="448.5" y1="543.1" x2="461.5" y2="543.1" stroke="#333" stroke-width="0.9" />
<path d="M452.9,540.2 V542.4 M451.9,540.75 L453.9,541.85 M451.9,541.85 L453.9,540.75" stroke="#2a2a2a" stroke-width="0.7" fill="none"/>
<path d="M455,540.2 V542.4 M454,540.75 L456,541.85 M454,541.85 L456,540.75" stroke="#2a2a2a" stroke-width="0.7" fill="none"/>
<path d="M457.1,540.2 V542.4 M456.1,540.75 L458.1,541.85 M456.1,541.85 L458.1,540.75" stroke="#2a2a2a" stroke-width="0.7" fill="none"/>
<path d="M452.6,544.4 V546.6 M451.6,544.95 L453.6,546.05 M451.6,546.05 L453.6,544.95" stroke="#2a2a2a" stroke-width="0.7" fill="none"/>
<path d="M455,544.4 V546.6 M454,544.95 L456,546.05 M454,546.05 L456,544.95" stroke="#2a2a2a" stroke-width="0.7" fill="none"/>
<path d="M457.4,544.4 V546.6 M456.4,544.95 L458.4,546.05 M456.4,546.05 L458.4,544.95" stroke="#2a2a2a" stroke-width="0.7" fill="none"/>
<path d="M451.25,545.9 V547.1 H458.75 V545.9" stroke="#2a2a2a" stroke-width="0.8" fill="none"/>
<line x1="473.3" y1="543.1" x2="486.3" y2="543.1" stroke="#333" stroke-width="0.9" />
<path d="M477.7,540.2 V542.4 M476.7,540.75 L478.7,541.85 M476.7,541.85 L478.7,540.75" stroke="#2a2a2a" stroke-width="0.7" fill="none"/>
<path d="M479.8,540.2 V542.4 M478.8,540.75 L480.8,541.85 M478.8,541.85 L480.8,540.75" stroke="#2a2a2a" stroke-width="0.7" fill="none"/>
<path d="M481.9,540.2 V542.4 M480.9,540.75 L482.9,541.85 M480.9,541.85 L482.9,540.75" stroke="#2a2a2a" stroke-width="0.7" fill="none"/>
<path d="M477.4,544.4 V546.6 M476.4,544.95 L478.4,546.05 M476.4,546.05 L478.4,544.95" stroke="#2a2a2a" stroke-width="0.7" fill="none"/>
<path d="M479.8,544.4 V546.6 M478.8,544.95 L480.8,546.05 M478.8,546.05 L480.8,544.95" stroke="#2a2a2a" stroke-width="0.7" fill="none"/>
<path d="M482.2,544.4 V546.6 M481.2,544.95 L483.2,546.05 M481.2,546.05 L483.2,544.95" stroke="#2a2a2a" stroke-width="0.7" fill="none"/>
<path d="M476.05,545.9 V547.1 H483.55 V545.9" stroke="#2a2a2a" stroke-width="0.8" fill="none"/>
<line x1="498.2" y1="543.1" x2="511.2" y2="543.1" stroke="#333" stroke-width="0.9" />
<path d="M502.6,540.2 V542.4 M501.6,540.75 L503.6,541.85 M501.6,541.85 L503.6,540.75" stroke="#2a2a2a" stroke-width="0.7" fill="none"/>
<path d="M504.7,540.2 V542.4 M503.7,540.75 L505.7,541.85 M503.7,541.85 L505.7,540.75" stroke="#2a2a2a" stroke-width="0.7" fill="none"/>
<path d="M506.8,540.2 V542.4 M505.8,540.75 L507.8,541.85 M505.8,541.85 L507.8,540.75" stroke="#2a2a2a" stroke-width="0.7" fill="none"/>
<path d="M502.3,544.4 V546.6 M501.3,544.95 L503.3,546.05 M501.3,546.05 L503.3,544.95" stroke="#2a2a2a" stroke-width="0.7" fill="none"/>
<path d="M504.7,544.4 V546.6 M503.7,544.95 L505.7,546.05 M503.7,546.05 L505.7,544.95" stroke="#2a2a2a" stroke-width="0.7" fill="none"/>
<path d="M507.1,544.4 V546.6 M506.1,544.95 L508.1,546.05 M506.1,546.05 L508.1,544.95" stroke="#2a2a2a" stroke-width="0.7" fill="none"/>
<path d="M500.95,545.9 V547.1 H508.45 V545.9" stroke="#2a2a2a" stroke-width="0.8" fill="none"/>
</svg></body></html>
